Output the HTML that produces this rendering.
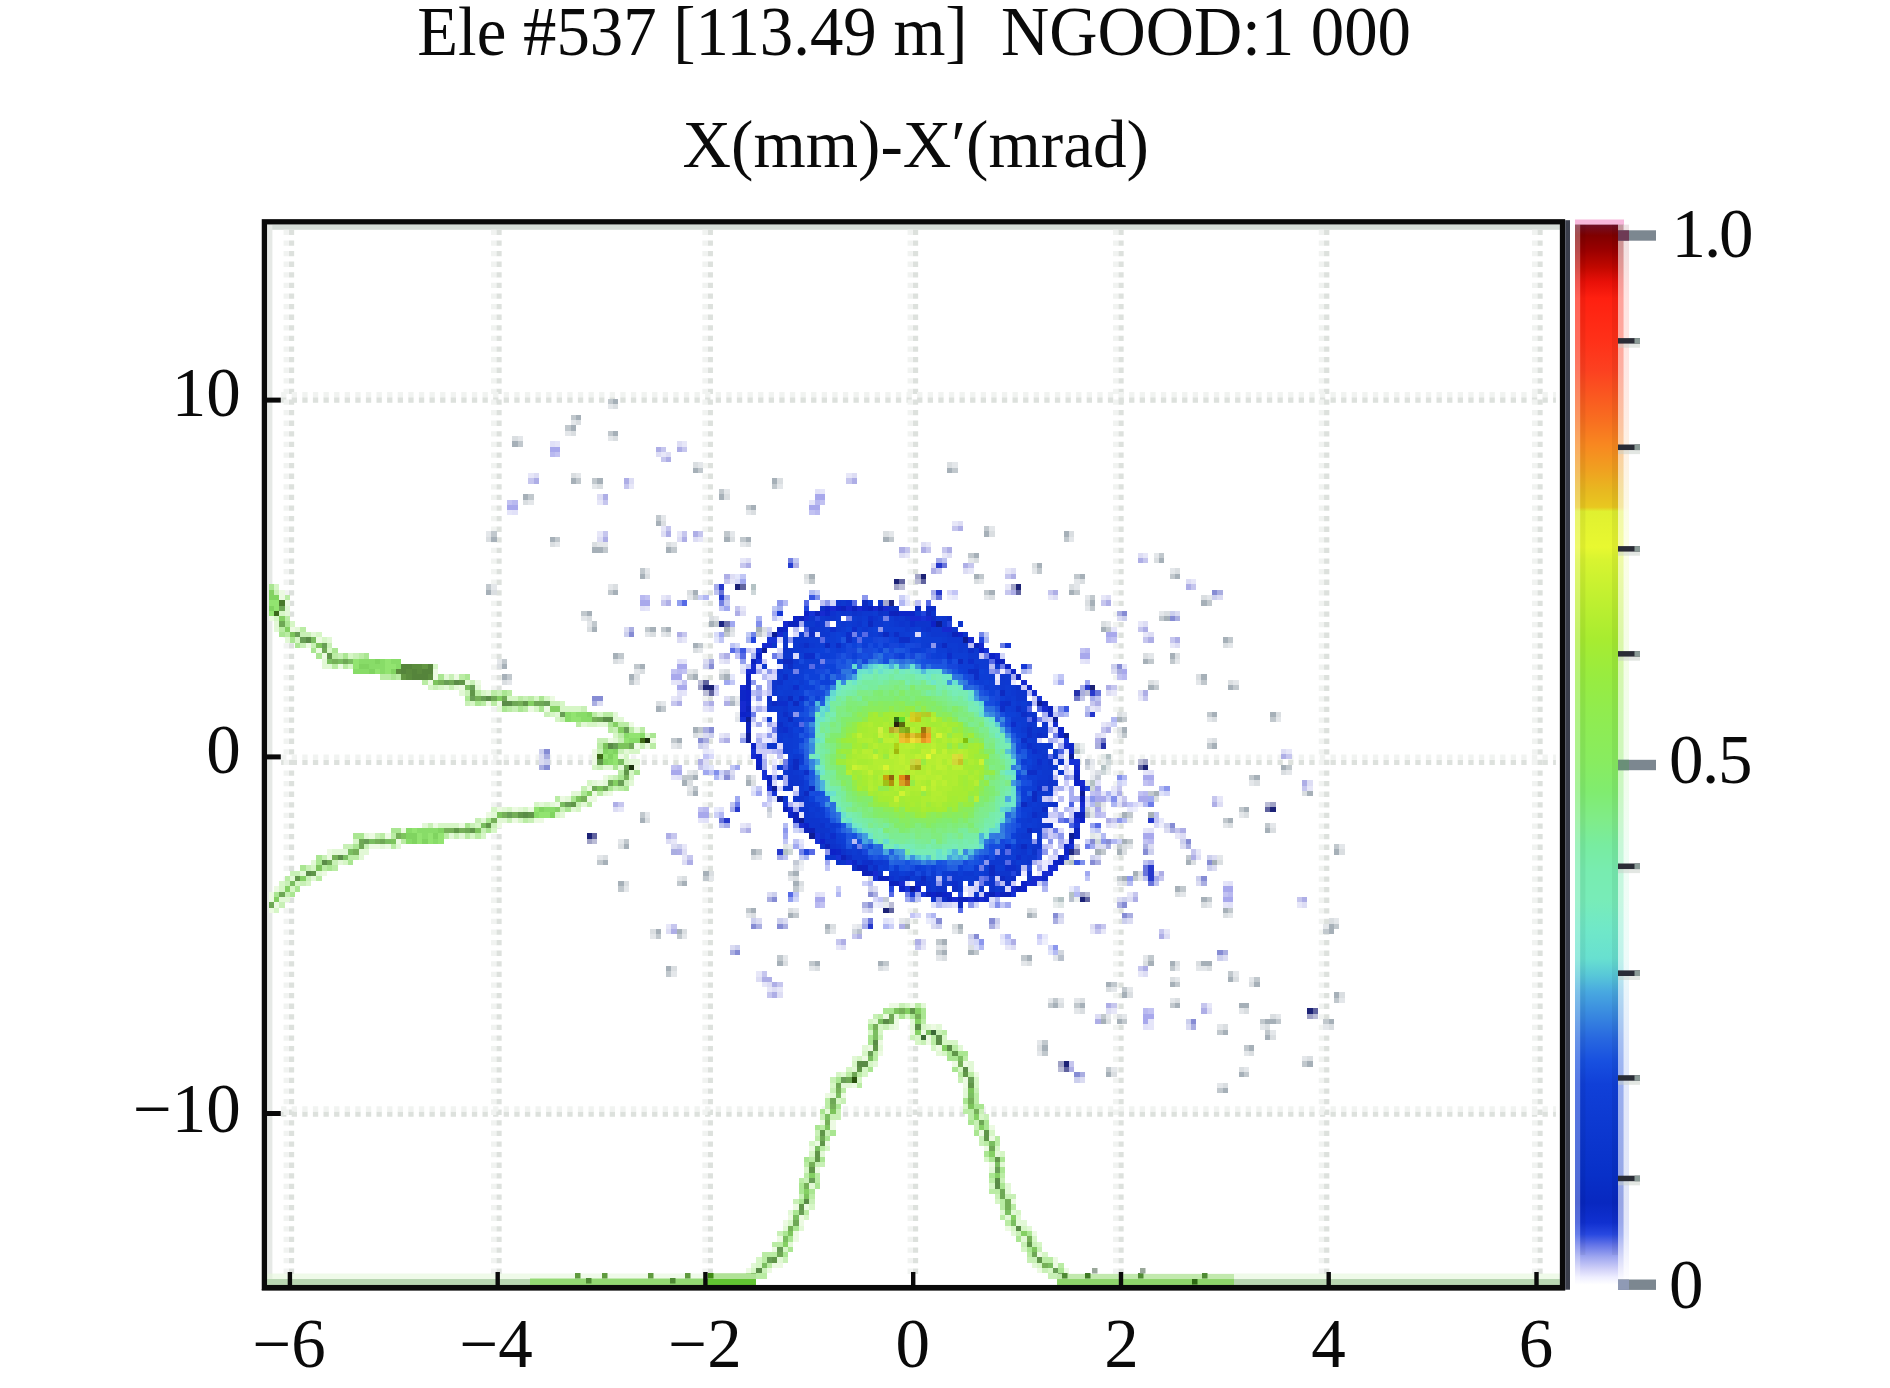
<!DOCTYPE html><html><head><meta charset="utf-8"><title>plot</title>
<style>html,body{margin:0;padding:0;background:#fff;overflow:hidden}svg{display:block}text{font-family:"Liberation Serif",serif;fill:#0a0a0a}</style></head><body>
<svg width="1890" height="1388" viewBox="0 0 1890 1388">
<rect width="1890" height="1388" fill="#fff"/>
<rect x="267.1" y="224.5" width="1292.8" height="5.3" fill="#d6ddd8"/>
<rect x="267.1" y="224.5" width="5.3" height="1060.5" fill="#e6e9e6"/>
<g stroke="#dde1dd" stroke-width="5.3" stroke-dasharray="5.3 5.3" fill="none"><line x1="291.5" y1="229.8" x2="291.5" y2="1279"/><line x1="499" y1="229.8" x2="499" y2="1279"/><line x1="710.3" y1="229.8" x2="710.3" y2="1279"/><line x1="915.5" y1="229.8" x2="915.5" y2="1279"/><line x1="1121" y1="229.8" x2="1121" y2="1279"/><line x1="1326.7" y1="229.8" x2="1326.7" y2="1279"/><line x1="1540" y1="229.8" x2="1540" y2="1279"/><line x1="281.1" y1="400" x2="1555.9" y2="400"/><line x1="281.1" y1="762.4" x2="1555.9" y2="762.4"/><line x1="281.1" y1="1114.2" x2="1555.9" y2="1114.2"/></g>
<g stroke="#f1f3f1" stroke-width="5.3" stroke-dasharray="5.3 5.3" fill="none"><line x1="286.2" y1="229.8" x2="286.2" y2="1279"/><line x1="493.7" y1="229.8" x2="493.7" y2="1279"/><line x1="705" y1="229.8" x2="705" y2="1279"/><line x1="910.2" y1="229.8" x2="910.2" y2="1279"/><line x1="1115.7" y1="229.8" x2="1115.7" y2="1279"/><line x1="1321.4" y1="229.8" x2="1321.4" y2="1279"/><line x1="1534.7" y1="229.8" x2="1534.7" y2="1279"/><line x1="281.1" y1="394.7" x2="1555.9" y2="394.7"/><line x1="281.1" y1="757.1" x2="1555.9" y2="757.1"/><line x1="281.1" y1="1108.9" x2="1555.9" y2="1108.9"/></g>
<defs><filter id="bl" x="-2%" y="-2%" width="104%" height="104%"><feGaussianBlur stdDeviation="0.6"/></filter></defs>
<g shape-rendering="crispEdges" filter="url(#bl)"><path fill="#283cd2" d="M788 563.1h5.3v5.3h-5.3zM719.1 594.9h5.3v5.3h-5.3z"/><path fill="#7380e2" d="M788 557.8h5.3v5.3h-5.3zM719.1 600.2h5.3v5.3h-5.3z"/><path fill="#aeaee6" d="M655.5 446.5h5.3v5.3h-5.3zM676.7 446.5h5.3v5.3h-5.3zM666.1 457.1h5.3v5.3h-5.3zM533.6 478.3h5.3v5.3h-5.3zM623.7 478.3h5.3v5.3h-5.3zM851.6 478.3h5.3v5.3h-5.3zM602.5 494.2h5.3v5.3h-5.3zM957.6 526h5.3v5.3h-5.3zM666.1 531.3h5.3v5.3h-5.3zM692.6 531.3h5.3v5.3h-5.3zM602.5 536.6h5.3v5.3h-5.3zM682 536.6h5.3v5.3h-5.3zM899.3 547.2h5.3v5.3h-5.3zM920.5 547.2h5.3v5.3h-5.3zM947 547.2h5.3v5.3h-5.3zM1137.8 557.8h5.3v5.3h-5.3zM745.6 563.1h5.3v5.3h-5.3zM793.3 563.1h5.3v5.3h-5.3zM962.9 563.1h5.3v5.3h-5.3zM931.1 568.4h5.3v5.3h-5.3zM724.4 573.7h5.3v5.3h-5.3zM1010.6 573.7h5.3v5.3h-5.3zM1185.5 584.3h5.3v5.3h-5.3zM1010.6 589.6h5.3v5.3h-5.3zM1053 589.6h5.3v5.3h-5.3zM666.1 600.2h5.3v5.3h-5.3zM1106 600.2h5.3v5.3h-5.3zM735 610.8h5.3v5.3h-5.3zM1143.1 626.7h5.3v5.3h-5.3zM676.7 632h5.3v5.3h-5.3zM1148.4 637.3h5.3v5.3h-5.3zM1174.9 637.3h5.3v5.3h-5.3zM724.4 653.2h5.3v5.3h-5.3zM1106 685h5.3v5.3h-5.3zM1143.1 690.3h5.3v5.3h-5.3zM676.7 700.9h5.3v5.3h-5.3zM708.5 700.9h5.3v5.3h-5.3zM724.4 700.9h5.3v5.3h-5.3zM1095.4 700.9h5.3v5.3h-5.3zM1106 727.4h5.3v5.3h-5.3zM724.4 738h5.3v5.3h-5.3zM1095.4 738h5.3v5.3h-5.3zM1280.9 753.9h5.3v5.3h-5.3zM697.9 759.2h5.3v5.3h-5.3zM1302.1 780.4h5.3v5.3h-5.3zM1116.6 791h5.3v5.3h-5.3zM613.1 801.6h5.3v5.3h-5.3zM1121.9 801.6h5.3v5.3h-5.3zM1212 801.6h5.3v5.3h-5.3zM1106 817.5h5.3v5.3h-5.3zM745.6 828.1h5.3v5.3h-5.3zM1180.2 828.1h5.3v5.3h-5.3zM666.1 833.4h5.3v5.3h-5.3zM676.7 849.3h5.3v5.3h-5.3zM1190.8 854.6h5.3v5.3h-5.3zM687.3 859.9h5.3v5.3h-5.3zM1159 870.5h5.3v5.3h-5.3zM1132.5 897h5.3v5.3h-5.3zM1302.1 897h5.3v5.3h-5.3zM899.3 923.5h5.3v5.3h-5.3zM1095.4 923.5h5.3v5.3h-5.3zM671.4 928.8h5.3v5.3h-5.3zM856.9 934.1h5.3v5.3h-5.3zM1159 934.1h5.3v5.3h-5.3zM841 939.4h5.3v5.3h-5.3zM915.2 939.4h5.3v5.3h-5.3zM1010.6 939.4h5.3v5.3h-5.3zM1143.1 965.9h5.3v5.3h-5.3zM761.5 976.5h10.6v5.3h-10.6zM772.1 981.8h5.3v5.3h-5.3zM772.1 992.4h5.3v5.3h-5.3zM1106 1003h5.3v5.3h-5.3zM1201.4 1008.3h5.3v5.3h-5.3zM1095.4 1018.9h5.3v5.3h-5.3zM1068.9 1066.6h5.3v5.3h-5.3z"/><path fill="#c3c8f2" d="M793.3 557.8h5.3v5.3h-5.3zM724.4 600.2h5.3v5.3h-5.3z"/><path fill="#a0a8f0" d="M740.3 579h5.3v5.3h-5.3zM724.4 605.5h5.3v5.3h-5.3zM772.1 610.8h5.3v5.3h-5.3zM729.7 621.4h5.3v5.3h-5.3zM719.1 632h5.3v5.3h-5.3zM724.4 679.7h5.3v5.3h-5.3zM1058.3 679.7h5.3v5.3h-5.3zM1084.8 679.7h5.3v5.3h-5.3zM1058.3 711.5h5.3v5.3h-5.3zM735 764.5h5.3v5.3h-5.3zM703.2 769.8h5.3v5.3h-5.3zM756.2 791h5.3v5.3h-5.3zM766.8 791h5.3v5.3h-5.3zM782.7 833.4h5.3v5.3h-5.3zM793.3 844h5.3v5.3h-5.3zM825.1 859.9h5.3v5.3h-5.3zM1084.8 870.5h5.3v5.3h-5.3zM1005.3 902.3h5.3v5.3h-5.3z"/><path fill="#c1c6f5" d="M740.3 573.7h5.3v5.3h-5.3zM719.1 605.5h5.3v5.3h-5.3zM772.1 616.1h5.3v5.3h-5.3zM719.1 637.3h5.3v5.3h-5.3zM745.6 663.8h5.3v5.3h-5.3zM1058.3 674.4h5.3v5.3h-5.3zM729.7 679.7h5.3v5.3h-5.3zM1053 711.5h5.3v5.3h-5.3zM729.7 764.5h5.3v5.3h-5.3zM708.5 769.8h5.3v5.3h-5.3zM756.2 785.7h5.3v5.3h-5.3zM766.8 796.3h5.3v5.3h-5.3zM782.7 838.7h5.3v5.3h-5.3zM793.3 838.7h5.3v5.3h-5.3zM825.1 865.2h5.3v5.3h-5.3zM1084.8 875.8h5.3v5.3h-5.3zM1000 902.3h5.3v5.3h-5.3z"/><path fill="#d9dcf9" d="M735 579h5.3v5.3h-5.3zM713.8 632h5.3v5.3h-5.3zM740.3 669.1h5.3v5.3h-5.3zM1053 679.7h5.3v5.3h-5.3zM703.2 764.5h5.3v5.3h-5.3zM750.9 791h5.3v5.3h-5.3zM798.6 844h5.3v5.3h-5.3z"/><path fill="#e4e7fb" d="M735 573.7h5.3v5.3h-5.3zM777.4 616.1h5.3v5.3h-5.3zM713.8 637.3h5.3v5.3h-5.3zM740.3 663.8h5.3v5.3h-5.3zM729.7 674.4h5.3v5.3h-5.3zM1053 674.4h5.3v5.3h-5.3zM1053 706.2h5.3v5.3h-5.3zM708.5 764.5h5.3v5.3h-5.3zM750.9 785.7h5.3v5.3h-5.3zM772.1 796.3h5.3v5.3h-5.3zM798.6 838.7h5.3v5.3h-5.3z"/><path fill="#b4c2c4" d="M750.9 584.3h5.3v5.3h-5.3zM1074.2 748.6h5.3v5.3h-5.3zM1106 753.9h5.3v5.3h-5.3zM1100.7 764.5h5.3v5.3h-5.3zM1090.1 780.4h5.3v5.3h-5.3zM782.7 849.3h5.3v5.3h-5.3zM1068.9 859.9h5.3v5.3h-5.3zM1068.9 891.7h5.3v5.3h-5.3zM1058.3 897h5.3v5.3h-5.3z"/><path fill="#ced7d9" d="M750.9 589.6h5.3v5.3h-5.3zM1074.2 743.3h5.3v5.3h-5.3zM1106 759.2h5.3v5.3h-5.3zM1100.7 769.8h5.3v5.3h-5.3zM1090.1 785.7h5.3v5.3h-5.3zM1095.4 838.7h5.3v5.3h-5.3zM788 849.3h5.3v5.3h-5.3zM1053 897h5.3v5.3h-5.3z"/><path fill="#c3c5f6" d="M952.3 589.6h5.3v5.3h-5.3zM745.6 647.9h5.3v5.3h-5.3zM735 653.2h5.3v5.3h-5.3zM713.8 685h5.3v5.3h-5.3zM703.2 753.9h5.3v5.3h-5.3zM761.5 801.6h5.3v5.3h-5.3zM1127.2 801.6h5.3v5.3h-5.3zM1153.7 817.5h5.3v5.3h-5.3zM878.1 897h5.3v5.3h-5.3zM909.9 912.9h5.3v5.3h-5.3zM1037.1 934.1h5.3v5.3h-5.3z"/><path fill="#d8d9f9" d="M947 589.6h5.3v5.3h-5.3zM750.9 647.9h5.3v5.3h-5.3zM713.8 690.3h5.3v5.3h-5.3zM708.5 753.9h5.3v5.3h-5.3zM766.8 801.6h5.3v5.3h-5.3zM1132.5 801.6h5.3v5.3h-5.3zM1153.7 822.8h5.3v5.3h-5.3zM872.8 897h5.3v5.3h-5.3zM915.2 912.9h5.3v5.3h-5.3zM1037.1 939.4h5.3v5.3h-5.3z"/><path fill="#e7e8fb" d="M952.3 594.9h5.3v5.3h-5.3zM703.2 748.6h5.3v5.3h-5.3zM1127.2 806.9h5.3v5.3h-5.3zM1159 817.5h5.3v5.3h-5.3zM878.1 902.3h5.3v5.3h-5.3zM1042.4 934.1h5.3v5.3h-5.3z"/><path fill="#eeeffc" d="M947 594.9h5.3v5.3h-5.3zM708.5 748.6h5.3v5.3h-5.3zM1132.5 806.9h5.3v5.3h-5.3zM1159 822.8h5.3v5.3h-5.3zM872.8 902.3h5.3v5.3h-5.3zM1042.4 939.4h5.3v5.3h-5.3z"/><path fill="#b1b7f3" d="M703.2 594.9h5.3v5.3h-5.3zM899.3 600.2h5.3v5.3h-5.3zM766.8 632h5.3v5.3h-5.3zM1111.3 716.8h5.3v5.3h-5.3zM1106 791h5.3v5.3h-5.3zM1143.1 801.6h5.3v5.3h-5.3zM719.1 812.2h5.3v5.3h-5.3zM1111.3 838.7h5.3v5.3h-5.3zM867.5 881.1h5.3v5.3h-5.3zM1042.4 886.4h5.3v5.3h-5.3zM835.7 891.7h5.3v5.3h-5.3zM1074.2 891.7h5.3v5.3h-5.3zM931.1 912.9h5.3v5.3h-5.3zM883.4 923.5h5.3v5.3h-5.3zM1005.3 934.1h5.3v5.3h-5.3z"/><path fill="#ccd0f7" d="M697.9 594.9h5.3v5.3h-5.3zM899.3 594.9h5.3v5.3h-5.3zM766.8 626.7h5.3v5.3h-5.3zM1111.3 722.1h5.3v5.3h-5.3zM1106 796.3h5.3v5.3h-5.3zM713.8 812.2h5.3v5.3h-5.3zM1116.6 838.7h5.3v5.3h-5.3zM862.2 881.1h5.3v5.3h-5.3zM835.7 886.4h5.3v5.3h-5.3zM1074.2 886.4h5.3v5.3h-5.3zM941.7 902.3h5.3v5.3h-5.3zM925.8 912.9h5.3v5.3h-5.3zM888.7 923.5h5.3v5.3h-5.3zM1005.3 939.4h5.3v5.3h-5.3z"/><path fill="#a9b1ed" d="M724.4 594.9h5.3v5.3h-5.3z"/><path fill="#3955e2" d="M809.2 594.9h5.3v5.3h-5.3zM740.3 647.9h5.3v5.3h-5.3zM1063.6 706.2h5.3v5.3h-5.3zM1074.2 859.9h5.3v5.3h-5.3z"/><path fill="#7e90ec" d="M814.5 594.9h5.3v5.3h-5.3zM1058.3 706.2h5.3v5.3h-5.3zM1079.5 859.9h5.3v5.3h-5.3z"/><path fill="#b0bbf3" d="M809.2 589.6h5.3v5.3h-5.3zM1063.6 711.5h5.3v5.3h-5.3z"/><path fill="#c8cff7" d="M814.5 589.6h5.3v5.3h-5.3z"/><path fill="#576be6" d="M682 600.2h5.3v5.3h-5.3zM803.9 600.2h5.3v5.3h-5.3zM851.6 600.2h5.3v5.3h-5.3zM925.8 600.2h5.3v5.3h-5.3zM862.2 632h5.3v5.3h-5.3zM819.8 637.3h5.3v5.3h-5.3zM856.9 637.3h5.3v5.3h-5.3zM729.7 647.9h5.3v5.3h-5.3zM740.3 653.2h5.3v5.3h-5.3zM989.4 658.5h5.3v5.3h-5.3zM809.2 663.8h5.3v5.3h-5.3zM1026.5 706.2h5.3v5.3h-5.3zM1026.5 716.8h5.3v5.3h-5.3zM798.6 722.1h5.3v5.3h-5.3zM1047.7 753.9h5.3v5.3h-5.3zM782.7 764.5h5.3v5.3h-5.3zM1095.4 822.8h5.3v5.3h-5.3zM809.2 849.3h5.3v5.3h-5.3zM1005.3 849.3h5.3v5.3h-5.3zM1005.3 859.9h5.3v5.3h-5.3zM984.1 875.8h5.3v5.3h-5.3zM788 891.7h5.3v5.3h-5.3zM888.7 891.7h5.3v5.3h-5.3zM957.6 907.6h5.3v5.3h-5.3z"/><path fill="#929fef" d="M676.7 600.2h5.3v5.3h-5.3zM735 647.9h5.3v5.3h-5.3zM740.3 658.5h5.3v5.3h-5.3zM740.3 738h5.3v5.3h-5.3zM793.3 822.8h5.3v5.3h-5.3zM1090.1 822.8h5.3v5.3h-5.3zM788 897h5.3v5.3h-5.3z"/><path fill="#8c97ed" d="M862.2 594.9h5.3v5.3h-5.3zM777.4 600.2h5.3v5.3h-5.3zM825.1 600.2h5.3v5.3h-5.3zM825.1 621.4h5.3v5.3h-5.3zM878.1 626.7h5.3v5.3h-5.3zM803.9 632h5.3v5.3h-5.3zM788 637.3h5.3v5.3h-5.3zM931.1 642.6h5.3v5.3h-5.3zM766.8 669.1h5.3v5.3h-5.3zM989.4 669.1h5.3v5.3h-5.3zM1005.3 669.1h5.3v5.3h-5.3zM750.9 679.7h5.3v5.3h-5.3zM756.2 685h5.3v5.3h-5.3zM756.2 695.6h5.3v5.3h-5.3zM793.3 711.5h5.3v5.3h-5.3zM766.8 732.7h5.3v5.3h-5.3zM1063.6 775.1h5.3v5.3h-5.3zM1164.3 785.7h5.3v5.3h-5.3zM1090.1 796.3h5.3v5.3h-5.3zM1116.6 817.5h5.3v5.3h-5.3zM782.7 828.1h5.3v5.3h-5.3zM1042.4 833.4h5.3v5.3h-5.3zM1058.3 833.4h5.3v5.3h-5.3zM1031.8 838.7h5.3v5.3h-5.3zM1047.7 838.7h5.3v5.3h-5.3zM1100.7 838.7h5.3v5.3h-5.3zM825.1 849.3h5.3v5.3h-5.3zM994.7 849.3h5.3v5.3h-5.3zM1042.4 849.3h5.3v5.3h-5.3zM984.1 859.9h5.3v5.3h-5.3zM1127.2 875.8h5.3v5.3h-5.3zM936.4 881.1h5.3v5.3h-5.3zM1042.4 881.1h5.3v5.3h-5.3zM936.4 897h5.3v5.3h-5.3zM968.2 902.3h5.3v5.3h-5.3zM978.8 939.4h5.3v5.3h-5.3zM1053 944.7h5.3v5.3h-5.3z"/><path fill="#b4bbf3" d="M782.7 600.2h5.3v5.3h-5.3zM1159 785.7h5.3v5.3h-5.3zM1090.1 801.6h5.3v5.3h-5.3zM1121.9 817.5h5.3v5.3h-5.3zM782.7 822.8h5.3v5.3h-5.3zM1100.7 833.4h5.3v5.3h-5.3zM1127.2 881.1h5.3v5.3h-5.3zM936.4 902.3h5.3v5.3h-5.3zM978.8 944.7h5.3v5.3h-5.3zM1053 950h5.3v5.3h-5.3z"/><path fill="#1024c8" d="M825.1 605.5h5.3v5.3h-5.3zM835.7 605.5h5.3v5.3h-5.3zM803.9 610.8h5.3v5.3h-5.3zM793.3 616.1h5.3v5.3h-5.3zM931.1 621.4h5.3v5.3h-5.3zM957.6 632h5.3v5.3h-5.3zM978.8 647.9h5.3v5.3h-5.3zM756.2 653.2h5.3v5.3h-5.3zM989.4 653.2h5.3v5.3h-5.3zM994.7 658.5h5.3v5.3h-5.3zM1005.3 663.8h5.3v5.3h-5.3zM745.6 674.4h5.3v5.3h-5.3zM1026.5 685h5.3v5.3h-5.3zM745.6 690.3h5.3v5.3h-5.3zM745.6 695.6h5.3v5.3h-5.3zM740.3 711.5h5.3v5.3h-5.3zM1058.3 727.4h5.3v5.3h-5.3zM1058.3 732.7h5.3v5.3h-5.3zM750.9 743.3h5.3v5.3h-5.3zM1068.9 748.6h5.3v5.3h-5.3zM756.2 753.9h5.3v5.3h-5.3zM756.2 759.2h5.3v5.3h-5.3zM1074.2 769.8h5.3v5.3h-5.3zM1074.2 780.4h5.3v5.3h-5.3zM1079.5 785.7h5.3v5.3h-5.3zM1079.5 817.5h5.3v5.3h-5.3zM803.9 822.8h5.3v5.3h-5.3zM819.8 838.7h5.3v5.3h-5.3zM830.4 849.3h5.3v5.3h-5.3zM1063.6 849.3h5.3v5.3h-5.3zM1053 859.9h5.3v5.3h-5.3zM1021.2 881.1h5.3v5.3h-5.3zM899.3 886.4h5.3v5.3h-5.3zM915.2 886.4h5.3v5.3h-5.3zM1021.2 886.4h5.3v5.3h-5.3zM931.1 891.7h5.3v5.3h-5.3zM941.7 891.7h5.3v5.3h-5.3z"/><path fill="#d1d5f8" d="M830.4 600.2h5.3v5.3h-5.3zM1000 653.2h5.3v5.3h-5.3zM1164.3 791h5.3v5.3h-5.3zM1084.8 796.3h5.3v5.3h-5.3zM1037.1 881.1h5.3v5.3h-5.3zM947 902.3h5.3v5.3h-5.3zM973.5 902.3h5.3v5.3h-5.3zM973.5 939.4h5.3v5.3h-5.3zM1047.7 944.7h5.3v5.3h-5.3z"/><path fill="#122ad0" d="M830.4 605.5h5.3v5.3h-5.3zM846.3 605.5h5.3v5.3h-5.3zM856.9 605.5h5.3v5.3h-5.3zM872.8 605.5h5.3v5.3h-5.3zM883.4 605.5h5.3v5.3h-5.3zM819.8 610.8h5.3v5.3h-5.3zM803.9 616.1h5.3v5.3h-5.3zM909.9 616.1h10.6v5.3h-10.6zM925.8 616.1h5.3v5.3h-5.3zM782.7 621.4h5.3v5.3h-5.3zM941.7 626.7h10.6v5.3h-10.6zM777.4 632h5.3v5.3h-5.3zM968.2 637.3h5.3v5.3h-5.3zM761.5 642.6h10.6v5.3h-10.6zM978.8 642.6h5.3v5.3h-5.3zM994.7 653.2h5.3v5.3h-5.3zM750.9 663.8h5.3v5.3h-5.3zM745.6 669.1h10.6v5.3h-10.6zM1021.2 679.7h5.3v5.3h-5.3zM740.3 685h5.3v5.3h-5.3zM1031.8 690.3h5.3v5.3h-5.3zM740.3 700.9h5.3v5.3h-5.3zM740.3 706.2h5.3v5.3h-5.3zM1042.4 706.2h5.3v5.3h-5.3zM1053 722.1h5.3v5.3h-5.3zM1063.6 743.3h5.3v5.3h-5.3zM750.9 753.9h5.3v5.3h-5.3zM1074.2 764.5h5.3v5.3h-5.3zM1079.5 780.4h5.3v5.3h-5.3zM766.8 785.7h5.3v5.3h-5.3zM1079.5 801.6h5.3v5.3h-5.3zM788 806.9h5.3v5.3h-5.3zM1074.2 817.5h5.3v5.3h-5.3zM798.6 822.8h5.3v5.3h-5.3zM1047.7 865.2h10.6v5.3h-10.6zM872.8 870.5h5.3v5.3h-5.3zM1042.4 870.5h10.6v5.3h-10.6zM1031.8 875.8h10.6v5.3h-10.6zM899.3 881.1h5.3v5.3h-5.3zM1026.5 881.1h10.6v5.3h-10.6zM1010.6 886.4h5.3v5.3h-5.3zM994.7 891.7h5.3v5.3h-5.3zM952.3 897h5.3v5.3h-5.3zM968.2 897h5.3v5.3h-5.3zM978.8 897h5.3v5.3h-5.3z"/><path fill="#0b36ce" d="M835.7 600.2h5.3v5.3h-5.3zM841 610.8h5.3v5.3h-5.3zM825.1 616.1h5.3v5.3h-5.3zM872.8 616.1h5.3v5.3h-5.3zM894 616.1h5.3v5.3h-5.3zM856.9 621.4h5.3v5.3h-5.3zM899.3 621.4h5.3v5.3h-5.3zM925.8 621.4h5.3v5.3h-5.3zM941.7 621.4h5.3v5.3h-5.3zM920.5 626.7h5.3v5.3h-5.3zM798.6 642.6h5.3v5.3h-5.3zM788 653.2h5.3v5.3h-5.3zM973.5 663.8h5.3v5.3h-5.3zM777.4 669.1h5.3v5.3h-5.3zM1000 674.4h5.3v5.3h-5.3zM1021.2 695.6h5.3v5.3h-5.3zM1026.5 700.9h5.3v5.3h-5.3zM766.8 706.2h5.3v5.3h-5.3zM782.7 706.2h5.3v5.3h-5.3zM1026.5 711.5h5.3v5.3h-5.3zM1042.4 722.1h5.3v5.3h-5.3zM1031.8 732.7h5.3v5.3h-5.3zM766.8 743.3h10.6v5.3h-10.6zM1031.8 743.3h5.3v5.3h-5.3zM1037.1 748.6h5.3v5.3h-5.3zM777.4 764.5h5.3v5.3h-5.3zM1037.1 764.5h5.3v5.3h-5.3zM1047.7 764.5h5.3v5.3h-5.3zM788 769.8h5.3v5.3h-5.3zM1058.3 769.8h5.3v5.3h-5.3zM788 775.1h5.3v5.3h-5.3zM798.6 780.4h5.3v5.3h-5.3zM1037.1 780.4h10.6v5.3h-10.6zM1053 780.4h5.3v5.3h-5.3zM1047.7 785.7h5.3v5.3h-5.3zM798.6 806.9h5.3v5.3h-5.3zM803.9 812.2h5.3v5.3h-5.3zM803.9 817.5h5.3v5.3h-5.3zM814.5 817.5h5.3v5.3h-5.3zM809.2 822.8h5.3v5.3h-5.3zM1031.8 828.1h5.3v5.3h-5.3zM835.7 844h5.3v5.3h-5.3zM1015.9 844h5.3v5.3h-5.3zM1021.2 849.3h5.3v5.3h-5.3zM830.4 854.6h5.3v5.3h-5.3zM1026.5 854.6h5.3v5.3h-5.3zM1010.6 859.9h5.3v5.3h-5.3zM1015.9 865.2h5.3v5.3h-5.3zM909.9 870.5h5.3v5.3h-5.3zM994.7 870.5h5.3v5.3h-5.3z"/><path fill="#0b37cf" d="M841 600.2h5.3v5.3h-5.3zM846.3 610.8h5.3v5.3h-5.3zM915.2 610.8h5.3v5.3h-5.3zM856.9 616.1h5.3v5.3h-5.3zM899.3 616.1h5.3v5.3h-5.3zM809.2 621.4h5.3v5.3h-5.3zM819.8 621.4h5.3v5.3h-5.3zM904.6 621.4h5.3v5.3h-5.3zM798.6 632h5.3v5.3h-5.3zM878.1 632h5.3v5.3h-5.3zM994.7 663.8h5.3v5.3h-5.3zM1005.3 674.4h5.3v5.3h-5.3zM1010.6 685h5.3v5.3h-5.3zM772.1 690.3h5.3v5.3h-5.3zM1031.8 727.4h5.3v5.3h-5.3zM1042.4 748.6h5.3v5.3h-5.3zM1037.1 791h5.3v5.3h-5.3zM803.9 801.6h5.3v5.3h-5.3zM1042.4 812.2h5.3v5.3h-5.3zM1037.1 822.8h5.3v5.3h-5.3zM1026.5 833.4h5.3v5.3h-5.3zM1037.1 833.4h5.3v5.3h-5.3zM846.3 849.3h5.3v5.3h-5.3zM1031.8 854.6h5.3v5.3h-5.3zM1021.2 859.9h5.3v5.3h-5.3zM867.5 865.2h5.3v5.3h-5.3zM931.1 875.8h5.3v5.3h-5.3z"/><path fill="#1030cf" d="M846.3 600.2h5.3v5.3h-5.3zM830.4 610.8h5.3v5.3h-5.3zM814.5 621.4h5.3v5.3h-5.3zM1037.1 844h5.3v5.3h-5.3zM888.7 875.8h5.3v5.3h-5.3zM925.8 886.4h5.3v5.3h-5.3z"/><path fill="#0c38d0" d="M867.5 600.2h5.3v5.3h-5.3zM835.7 610.8h5.3v5.3h-5.3zM862.2 610.8h10.6v5.3h-10.6zM936.4 616.1h5.3v5.3h-5.3zM841 621.4h5.3v5.3h-5.3zM872.8 621.4h5.3v5.3h-5.3zM894 621.4h5.3v5.3h-5.3zM819.8 626.7h5.3v5.3h-5.3zM835.7 626.7h5.3v5.3h-5.3zM904.6 626.7h5.3v5.3h-5.3zM936.4 626.7h5.3v5.3h-5.3zM936.4 632h5.3v5.3h-5.3zM947 637.3h5.3v5.3h-5.3zM957.6 637.3h5.3v5.3h-5.3zM793.3 642.6h5.3v5.3h-5.3zM962.9 642.6h5.3v5.3h-5.3zM793.3 647.9h5.3v5.3h-5.3zM947 647.9h5.3v5.3h-5.3zM973.5 647.9h5.3v5.3h-5.3zM761.5 663.8h5.3v5.3h-5.3zM782.7 663.8h5.3v5.3h-5.3zM1000 685h5.3v5.3h-5.3zM1021.2 706.2h5.3v5.3h-5.3zM777.4 711.5h5.3v5.3h-5.3zM766.8 716.8h5.3v5.3h-5.3zM777.4 716.8h5.3v5.3h-5.3zM782.7 722.1h5.3v5.3h-5.3zM1031.8 722.1h5.3v5.3h-5.3zM1021.2 727.4h5.3v5.3h-5.3zM777.4 732.7h5.3v5.3h-5.3zM777.4 738h5.3v5.3h-5.3zM1037.1 743.3h5.3v5.3h-5.3zM793.3 753.9h5.3v5.3h-5.3zM788 759.2h5.3v5.3h-5.3zM1053 764.5h5.3v5.3h-5.3zM782.7 769.8h5.3v5.3h-5.3zM793.3 769.8h5.3v5.3h-5.3zM1042.4 775.1h5.3v5.3h-5.3zM798.6 785.7h5.3v5.3h-5.3zM803.9 796.3h5.3v5.3h-5.3zM1026.5 801.6h5.3v5.3h-5.3zM1037.1 801.6h5.3v5.3h-5.3zM1031.8 806.9h10.6v5.3h-10.6zM1026.5 817.5h5.3v5.3h-5.3zM830.4 822.8h5.3v5.3h-5.3zM1021.2 833.4h5.3v5.3h-5.3zM1015.9 849.3h5.3v5.3h-5.3zM851.6 854.6h15.9v5.3h-15.9zM1021.2 854.6h5.3v5.3h-5.3zM878.1 859.9h5.3v5.3h-5.3zM888.7 870.5h10.6v5.3h-10.6zM968.2 870.5h5.3v5.3h-5.3zM984.1 870.5h5.3v5.3h-5.3zM915.2 875.8h5.3v5.3h-5.3z"/><path fill="#0a35cd" d="M878.1 600.2h5.3v5.3h-5.3zM931.1 610.8h5.3v5.3h-5.3zM809.2 616.1h5.3v5.3h-5.3zM814.5 626.7h5.3v5.3h-5.3zM947 632h5.3v5.3h-5.3zM782.7 637.3h5.3v5.3h-5.3zM1021.2 690.3h5.3v5.3h-5.3zM1026.5 722.1h5.3v5.3h-5.3zM1047.7 743.3h5.3v5.3h-5.3zM1053 753.9h5.3v5.3h-5.3zM793.3 775.1h5.3v5.3h-5.3zM809.2 817.5h5.3v5.3h-5.3zM1026.5 859.9h5.3v5.3h-5.3zM989.4 875.8h5.3v5.3h-5.3z"/><path fill="#1e2882" d="M888.7 600.2h5.3v5.3h-5.3zM719.1 621.4h5.3v5.3h-5.3zM1068.9 849.3h5.3v5.3h-5.3z"/><path fill="#0932ca" d="M888.7 605.5h5.3v5.3h-5.3zM777.4 679.7h5.3v5.3h-5.3zM1015.9 685h5.3v5.3h-5.3zM766.8 700.9h5.3v5.3h-5.3zM1042.4 732.7h5.3v5.3h-5.3zM1058.3 759.2h5.3v5.3h-5.3zM777.4 775.1h5.3v5.3h-5.3zM788 780.4h5.3v5.3h-5.3zM782.7 785.7h5.3v5.3h-5.3zM819.8 833.4h5.3v5.3h-5.3zM835.7 859.9h5.3v5.3h-5.3z"/><path fill="#a5a9cd" d="M883.4 600.2h5.3v5.3h-5.3z"/><path fill="#e0e2fa" d="M904.6 600.2h5.3v5.3h-5.3zM1111.3 791h5.3v5.3h-5.3zM719.1 806.9h5.3v5.3h-5.3zM883.4 918.2h5.3v5.3h-5.3zM931.1 918.2h5.3v5.3h-5.3zM1000 934.1h5.3v5.3h-5.3z"/><path fill="#e9ebfc" d="M904.6 594.9h5.3v5.3h-5.3zM713.8 806.9h5.3v5.3h-5.3zM1068.9 886.4h5.3v5.3h-5.3zM888.7 918.2h5.3v5.3h-5.3zM925.8 918.2h5.3v5.3h-5.3zM1000 939.4h5.3v5.3h-5.3z"/><path fill="#0e22be" d="M841 605.5h5.3v5.3h-5.3zM851.6 605.5h5.3v5.3h-5.3zM867.5 605.5h5.3v5.3h-5.3zM888.7 610.8h5.3v5.3h-5.3zM788 621.4h10.6v5.3h-10.6zM777.4 626.7h5.3v5.3h-5.3zM750.9 658.5h5.3v5.3h-5.3zM1000 658.5h5.3v5.3h-5.3zM745.6 685h5.3v5.3h-5.3zM1042.4 700.9h5.3v5.3h-5.3zM745.6 706.2h5.3v5.3h-5.3zM1047.7 706.2h5.3v5.3h-5.3zM1047.7 711.5h5.3v5.3h-5.3zM1079.5 796.3h5.3v5.3h-5.3zM1074.2 812.2h5.3v5.3h-5.3zM1074.2 828.1h5.3v5.3h-5.3zM1074.2 833.4h5.3v5.3h-5.3zM1068.9 838.7h5.3v5.3h-5.3zM1058.3 859.9h5.3v5.3h-5.3zM862.2 865.2h5.3v5.3h-5.3zM867.5 870.5h5.3v5.3h-5.3zM883.4 875.8h5.3v5.3h-5.3zM888.7 881.1h10.6v5.3h-10.6zM1000 891.7h5.3v5.3h-5.3zM947 897h5.3v5.3h-5.3zM957.6 897h10.6v5.3h-10.6zM973.5 897h5.3v5.3h-5.3z"/><path fill="#0831c9" d="M894 605.5h5.3v5.3h-5.3zM878.1 610.8h5.3v5.3h-5.3zM1047.7 759.2h5.3v5.3h-5.3zM1000 886.4h5.3v5.3h-5.3z"/><path fill="#082fc7" d="M819.8 605.5h5.3v5.3h-5.3zM925.8 605.5h10.6v5.3h-10.6zM931.1 616.1h5.3v5.3h-5.3zM947 616.1h5.3v5.3h-5.3zM809.2 632h5.3v5.3h-5.3zM894 632h5.3v5.3h-5.3zM846.3 637.3h5.3v5.3h-5.3zM899.3 637.3h10.6v5.3h-10.6zM803.9 642.6h5.3v5.3h-5.3zM835.7 642.6h5.3v5.3h-5.3zM968.2 647.9h5.3v5.3h-5.3zM788 663.8h5.3v5.3h-5.3zM968.2 669.1h10.6v5.3h-10.6zM782.7 674.4h5.3v5.3h-5.3zM973.5 674.4h5.3v5.3h-5.3zM766.8 695.6h5.3v5.3h-5.3zM1005.3 700.9h5.3v5.3h-5.3zM1000 706.2h5.3v5.3h-5.3zM1015.9 706.2h5.3v5.3h-5.3zM782.7 711.5h5.3v5.3h-5.3zM1021.2 711.5h5.3v5.3h-5.3zM777.4 722.1h5.3v5.3h-5.3zM1026.5 727.4h5.3v5.3h-5.3zM1026.5 732.7h5.3v5.3h-5.3zM1037.1 732.7h5.3v5.3h-5.3zM1021.2 738h5.3v5.3h-5.3zM803.9 769.8h5.3v5.3h-5.3zM1026.5 769.8h10.6v5.3h-10.6zM1031.8 812.2h5.3v5.3h-5.3zM846.3 854.6h5.3v5.3h-5.3zM867.5 859.9h5.3v5.3h-5.3zM851.6 865.2h5.3v5.3h-5.3zM872.8 865.2h5.3v5.3h-5.3zM904.6 875.8h5.3v5.3h-5.3zM1010.6 875.8h5.3v5.3h-5.3zM920.5 881.1h5.3v5.3h-5.3zM1005.3 881.1h5.3v5.3h-5.3zM952.3 886.4h5.3v5.3h-5.3zM941.7 897h5.3v5.3h-5.3z"/><path fill="#1939d6" d="M777.4 610.8h5.3v5.3h-5.3zM1005.3 642.6h5.3v5.3h-5.3zM1021.2 663.8h5.3v5.3h-5.3zM909.9 891.7h5.3v5.3h-5.3z"/><path fill="#a3b0ef" d="M777.4 605.5h5.3v5.3h-5.3zM750.9 653.2h5.3v5.3h-5.3zM1021.2 669.1h5.3v5.3h-5.3zM915.2 891.7h5.3v5.3h-5.3z"/><path fill="#bfc8f4" d="M772.1 605.5h5.3v5.3h-5.3zM1026.5 669.1h5.3v5.3h-5.3zM915.2 897h5.3v5.3h-5.3z"/><path fill="#0e20ba" d="M878.1 605.5h5.3v5.3h-5.3zM814.5 610.8h5.3v5.3h-5.3zM894 610.8h5.3v5.3h-5.3zM798.6 616.1h5.3v5.3h-5.3zM952.3 632h5.3v5.3h-5.3zM973.5 642.6h5.3v5.3h-5.3zM1015.9 674.4h5.3v5.3h-5.3zM745.6 679.7h5.3v5.3h-5.3zM745.6 722.1h5.3v5.3h-5.3zM745.6 727.4h5.3v5.3h-5.3zM756.2 764.5h5.3v5.3h-5.3zM1074.2 775.1h5.3v5.3h-5.3zM766.8 780.4h5.3v5.3h-5.3zM782.7 806.9h5.3v5.3h-5.3zM793.3 812.2h5.3v5.3h-5.3zM1079.5 812.2h5.3v5.3h-5.3zM793.3 817.5h5.3v5.3h-5.3zM803.9 828.1h10.6v5.3h-10.6zM825.1 844h5.3v5.3h-5.3zM841 854.6h5.3v5.3h-5.3zM1058.3 854.6h5.3v5.3h-5.3zM856.9 865.2h5.3v5.3h-5.3zM862.2 870.5h5.3v5.3h-5.3zM878.1 875.8h5.3v5.3h-5.3zM1015.9 886.4h5.3v5.3h-5.3zM925.8 891.7h5.3v5.3h-5.3zM936.4 891.7h5.3v5.3h-5.3zM989.4 891.7h5.3v5.3h-5.3zM1005.3 891.7h5.3v5.3h-5.3z"/><path fill="#0b35cd" d="M856.9 610.8h5.3v5.3h-5.3zM941.7 616.1h5.3v5.3h-5.3zM915.2 621.4h5.3v5.3h-5.3zM777.4 658.5h5.3v5.3h-5.3zM772.1 685h5.3v5.3h-5.3zM1015.9 690.3h5.3v5.3h-5.3zM1037.1 727.4h10.6v5.3h-10.6zM1047.7 775.1h5.3v5.3h-5.3zM803.9 806.9h5.3v5.3h-5.3zM1037.1 812.2h5.3v5.3h-5.3zM814.5 822.8h5.3v5.3h-5.3zM825.1 828.1h5.3v5.3h-5.3zM1037.1 828.1h5.3v5.3h-5.3zM830.4 838.7h5.3v5.3h-5.3zM1037.1 838.7h5.3v5.3h-5.3zM1000 870.5h5.3v5.3h-5.3zM925.8 881.1h5.3v5.3h-5.3zM947 881.1h5.3v5.3h-5.3zM973.5 891.7h5.3v5.3h-5.3z"/><path fill="#0d3ad2" d="M872.8 610.8h5.3v5.3h-5.3zM851.6 616.1h5.3v5.3h-5.3zM878.1 616.1h5.3v5.3h-5.3zM888.7 616.1h5.3v5.3h-5.3zM835.7 621.4h5.3v5.3h-5.3zM846.3 621.4h5.3v5.3h-5.3zM888.7 621.4h5.3v5.3h-5.3zM825.1 626.7h5.3v5.3h-5.3zM899.3 632h5.3v5.3h-5.3zM925.8 632h5.3v5.3h-5.3zM814.5 637.3h5.3v5.3h-5.3zM941.7 637.3h5.3v5.3h-5.3zM814.5 642.6h5.3v5.3h-5.3zM947 642.6h10.6v5.3h-10.6zM952.3 647.9h5.3v5.3h-5.3zM962.9 647.9h5.3v5.3h-5.3zM973.5 658.5h15.9v5.3h-15.9zM798.6 663.8h5.3v5.3h-5.3zM984.1 663.8h5.3v5.3h-5.3zM782.7 669.1h10.6v5.3h-10.6zM989.4 674.4h5.3v5.3h-5.3zM798.6 679.7h5.3v5.3h-5.3zM777.4 685h5.3v5.3h-5.3zM984.1 685h5.3v5.3h-5.3zM1005.3 685h5.3v5.3h-5.3zM782.7 690.3h10.6v5.3h-10.6zM1005.3 690.3h5.3v5.3h-5.3zM1010.6 695.6h5.3v5.3h-5.3zM1015.9 716.8h5.3v5.3h-5.3zM1021.2 722.1h5.3v5.3h-5.3zM782.7 732.7h5.3v5.3h-5.3zM782.7 743.3h5.3v5.3h-5.3zM798.6 753.9h5.3v5.3h-5.3zM1031.8 753.9h5.3v5.3h-5.3zM1031.8 759.2h5.3v5.3h-5.3zM1031.8 780.4h5.3v5.3h-5.3zM1047.7 791h5.3v5.3h-5.3zM814.5 812.2h10.6v5.3h-10.6zM1021.2 817.5h5.3v5.3h-5.3zM1031.8 822.8h5.3v5.3h-5.3zM1015.9 833.4h5.3v5.3h-5.3zM841 844h5.3v5.3h-5.3zM851.6 849.3h5.3v5.3h-5.3zM1000 849.3h5.3v5.3h-5.3zM1010.6 849.3h5.3v5.3h-5.3zM825.1 854.6h5.3v5.3h-5.3zM883.4 859.9h5.3v5.3h-5.3zM920.5 870.5h5.3v5.3h-5.3zM931.1 870.5h5.3v5.3h-5.3zM941.7 870.5h5.3v5.3h-5.3zM925.8 875.8h5.3v5.3h-5.3zM962.9 875.8h10.6v5.3h-10.6z"/><path fill="#0a34cc" d="M883.4 610.8h5.3v5.3h-5.3zM830.4 616.1h5.3v5.3h-5.3zM920.5 621.4h5.3v5.3h-5.3zM957.6 621.4h5.3v5.3h-5.3zM952.3 626.7h5.3v5.3h-5.3zM962.9 632h5.3v5.3h-5.3zM772.1 642.6h5.3v5.3h-5.3zM782.7 642.6h5.3v5.3h-5.3zM788 647.9h5.3v5.3h-5.3zM782.7 653.2h5.3v5.3h-5.3zM772.1 679.7h5.3v5.3h-5.3zM777.4 695.6h5.3v5.3h-5.3zM1015.9 695.6h5.3v5.3h-5.3zM1031.8 711.5h5.3v5.3h-5.3zM1042.4 753.9h5.3v5.3h-5.3zM788 764.5h5.3v5.3h-5.3zM793.3 780.4h5.3v5.3h-5.3zM782.7 796.3h5.3v5.3h-5.3zM1042.4 822.8h5.3v5.3h-5.3zM814.5 828.1h10.6v5.3h-10.6zM1031.8 844h5.3v5.3h-5.3zM841 859.9h5.3v5.3h-5.3zM878.1 870.5h5.3v5.3h-5.3zM1005.3 870.5h5.3v5.3h-5.3zM941.7 881.1h5.3v5.3h-5.3zM957.6 886.4h5.3v5.3h-5.3zM978.8 886.4h5.3v5.3h-5.3z"/><path fill="#1026c8" d="M862.2 605.5h5.3v5.3h-5.3zM825.1 610.8h5.3v5.3h-5.3zM899.3 610.8h15.9v5.3h-15.9zM782.7 626.7h5.3v5.3h-5.3zM1010.6 669.1h5.3v5.3h-5.3zM740.3 690.3h5.3v5.3h-5.3zM740.3 695.6h5.3v5.3h-5.3zM745.6 700.9h5.3v5.3h-5.3zM745.6 711.5h5.3v5.3h-5.3zM1068.9 743.3h5.3v5.3h-5.3zM766.8 775.1h5.3v5.3h-5.3zM788 812.2h5.3v5.3h-5.3zM1063.6 844h5.3v5.3h-5.3zM835.7 849.3h5.3v5.3h-5.3zM851.6 859.9h5.3v5.3h-5.3zM1042.4 875.8h5.3v5.3h-5.3zM947 891.7h5.3v5.3h-5.3zM984.1 891.7h5.3v5.3h-5.3zM984.1 897h5.3v5.3h-5.3z"/><path fill="#2444dd" d="M803.9 605.5h5.3v5.3h-5.3zM920.5 610.8h5.3v5.3h-5.3zM814.5 616.1h5.3v5.3h-5.3zM947 621.4h5.3v5.3h-5.3zM750.9 637.3h5.3v5.3h-5.3zM978.8 637.3h5.3v5.3h-5.3zM1084.8 785.7h5.3v5.3h-5.3zM803.9 849.3h5.3v5.3h-5.3zM1037.1 849.3h5.3v5.3h-5.3zM1037.1 854.6h5.3v5.3h-5.3zM1026.5 865.2h5.3v5.3h-5.3zM1010.6 870.5h5.3v5.3h-5.3zM888.7 886.4h5.3v5.3h-5.3zM957.6 891.7h5.3v5.3h-5.3z"/><path fill="#0c37cf" d="M819.8 616.1h5.3v5.3h-5.3zM878.1 621.4h5.3v5.3h-5.3zM782.7 632h5.3v5.3h-5.3zM819.8 632h5.3v5.3h-5.3zM931.1 632h5.3v5.3h-5.3zM957.6 647.9h5.3v5.3h-5.3zM968.2 653.2h10.6v5.3h-10.6zM777.4 674.4h5.3v5.3h-5.3zM1000 679.7h5.3v5.3h-5.3zM782.7 695.6h5.3v5.3h-5.3zM777.4 706.2h5.3v5.3h-5.3zM1042.4 743.3h5.3v5.3h-5.3zM1053 748.6h5.3v5.3h-5.3zM1042.4 764.5h5.3v5.3h-5.3zM1042.4 769.8h10.6v5.3h-10.6zM798.6 791h5.3v5.3h-5.3zM1042.4 791h5.3v5.3h-5.3zM814.5 806.9h5.3v5.3h-5.3zM809.2 812.2h5.3v5.3h-5.3zM856.9 849.3h5.3v5.3h-5.3zM1000 859.9h5.3v5.3h-5.3zM952.3 870.5h5.3v5.3h-5.3zM973.5 875.8h5.3v5.3h-5.3zM931.1 881.1h5.3v5.3h-5.3zM957.6 881.1h5.3v5.3h-5.3zM931.1 886.4h5.3v5.3h-5.3zM994.7 886.4h5.3v5.3h-5.3z"/><path fill="#0d39d1" d="M835.7 616.1h5.3v5.3h-5.3zM931.1 626.7h5.3v5.3h-5.3zM825.1 632h5.3v5.3h-5.3zM793.3 637.3h5.3v5.3h-5.3zM793.3 658.5h5.3v5.3h-5.3zM1005.3 679.7h5.3v5.3h-5.3zM1010.6 690.3h5.3v5.3h-5.3zM1005.3 695.6h5.3v5.3h-5.3zM793.3 722.1h5.3v5.3h-5.3zM788 732.7h5.3v5.3h-5.3zM1031.8 738h5.3v5.3h-5.3zM1037.1 753.9h5.3v5.3h-5.3zM1031.8 764.5h5.3v5.3h-5.3zM798.6 775.1h5.3v5.3h-5.3zM809.2 801.6h5.3v5.3h-5.3zM819.8 817.5h5.3v5.3h-5.3zM1037.1 817.5h5.3v5.3h-5.3zM825.1 833.4h5.3v5.3h-5.3zM994.7 854.6h5.3v5.3h-5.3zM856.9 859.9h5.3v5.3h-5.3zM872.8 859.9h5.3v5.3h-5.3zM894 875.8h5.3v5.3h-5.3zM957.6 875.8h5.3v5.3h-5.3zM968.2 881.1h5.3v5.3h-5.3z"/><path fill="#7281e9" d="M846.3 616.1h5.3v5.3h-5.3zM883.4 616.1h5.3v5.3h-5.3zM851.6 632h5.3v5.3h-5.3zM984.1 653.2h5.3v5.3h-5.3zM819.8 658.5h5.3v5.3h-5.3zM793.3 669.1h5.3v5.3h-5.3zM994.7 669.1h5.3v5.3h-5.3zM1042.4 785.7h5.3v5.3h-5.3zM856.9 844h5.3v5.3h-5.3zM978.8 865.2h5.3v5.3h-5.3zM947 875.8h5.3v5.3h-5.3z"/><path fill="#0d3bd3" d="M862.2 616.1h5.3v5.3h-5.3zM841 626.7h5.3v5.3h-5.3zM888.7 632h5.3v5.3h-5.3zM809.2 637.3h5.3v5.3h-5.3zM793.3 663.8h5.3v5.3h-5.3zM793.3 674.4h5.3v5.3h-5.3zM994.7 685h5.3v5.3h-5.3zM1010.6 706.2h5.3v5.3h-5.3zM788 738h5.3v5.3h-5.3zM1026.5 738h5.3v5.3h-5.3zM788 743.3h5.3v5.3h-5.3zM798.6 759.2h5.3v5.3h-5.3zM1037.1 769.8h5.3v5.3h-5.3zM1031.8 801.6h5.3v5.3h-5.3zM1021.2 822.8h5.3v5.3h-5.3zM830.4 828.1h5.3v5.3h-5.3zM1026.5 838.7h5.3v5.3h-5.3zM994.7 865.2h5.3v5.3h-5.3z"/><path fill="#0d2dcb" d="M867.5 616.1h5.3v5.3h-5.3zM909.9 621.4h5.3v5.3h-5.3zM830.4 626.7h5.3v5.3h-5.3zM851.6 626.7h5.3v5.3h-5.3zM846.3 632h5.3v5.3h-5.3zM803.9 653.2h10.6v5.3h-10.6zM947 653.2h5.3v5.3h-5.3zM968.2 658.5h5.3v5.3h-5.3zM793.3 685h5.3v5.3h-5.3zM798.6 695.6h5.3v5.3h-5.3zM777.4 700.9h10.6v5.3h-10.6zM1000 700.9h5.3v5.3h-5.3zM1031.8 716.8h5.3v5.3h-5.3zM1010.6 722.1h5.3v5.3h-5.3zM782.7 727.4h5.3v5.3h-5.3zM1026.5 743.3h5.3v5.3h-5.3zM1031.8 748.6h5.3v5.3h-5.3zM1037.1 759.2h5.3v5.3h-5.3zM1037.1 785.7h5.3v5.3h-5.3zM830.4 833.4h5.3v5.3h-5.3zM1005.3 844h5.3v5.3h-5.3zM1015.9 854.6h5.3v5.3h-5.3zM862.2 859.9h5.3v5.3h-5.3zM1005.3 865.2h10.6v5.3h-10.6zM915.2 881.1h5.3v5.3h-5.3zM952.3 881.1h5.3v5.3h-5.3z"/><path fill="#0a33cb" d="M904.6 616.1h5.3v5.3h-5.3zM809.2 626.7h5.3v5.3h-5.3zM925.8 626.7h5.3v5.3h-5.3zM777.4 727.4h5.3v5.3h-5.3zM1047.7 780.4h5.3v5.3h-5.3zM819.8 822.8h5.3v5.3h-5.3zM825.1 838.7h5.3v5.3h-5.3zM1005.3 875.8h5.3v5.3h-5.3z"/><path fill="#1632d6" d="M809.2 610.8h5.3v5.3h-5.3zM920.5 616.1h5.3v5.3h-5.3zM766.8 637.3h10.6v5.3h-10.6zM756.2 647.9h5.3v5.3h-5.3zM984.1 647.9h5.3v5.3h-5.3zM756.2 658.5h5.3v5.3h-5.3zM1037.1 695.6h5.3v5.3h-5.3zM740.3 716.8h5.3v5.3h-5.3zM1063.6 738h5.3v5.3h-5.3zM750.9 748.6h5.3v5.3h-5.3zM1068.9 759.2h10.6v5.3h-10.6zM761.5 769.8h5.3v5.3h-5.3zM761.5 775.1h5.3v5.3h-5.3zM772.1 791h5.3v5.3h-5.3zM782.7 801.6h5.3v5.3h-5.3zM1079.5 806.9h5.3v5.3h-5.3zM1074.2 822.8h5.3v5.3h-5.3zM814.5 833.4h5.3v5.3h-5.3zM814.5 838.7h5.3v5.3h-5.3zM1068.9 844h5.3v5.3h-5.3zM835.7 854.6h5.3v5.3h-5.3zM1063.6 854.6h5.3v5.3h-5.3zM846.3 859.9h5.3v5.3h-5.3zM872.8 875.8h5.3v5.3h-5.3zM904.6 886.4h5.3v5.3h-5.3zM920.5 891.7h5.3v5.3h-5.3zM1010.6 891.7h5.3v5.3h-5.3z"/><path fill="#6d73ae" d="M724.4 621.4h5.3v5.3h-5.3zM1074.2 849.3h5.3v5.3h-5.3z"/><path fill="#818eec" d="M756.2 621.4h5.3v5.3h-5.3zM713.8 769.8h5.3v5.3h-5.3zM1116.6 775.1h5.3v5.3h-5.3zM1111.3 796.3h5.3v5.3h-5.3zM994.7 902.3h5.3v5.3h-5.3z"/><path fill="#adb6f3" d="M756.2 616.1h5.3v5.3h-5.3zM713.8 775.1h5.3v5.3h-5.3zM1121.9 775.1h5.3v5.3h-5.3zM1111.3 801.6h5.3v5.3h-5.3zM994.7 897h5.3v5.3h-5.3z"/><path fill="#a9aff1" d="M798.6 621.4h5.3v5.3h-5.3zM777.4 653.2h5.3v5.3h-5.3zM756.2 669.1h5.3v5.3h-5.3zM1010.6 674.4h5.3v5.3h-5.3zM766.8 679.7h5.3v5.3h-5.3zM766.8 685h5.3v5.3h-5.3zM756.2 690.3h5.3v5.3h-5.3zM756.2 706.2h5.3v5.3h-5.3zM1042.4 711.5h5.3v5.3h-5.3zM756.2 722.1h5.3v5.3h-5.3zM766.8 722.1h5.3v5.3h-5.3zM1047.7 727.4h5.3v5.3h-5.3zM756.2 738h5.3v5.3h-5.3zM1047.7 738h5.3v5.3h-5.3zM761.5 743.3h5.3v5.3h-5.3zM1058.3 743.3h5.3v5.3h-5.3zM777.4 748.6h5.3v5.3h-5.3zM761.5 759.2h5.3v5.3h-5.3zM761.5 764.5h5.3v5.3h-5.3zM772.1 775.1h5.3v5.3h-5.3zM782.7 775.1h5.3v5.3h-5.3zM1068.9 775.1h5.3v5.3h-5.3zM782.7 780.4h5.3v5.3h-5.3zM1058.3 785.7h5.3v5.3h-5.3zM1068.9 785.7h5.3v5.3h-5.3zM1068.9 791h5.3v5.3h-5.3zM1068.9 796.3h10.6v5.3h-10.6zM788 801.6h5.3v5.3h-5.3zM793.3 806.9h5.3v5.3h-5.3zM1053 806.9h5.3v5.3h-5.3zM1058.3 812.2h5.3v5.3h-5.3zM1068.9 817.5h5.3v5.3h-5.3zM1042.4 828.1h5.3v5.3h-5.3zM1058.3 838.7h5.3v5.3h-5.3zM1031.8 859.9h5.3v5.3h-5.3zM1037.1 865.2h5.3v5.3h-5.3z"/><path fill="#0c39d1" d="M803.9 621.4h5.3v5.3h-5.3zM851.6 621.4h5.3v5.3h-5.3zM862.2 626.7h5.3v5.3h-5.3zM941.7 632h5.3v5.3h-5.3zM798.6 637.3h10.6v5.3h-10.6zM952.3 637.3h5.3v5.3h-5.3zM809.2 642.6h5.3v5.3h-5.3zM936.4 642.6h5.3v5.3h-5.3zM957.6 642.6h5.3v5.3h-5.3zM798.6 647.9h5.3v5.3h-5.3zM1015.9 700.9h5.3v5.3h-5.3zM772.1 706.2h5.3v5.3h-5.3zM788 711.5h5.3v5.3h-5.3zM782.7 716.8h5.3v5.3h-5.3zM788 727.4h5.3v5.3h-5.3zM782.7 748.6h5.3v5.3h-5.3zM1042.4 759.2h5.3v5.3h-5.3zM1037.1 775.1h5.3v5.3h-5.3zM1042.4 801.6h5.3v5.3h-5.3zM825.1 817.5h5.3v5.3h-5.3zM1026.5 844h5.3v5.3h-5.3zM989.4 859.9h10.6v5.3h-10.6zM962.9 870.5h5.3v5.3h-5.3zM952.3 875.8h5.3v5.3h-5.3zM984.1 881.1h5.3v5.3h-5.3z"/><path fill="#0e3cd4" d="M862.2 621.4h5.3v5.3h-5.3zM883.4 621.4h5.3v5.3h-5.3zM856.9 626.7h5.3v5.3h-5.3zM867.5 626.7h5.3v5.3h-5.3zM888.7 626.7h5.3v5.3h-5.3zM899.3 626.7h5.3v5.3h-5.3zM915.2 626.7h5.3v5.3h-5.3zM830.4 632h5.3v5.3h-5.3zM904.6 632h5.3v5.3h-5.3zM825.1 637.3h10.6v5.3h-10.6zM920.5 637.3h21.2v5.3h-21.2zM819.8 642.6h5.3v5.3h-5.3zM920.5 642.6h5.3v5.3h-5.3zM809.2 647.9h5.3v5.3h-5.3zM798.6 653.2h5.3v5.3h-5.3zM952.3 653.2h15.9v5.3h-15.9zM803.9 658.5h5.3v5.3h-5.3zM814.5 658.5h5.3v5.3h-5.3zM962.9 658.5h5.3v5.3h-5.3zM803.9 663.8h5.3v5.3h-5.3zM798.6 669.1h5.3v5.3h-5.3zM788 679.7h5.3v5.3h-5.3zM989.4 679.7h5.3v5.3h-5.3zM782.7 685h5.3v5.3h-5.3zM777.4 690.3h5.3v5.3h-5.3zM793.3 690.3h5.3v5.3h-5.3zM1000 695.6h5.3v5.3h-5.3zM1010.6 700.9h5.3v5.3h-5.3zM788 706.2h5.3v5.3h-5.3zM1015.9 711.5h5.3v5.3h-5.3zM793.3 732.7h5.3v5.3h-5.3zM782.7 738h5.3v5.3h-5.3zM793.3 738h5.3v5.3h-5.3zM793.3 743.3h5.3v5.3h-5.3zM1021.2 743.3h5.3v5.3h-5.3zM1026.5 748.6h5.3v5.3h-5.3zM788 753.9h5.3v5.3h-5.3zM1021.2 759.2h5.3v5.3h-5.3zM1026.5 775.1h10.6v5.3h-10.6zM803.9 785.7h5.3v5.3h-5.3zM1031.8 785.7h5.3v5.3h-5.3zM819.8 806.9h5.3v5.3h-5.3zM1021.2 828.1h5.3v5.3h-5.3zM835.7 833.4h5.3v5.3h-5.3zM1021.2 838.7h5.3v5.3h-5.3zM851.6 844h5.3v5.3h-5.3zM1026.5 849.3h5.3v5.3h-5.3zM894 865.2h5.3v5.3h-5.3zM984.1 865.2h5.3v5.3h-5.3zM957.6 870.5h5.3v5.3h-5.3zM973.5 870.5h5.3v5.3h-5.3z"/><path fill="#0829c1" d="M862.2 600.2h5.3v5.3h-5.3zM915.2 605.5h5.3v5.3h-5.3zM925.8 610.8h5.3v5.3h-5.3zM867.5 621.4h5.3v5.3h-5.3zM883.4 632h5.3v5.3h-5.3zM825.1 642.6h5.3v5.3h-5.3zM941.7 642.6h5.3v5.3h-5.3zM782.7 658.5h10.6v5.3h-10.6zM957.6 658.5h5.3v5.3h-5.3zM1000 690.3h5.3v5.3h-5.3zM788 695.6h5.3v5.3h-5.3zM772.1 700.9h5.3v5.3h-5.3zM793.3 700.9h5.3v5.3h-5.3zM788 716.8h5.3v5.3h-5.3zM793.3 759.2h5.3v5.3h-5.3zM793.3 764.5h5.3v5.3h-5.3zM809.2 785.7h5.3v5.3h-5.3zM803.9 791h5.3v5.3h-5.3zM1031.8 791h5.3v5.3h-5.3zM1031.8 796.3h5.3v5.3h-5.3zM1021.2 801.6h5.3v5.3h-5.3zM1042.4 806.9h5.3v5.3h-5.3zM1026.5 828.1h5.3v5.3h-5.3zM1021.2 844h5.3v5.3h-5.3zM989.4 865.2h5.3v5.3h-5.3zM989.4 870.5h5.3v5.3h-5.3zM920.5 875.8h5.3v5.3h-5.3zM1000 875.8h5.3v5.3h-5.3zM957.6 902.3h5.3v5.3h-5.3z"/><path fill="#babef4" d="M819.8 600.2h5.3v5.3h-5.3zM915.2 600.2h5.3v5.3h-5.3zM793.3 626.7h5.3v5.3h-5.3zM968.2 642.6h5.3v5.3h-5.3zM989.4 663.8h5.3v5.3h-5.3zM761.5 674.4h5.3v5.3h-5.3zM750.9 690.3h5.3v5.3h-5.3zM766.8 690.3h5.3v5.3h-5.3zM1026.5 690.3h5.3v5.3h-5.3zM1031.8 700.9h5.3v5.3h-5.3zM750.9 716.8h5.3v5.3h-5.3zM1042.4 716.8h5.3v5.3h-5.3zM1053 738h5.3v5.3h-5.3zM756.2 743.3h5.3v5.3h-5.3zM772.1 748.6h5.3v5.3h-5.3zM777.4 753.9h5.3v5.3h-5.3zM1058.3 753.9h5.3v5.3h-5.3zM1053 775.1h5.3v5.3h-5.3zM1053 785.7h5.3v5.3h-5.3zM793.3 791h5.3v5.3h-5.3zM1047.7 796.3h5.3v5.3h-5.3zM1058.3 796.3h5.3v5.3h-5.3zM798.6 801.6h5.3v5.3h-5.3zM1063.6 806.9h5.3v5.3h-5.3zM1053 833.4h5.3v5.3h-5.3zM851.6 838.7h5.3v5.3h-5.3zM1042.4 844h5.3v5.3h-5.3zM1058.3 844h5.3v5.3h-5.3zM1053 849.3h5.3v5.3h-5.3zM1021.2 865.2h5.3v5.3h-5.3zM936.4 875.8h5.3v5.3h-5.3zM1000 881.1h5.3v5.3h-5.3z"/><path fill="#4b62e4" d="M803.9 626.7h5.3v5.3h-5.3zM1037.1 706.2h5.3v5.3h-5.3zM1058.3 748.6h5.3v5.3h-5.3zM1068.9 801.6h5.3v5.3h-5.3zM1063.6 817.5h5.3v5.3h-5.3zM1068.9 822.8h5.3v5.3h-5.3z"/><path fill="#0f3fd7" d="M846.3 626.7h5.3v5.3h-5.3zM920.5 632h5.3v5.3h-5.3zM793.3 679.7h5.3v5.3h-5.3zM825.1 679.7h5.3v5.3h-5.3zM973.5 679.7h5.3v5.3h-5.3zM989.4 690.3h5.3v5.3h-5.3zM814.5 695.6h5.3v5.3h-5.3zM1010.6 711.5h5.3v5.3h-5.3zM1026.5 785.7h5.3v5.3h-5.3zM1021.2 812.2h5.3v5.3h-5.3z"/><path fill="#1040d8" d="M872.8 626.7h5.3v5.3h-5.3zM862.2 637.3h5.3v5.3h-5.3zM888.7 637.3h5.3v5.3h-5.3zM819.8 647.9h5.3v5.3h-5.3zM841 647.9h5.3v5.3h-5.3zM920.5 647.9h5.3v5.3h-5.3zM830.4 653.2h5.3v5.3h-5.3zM899.3 653.2h5.3v5.3h-5.3zM941.7 653.2h5.3v5.3h-5.3zM803.9 669.1h10.6v5.3h-10.6zM809.2 674.4h10.6v5.3h-10.6zM803.9 679.7h5.3v5.3h-5.3zM984.1 679.7h5.3v5.3h-5.3zM809.2 685h5.3v5.3h-5.3zM793.3 727.4h5.3v5.3h-5.3zM798.6 738h5.3v5.3h-5.3zM793.3 748.6h5.3v5.3h-5.3zM809.2 796.3h5.3v5.3h-5.3zM1021.2 796.3h5.3v5.3h-5.3zM1010.6 833.4h5.3v5.3h-5.3z"/><path fill="#0f3dd5" d="M883.4 626.7h5.3v5.3h-5.3zM894 626.7h5.3v5.3h-5.3zM856.9 632h5.3v5.3h-5.3zM872.8 632h5.3v5.3h-5.3zM841 642.6h5.3v5.3h-5.3zM936.4 647.9h10.6v5.3h-10.6zM809.2 658.5h5.3v5.3h-5.3zM962.9 663.8h5.3v5.3h-5.3zM978.8 679.7h5.3v5.3h-5.3zM793.3 716.8h5.3v5.3h-5.3zM798.6 727.4h5.3v5.3h-5.3zM803.9 780.4h5.3v5.3h-5.3zM814.5 801.6h5.3v5.3h-5.3zM841 838.7h5.3v5.3h-5.3zM984.1 854.6h5.3v5.3h-5.3z"/><path fill="#0e3bd3" d="M909.9 626.7h5.3v5.3h-5.3zM867.5 632h5.3v5.3h-5.3zM925.8 642.6h5.3v5.3h-5.3zM803.9 647.9h5.3v5.3h-5.3zM978.8 663.8h5.3v5.3h-5.3zM788 685h5.3v5.3h-5.3zM1021.2 700.9h5.3v5.3h-5.3zM1010.6 716.8h5.3v5.3h-5.3zM1021.2 716.8h5.3v5.3h-5.3zM788 748.6h5.3v5.3h-5.3zM798.6 769.8h5.3v5.3h-5.3zM1026.5 796.3h5.3v5.3h-5.3zM1037.1 796.3h5.3v5.3h-5.3zM809.2 806.9h5.3v5.3h-5.3zM1026.5 812.2h5.3v5.3h-5.3zM1031.8 817.5h5.3v5.3h-5.3zM825.1 822.8h5.3v5.3h-5.3zM835.7 838.7h5.3v5.3h-5.3zM1015.9 838.7h5.3v5.3h-5.3zM1000 854.6h10.6v5.3h-10.6zM1015.9 859.9h5.3v5.3h-5.3zM883.4 865.2h5.3v5.3h-5.3zM973.5 865.2h5.3v5.3h-5.3zM1000 865.2h5.3v5.3h-5.3zM904.6 870.5h5.3v5.3h-5.3zM947 870.5h5.3v5.3h-5.3zM909.9 875.8h5.3v5.3h-5.3z"/><path fill="#0c1a96" d="M936.4 621.4h5.3v5.3h-5.3zM772.1 632h5.3v5.3h-5.3zM962.9 637.3h5.3v5.3h-5.3zM761.5 647.9h5.3v5.3h-5.3zM1037.1 700.9h5.3v5.3h-5.3zM745.6 716.8h5.3v5.3h-5.3zM1053 716.8h5.3v5.3h-5.3zM745.6 732.7h5.3v5.3h-5.3zM1063.6 732.7h5.3v5.3h-5.3zM745.6 738h5.3v5.3h-5.3zM1068.9 753.9h5.3v5.3h-5.3zM772.1 785.7h5.3v5.3h-5.3zM1079.5 791h5.3v5.3h-5.3zM777.4 796.3h5.3v5.3h-5.3zM798.6 817.5h5.3v5.3h-5.3zM809.2 833.4h5.3v5.3h-5.3zM1068.9 833.4h5.3v5.3h-5.3zM909.9 886.4h5.3v5.3h-5.3z"/><path fill="#dbdbfb" d="M793.3 632h5.3v5.3h-5.3zM814.5 632h5.3v5.3h-5.3zM915.2 632h5.3v5.3h-5.3zM777.4 637.3h5.3v5.3h-5.3zM777.4 647.9h5.3v5.3h-5.3zM793.3 653.2h5.3v5.3h-5.3zM756.2 663.8h5.3v5.3h-5.3zM766.8 674.4h10.6v5.3h-10.6zM994.7 679.7h5.3v5.3h-5.3zM761.5 690.3h5.3v5.3h-5.3zM750.9 706.2h5.3v5.3h-5.3zM1053 727.4h5.3v5.3h-5.3zM761.5 732.7h5.3v5.3h-5.3zM772.1 732.7h5.3v5.3h-5.3zM1037.1 738h5.3v5.3h-5.3zM777.4 743.3h5.3v5.3h-5.3zM1053 759.2h5.3v5.3h-5.3zM772.1 769.8h5.3v5.3h-5.3zM1063.6 769.8h5.3v5.3h-5.3zM772.1 780.4h5.3v5.3h-5.3zM777.4 785.7h5.3v5.3h-5.3zM1053 791h5.3v5.3h-5.3zM793.3 801.6h5.3v5.3h-5.3zM1058.3 828.1h5.3v5.3h-5.3zM1063.6 838.7h5.3v5.3h-5.3zM1047.7 854.6h10.6v5.3h-10.6zM1047.7 859.9h5.3v5.3h-5.3zM904.6 881.1h5.3v5.3h-5.3zM973.5 881.1h5.3v5.3h-5.3zM968.2 886.4h5.3v5.3h-5.3zM1005.3 886.4h5.3v5.3h-5.3zM968.2 891.7h5.3v5.3h-5.3z"/><path fill="#103fd7" d="M835.7 632h5.3v5.3h-5.3zM915.2 637.3h5.3v5.3h-5.3zM830.4 647.9h5.3v5.3h-5.3zM851.6 653.2h5.3v5.3h-5.3zM931.1 653.2h5.3v5.3h-5.3zM814.5 663.8h5.3v5.3h-5.3zM978.8 669.1h5.3v5.3h-5.3zM798.6 685h5.3v5.3h-5.3zM798.6 690.3h5.3v5.3h-5.3zM793.3 695.6h5.3v5.3h-5.3zM1010.6 727.4h5.3v5.3h-5.3zM1015.9 732.7h5.3v5.3h-5.3zM1021.2 785.7h5.3v5.3h-5.3zM841 833.4h5.3v5.3h-5.3zM1010.6 844h5.3v5.3h-5.3z"/><path fill="#0f3ed6" d="M841 632h5.3v5.3h-5.3zM909.9 632h5.3v5.3h-5.3zM851.6 637.3h5.3v5.3h-5.3zM909.9 637.3h5.3v5.3h-5.3zM830.4 642.6h5.3v5.3h-5.3zM862.2 642.6h5.3v5.3h-5.3zM883.4 642.6h5.3v5.3h-5.3zM814.5 647.9h5.3v5.3h-5.3zM909.9 647.9h5.3v5.3h-5.3zM819.8 653.2h10.6v5.3h-10.6zM936.4 653.2h5.3v5.3h-5.3zM957.6 663.8h5.3v5.3h-5.3zM968.2 663.8h5.3v5.3h-5.3zM962.9 669.1h5.3v5.3h-5.3zM984.1 669.1h5.3v5.3h-5.3zM798.6 674.4h5.3v5.3h-5.3zM978.8 674.4h5.3v5.3h-5.3zM803.9 685h5.3v5.3h-5.3zM803.9 695.6h5.3v5.3h-5.3zM788 700.9h5.3v5.3h-5.3zM798.6 706.2h5.3v5.3h-5.3zM1015.9 722.1h5.3v5.3h-5.3zM1026.5 753.9h5.3v5.3h-5.3zM1021.2 791h5.3v5.3h-5.3zM1021.2 806.9h5.3v5.3h-5.3zM1015.9 817.5h5.3v5.3h-5.3zM1015.9 828.1h5.3v5.3h-5.3zM878.1 865.2h5.3v5.3h-5.3zM915.2 865.2h5.3v5.3h-5.3zM899.3 870.5h5.3v5.3h-5.3zM978.8 870.5h5.3v5.3h-5.3z"/><path fill="#7185e9" d="M750.9 632h5.3v5.3h-5.3zM978.8 632h5.3v5.3h-5.3zM798.6 849.3h5.3v5.3h-5.3z"/><path fill="#a7b4f1" d="M745.6 637.3h5.3v5.3h-5.3zM984.1 637.3h5.3v5.3h-5.3zM803.9 854.6h5.3v5.3h-5.3z"/><path fill="#c2cbf5" d="M745.6 632h5.3v5.3h-5.3zM984.1 632h5.3v5.3h-5.3zM798.6 854.6h5.3v5.3h-5.3z"/><path fill="#1041d8" d="M835.7 637.3h5.3v5.3h-5.3zM867.5 637.3h5.3v5.3h-5.3zM957.6 669.1h5.3v5.3h-5.3zM798.6 700.9h5.3v5.3h-5.3zM1005.3 711.5h5.3v5.3h-5.3zM957.6 865.2h5.3v5.3h-5.3z"/><path fill="#1a54e0" d="M841 637.3h5.3v5.3h-5.3zM835.7 658.5h5.3v5.3h-5.3zM920.5 663.8h5.3v5.3h-5.3zM994.7 706.2h5.3v5.3h-5.3z"/><path fill="#1244da" d="M872.8 637.3h5.3v5.3h-5.3zM883.4 637.3h5.3v5.3h-5.3zM888.7 642.6h10.6v5.3h-10.6zM851.6 647.9h5.3v5.3h-5.3zM894 653.2h5.3v5.3h-5.3zM909.9 653.2h5.3v5.3h-5.3zM862.2 658.5h5.3v5.3h-5.3zM862.2 849.3h5.3v5.3h-5.3z"/><path fill="#1448dc" d="M878.1 637.3h5.3v5.3h-5.3zM904.6 642.6h5.3v5.3h-5.3zM867.5 647.9h5.3v5.3h-5.3zM856.9 653.2h5.3v5.3h-5.3zM867.5 653.2h5.3v5.3h-5.3zM798.6 658.5h5.3v5.3h-5.3zM803.9 716.8h5.3v5.3h-5.3zM925.8 865.2h5.3v5.3h-5.3zM915.2 870.5h5.3v5.3h-5.3z"/><path fill="#0e3dd5" d="M894 637.3h5.3v5.3h-5.3zM835.7 647.9h5.3v5.3h-5.3zM915.2 647.9h5.3v5.3h-5.3zM947 658.5h5.3v5.3h-5.3zM788 674.4h5.3v5.3h-5.3zM984.1 674.4h5.3v5.3h-5.3zM782.7 679.7h5.3v5.3h-5.3zM989.4 685h5.3v5.3h-5.3zM793.3 706.2h5.3v5.3h-5.3zM1005.3 706.2h5.3v5.3h-5.3zM788 722.1h5.3v5.3h-5.3zM1015.9 727.4h5.3v5.3h-5.3zM1021.2 732.7h5.3v5.3h-5.3zM1026.5 764.5h5.3v5.3h-5.3zM1026.5 806.9h5.3v5.3h-5.3zM835.7 822.8h5.3v5.3h-5.3zM1026.5 822.8h5.3v5.3h-5.3zM1010.6 854.6h5.3v5.3h-5.3zM941.7 875.8h5.3v5.3h-5.3z"/><path fill="#154add" d="M846.3 642.6h5.3v5.3h-5.3zM888.7 647.9h5.3v5.3h-5.3zM825.1 658.5h5.3v5.3h-5.3zM819.8 669.1h5.3v5.3h-5.3zM978.8 685h5.3v5.3h-5.3zM1015.9 806.9h5.3v5.3h-5.3zM962.9 859.9h5.3v5.3h-5.3zM936.4 865.2h5.3v5.3h-5.3z"/><path fill="#1143d9" d="M851.6 642.6h5.3v5.3h-5.3zM825.1 663.8h5.3v5.3h-5.3zM1015.9 775.1h5.3v5.3h-5.3zM920.5 865.2h5.3v5.3h-5.3z"/><path fill="#154bdd" d="M856.9 642.6h5.3v5.3h-5.3zM814.5 653.2h5.3v5.3h-5.3zM984.1 690.3h5.3v5.3h-5.3zM867.5 844h5.3v5.3h-5.3zM978.8 859.9h5.3v5.3h-5.3z"/><path fill="#164cde" d="M867.5 642.6h5.3v5.3h-5.3zM878.1 642.6h5.3v5.3h-5.3zM952.3 658.5h5.3v5.3h-5.3zM803.9 674.4h5.3v5.3h-5.3zM814.5 679.7h5.3v5.3h-5.3zM809.2 690.3h5.3v5.3h-5.3zM989.4 695.6h5.3v5.3h-5.3zM1005.3 716.8h5.3v5.3h-5.3zM803.9 732.7h5.3v5.3h-5.3zM1015.9 812.2h5.3v5.3h-5.3zM1015.9 822.8h5.3v5.3h-5.3zM989.4 844h5.3v5.3h-5.3zM989.4 854.6h5.3v5.3h-5.3zM909.9 865.2h5.3v5.3h-5.3zM925.8 870.5h5.3v5.3h-5.3zM936.4 870.5h5.3v5.3h-5.3z"/><path fill="#1141d9" d="M872.8 642.6h5.3v5.3h-5.3zM899.3 642.6h5.3v5.3h-5.3zM819.8 679.7h5.3v5.3h-5.3zM931.1 865.2h5.3v5.3h-5.3z"/><path fill="#1449dc" d="M909.9 642.6h5.3v5.3h-5.3zM931.1 658.5h5.3v5.3h-5.3zM968.2 679.7h5.3v5.3h-5.3zM809.2 700.9h5.3v5.3h-5.3zM1005.3 722.1h5.3v5.3h-5.3zM798.6 748.6h5.3v5.3h-5.3z"/><path fill="#1245da" d="M915.2 642.6h5.3v5.3h-5.3zM994.7 695.6h5.3v5.3h-5.3zM809.2 716.8h5.3v5.3h-5.3z"/><path fill="#6a7ee4" d="M1000 642.6h5.3v5.3h-5.3zM1026.5 663.8h5.3v5.3h-5.3zM909.9 897h5.3v5.3h-5.3z"/><path fill="#bcc4f5" d="M729.7 642.6h5.3v5.3h-5.3zM798.6 828.1h5.3v5.3h-5.3zM1095.4 828.1h5.3v5.3h-5.3zM793.3 891.7h5.3v5.3h-5.3z"/><path fill="#d0d6f8" d="M735 642.6h5.3v5.3h-5.3zM740.3 732.7h5.3v5.3h-5.3zM793.3 828.1h5.3v5.3h-5.3zM1090.1 828.1h5.3v5.3h-5.3zM793.3 897h5.3v5.3h-5.3z"/><path fill="#0933cb" d="M851.6 610.8h5.3v5.3h-5.3zM782.7 647.9h5.3v5.3h-5.3zM793.3 796.3h5.3v5.3h-5.3zM1047.7 801.6h10.6v5.3h-10.6zM830.4 844h5.3v5.3h-5.3zM841 849.3h5.3v5.3h-5.3zM1026.5 870.5h5.3v5.3h-5.3zM899.3 875.8h5.3v5.3h-5.3zM1026.5 875.8h5.3v5.3h-5.3zM989.4 881.1h5.3v5.3h-5.3zM936.4 886.4h10.6v5.3h-10.6zM989.4 886.4h5.3v5.3h-5.3zM931.1 897h5.3v5.3h-5.3z"/><path fill="#1346db" d="M825.1 647.9h5.3v5.3h-5.3zM862.2 647.9h5.3v5.3h-5.3zM925.8 647.9h5.3v5.3h-5.3zM835.7 653.2h5.3v5.3h-5.3zM846.3 653.2h5.3v5.3h-5.3zM936.4 658.5h5.3v5.3h-5.3zM814.5 669.1h5.3v5.3h-5.3zM968.2 674.4h5.3v5.3h-5.3zM830.4 679.7h5.3v5.3h-5.3zM994.7 690.3h5.3v5.3h-5.3zM1015.9 748.6h5.3v5.3h-5.3zM803.9 775.1h5.3v5.3h-5.3zM1000 844h5.3v5.3h-5.3z"/><path fill="#1347db" d="M846.3 647.9h5.3v5.3h-5.3zM947 663.8h5.3v5.3h-5.3zM835.7 669.1h5.3v5.3h-5.3zM1021.2 775.1h5.3v5.3h-5.3z"/><path fill="#2563e0" d="M856.9 647.9h5.3v5.3h-5.3zM1010.6 738h5.3v5.3h-5.3zM803.9 748.6h5.3v5.3h-5.3z"/><path fill="#174fdf" d="M872.8 647.9h5.3v5.3h-5.3zM952.3 669.1h5.3v5.3h-5.3zM825.1 685h5.3v5.3h-5.3zM1015.9 738h5.3v5.3h-5.3zM1021.2 780.4h5.3v5.3h-5.3zM851.6 833.4h5.3v5.3h-5.3z"/><path fill="#1142d9" d="M878.1 647.9h5.3v5.3h-5.3zM830.4 663.8h5.3v5.3h-5.3zM830.4 669.1h5.3v5.3h-5.3zM825.1 674.4h5.3v5.3h-5.3zM994.7 700.9h5.3v5.3h-5.3zM798.6 716.8h5.3v5.3h-5.3zM1026.5 759.2h5.3v5.3h-5.3z"/><path fill="#2260e0" d="M883.4 647.9h5.3v5.3h-5.3zM984.1 844h5.3v5.3h-5.3z"/><path fill="#1e5ae0" d="M894 647.9h5.3v5.3h-5.3z"/><path fill="#1b54e0" d="M899.3 647.9h5.3v5.3h-5.3zM904.6 653.2h5.3v5.3h-5.3zM835.7 663.8h5.3v5.3h-5.3zM978.8 690.3h5.3v5.3h-5.3zM798.6 732.7h5.3v5.3h-5.3zM1010.6 828.1h5.3v5.3h-5.3z"/><path fill="#164bde" d="M904.6 647.9h5.3v5.3h-5.3zM931.1 647.9h5.3v5.3h-5.3zM925.8 658.5h5.3v5.3h-5.3zM989.4 700.9h5.3v5.3h-5.3zM1021.2 764.5h5.3v5.3h-5.3zM1026.5 780.4h5.3v5.3h-5.3zM867.5 854.6h5.3v5.3h-5.3z"/><path fill="#6d7ce9" d="M772.1 653.2h5.3v5.3h-5.3zM1000 663.8h5.3v5.3h-5.3zM750.9 711.5h5.3v5.3h-5.3zM1037.1 716.8h5.3v5.3h-5.3zM772.1 727.4h5.3v5.3h-5.3zM1053 732.7h5.3v5.3h-5.3zM782.7 759.2h5.3v5.3h-5.3zM735 801.6h5.3v5.3h-5.3zM1148.4 801.6h5.3v5.3h-5.3zM1058.3 817.5h5.3v5.3h-5.3zM1053 828.1h5.3v5.3h-5.3zM1084.8 844h5.3v5.3h-5.3zM978.8 875.8h5.3v5.3h-5.3zM978.8 881.1h5.3v5.3h-5.3zM994.7 881.1h5.3v5.3h-5.3zM904.6 891.7h5.3v5.3h-5.3z"/><path fill="#1a53e0" d="M841 653.2h5.3v5.3h-5.3zM888.7 653.2h5.3v5.3h-5.3zM920.5 653.2h5.3v5.3h-5.3zM825.1 669.1h5.3v5.3h-5.3zM803.9 690.3h5.3v5.3h-5.3zM819.8 695.6h5.3v5.3h-5.3zM825.1 806.9h5.3v5.3h-5.3zM904.6 865.2h5.3v5.3h-5.3z"/><path fill="#184fe0" d="M862.2 653.2h5.3v5.3h-5.3zM920.5 658.5h5.3v5.3h-5.3zM989.4 849.3h5.3v5.3h-5.3z"/><path fill="#2564e0" d="M872.8 653.2h5.3v5.3h-5.3zM803.9 700.9h5.3v5.3h-5.3zM994.7 716.8h5.3v5.3h-5.3zM841 828.1h5.3v5.3h-5.3z"/><path fill="#2c71e0" d="M878.1 653.2h5.3v5.3h-5.3zM872.8 844h5.3v5.3h-5.3z"/><path fill="#1850e0" d="M883.4 653.2h5.3v5.3h-5.3zM851.6 658.5h5.3v5.3h-5.3zM984.1 700.9h5.3v5.3h-5.3zM798.6 764.5h10.6v5.3h-10.6zM856.9 838.7h5.3v5.3h-5.3zM1005.3 838.7h5.3v5.3h-5.3zM888.7 865.2h5.3v5.3h-5.3zM968.2 865.2h5.3v5.3h-5.3z"/><path fill="#215de0" d="M915.2 653.2h5.3v5.3h-5.3zM973.5 685h5.3v5.3h-5.3zM803.9 738h5.3v5.3h-5.3zM846.3 838.7h5.3v5.3h-5.3zM947 865.2h5.3v5.3h-5.3z"/><path fill="#1243da" d="M925.8 653.2h5.3v5.3h-5.3zM819.8 663.8h5.3v5.3h-5.3z"/><path fill="#ccccf7" d="M978.8 653.2h5.3v5.3h-5.3zM761.5 658.5h5.3v5.3h-5.3zM772.1 669.1h5.3v5.3h-5.3zM1021.2 685h5.3v5.3h-5.3zM1031.8 695.6h5.3v5.3h-5.3zM761.5 706.2h5.3v5.3h-5.3zM761.5 716.8h5.3v5.3h-5.3zM1047.7 716.8h5.3v5.3h-5.3zM772.1 722.1h5.3v5.3h-5.3zM756.2 732.7h5.3v5.3h-5.3zM772.1 738h5.3v5.3h-5.3zM756.2 748.6h15.9v5.3h-15.9zM761.5 753.9h5.3v5.3h-5.3zM772.1 764.5h5.3v5.3h-5.3zM1063.6 764.5h5.3v5.3h-5.3zM1063.6 780.4h5.3v5.3h-5.3zM1042.4 796.3h5.3v5.3h-5.3zM1068.9 806.9h5.3v5.3h-5.3zM1047.7 812.2h10.6v5.3h-10.6zM1068.9 812.2h5.3v5.3h-5.3zM1047.7 828.1h5.3v5.3h-5.3zM1047.7 833.4h5.3v5.3h-5.3zM1047.7 844h5.3v5.3h-5.3zM1037.1 859.9h5.3v5.3h-5.3zM994.7 875.8h5.3v5.3h-5.3zM1010.6 881.1h5.3v5.3h-5.3zM973.5 886.4h5.3v5.3h-5.3zM978.8 891.7h5.3v5.3h-5.3z"/><path fill="#1549dd" d="M830.4 658.5h5.3v5.3h-5.3zM819.8 690.3h5.3v5.3h-5.3zM814.5 791h5.3v5.3h-5.3zM835.7 828.1h5.3v5.3h-5.3zM978.8 854.6h5.3v5.3h-5.3z"/><path fill="#174edf" d="M841 658.5h5.3v5.3h-5.3zM962.9 674.4h5.3v5.3h-5.3zM803.9 706.2h5.3v5.3h-5.3zM1000 711.5h5.3v5.3h-5.3zM809.2 791h5.3v5.3h-5.3zM878.1 854.6h5.3v5.3h-5.3z"/><path fill="#2462e0" d="M846.3 658.5h5.3v5.3h-5.3zM841 674.4h5.3v5.3h-5.3zM1015.9 801.6h5.3v5.3h-5.3zM989.4 838.7h5.3v5.3h-5.3zM909.9 859.9h5.3v5.3h-5.3z"/><path fill="#296ae0" d="M856.9 658.5h5.3v5.3h-5.3zM909.9 658.5h5.3v5.3h-5.3zM978.8 695.6h5.3v5.3h-5.3z"/><path fill="#2f76e0" d="M867.5 658.5h5.3v5.3h-5.3zM984.1 838.7h5.3v5.3h-5.3z"/><path fill="#3480e0" d="M872.8 658.5h5.3v5.3h-5.3zM1000 833.4h5.3v5.3h-5.3zM968.2 854.6h5.3v5.3h-5.3z"/><path fill="#2868e0" d="M878.1 658.5h5.3v5.3h-5.3zM978.8 849.3h5.3v5.3h-5.3z"/><path fill="#164dde" d="M883.4 658.5h5.3v5.3h-5.3zM798.6 711.5h5.3v5.3h-5.3zM994.7 844h5.3v5.3h-5.3zM941.7 865.2h5.3v5.3h-5.3z"/><path fill="#3b8fe0" d="M888.7 658.5h5.3v5.3h-5.3zM1010.6 748.6h5.3v5.3h-5.3z"/><path fill="#317ae0" d="M894 658.5h5.3v5.3h-5.3zM1010.6 764.5h5.3v5.3h-5.3zM1000 828.1h5.3v5.3h-5.3z"/><path fill="#296be0" d="M899.3 658.5h5.3v5.3h-5.3zM830.4 674.4h5.3v5.3h-5.3zM994.7 711.5h5.3v5.3h-5.3zM878.1 844h5.3v5.3h-5.3z"/><path fill="#3077e0" d="M904.6 658.5h5.3v5.3h-5.3zM962.9 679.7h5.3v5.3h-5.3zM994.7 833.4h5.3v5.3h-5.3z"/><path fill="#1e59e0" d="M915.2 658.5h5.3v5.3h-5.3zM809.2 679.7h5.3v5.3h-5.3zM809.2 775.1h5.3v5.3h-5.3zM973.5 854.6h5.3v5.3h-5.3z"/><path fill="#1b55e0" d="M941.7 658.5h5.3v5.3h-5.3zM851.6 669.1h5.3v5.3h-5.3zM803.9 727.4h5.3v5.3h-5.3zM809.2 769.8h5.3v5.3h-5.3zM1015.9 785.7h5.3v5.3h-5.3zM814.5 796.3h5.3v5.3h-5.3zM846.3 844h5.3v5.3h-5.3zM872.8 854.6h5.3v5.3h-5.3zM968.2 859.9h5.3v5.3h-5.3z"/><path fill="#eaeafe" d="M777.4 663.8h5.3v5.3h-5.3zM761.5 669.1h5.3v5.3h-5.3zM1000 669.1h5.3v5.3h-5.3zM994.7 674.4h5.3v5.3h-5.3zM1010.6 679.7h5.3v5.3h-5.3zM750.9 695.6h5.3v5.3h-5.3zM756.2 700.9h5.3v5.3h-5.3zM750.9 722.1h5.3v5.3h-5.3zM1047.7 722.1h5.3v5.3h-5.3zM766.8 727.4h5.3v5.3h-5.3zM761.5 738h10.6v5.3h-10.6zM1058.3 738h5.3v5.3h-5.3zM1063.6 748.6h5.3v5.3h-5.3zM772.1 759.2h5.3v5.3h-5.3zM1063.6 759.2h5.3v5.3h-5.3zM1053 769.8h5.3v5.3h-5.3zM1068.9 769.8h5.3v5.3h-5.3zM793.3 785.7h5.3v5.3h-5.3zM1063.6 785.7h5.3v5.3h-5.3zM1074.2 806.9h5.3v5.3h-5.3zM798.6 812.2h5.3v5.3h-5.3zM1042.4 817.5h15.9v5.3h-15.9zM1068.9 828.1h5.3v5.3h-5.3zM1042.4 859.9h5.3v5.3h-5.3zM1042.4 865.2h5.3v5.3h-5.3zM1021.2 870.5h5.3v5.3h-5.3zM1037.1 870.5h5.3v5.3h-5.3zM962.9 886.4h5.3v5.3h-5.3z"/><path fill="#1c56e0" d="M841 663.8h5.3v5.3h-5.3zM1010.6 732.7h5.3v5.3h-5.3zM798.6 743.3h5.3v5.3h-5.3zM819.8 801.6h5.3v5.3h-5.3zM846.3 833.4h5.3v5.3h-5.3zM941.7 859.9h5.3v5.3h-5.3z"/><path fill="#2361e0" d="M846.3 663.8h5.3v5.3h-5.3zM1010.6 817.5h5.3v5.3h-5.3zM984.1 849.3h5.3v5.3h-5.3z"/><path fill="#66dcd1" d="M851.6 663.8h5.3v5.3h-5.3z"/><path fill="#2666e0" d="M856.9 663.8h5.3v5.3h-5.3zM888.7 859.9h5.3v5.3h-5.3z"/><path fill="#48a9e0" d="M862.2 663.8h5.3v5.3h-5.3z"/><path fill="#5ccdd6" d="M867.5 663.8h5.3v5.3h-5.3zM1005.3 738h5.3v5.3h-5.3z"/><path fill="#67ded1" d="M872.8 663.8h5.3v5.3h-5.3zM883.4 838.7h5.3v5.3h-5.3z"/><path fill="#71e9c5" d="M878.1 663.8h5.3v5.3h-5.3zM856.9 674.4h5.3v5.3h-5.3z"/><path fill="#65dcd1" d="M883.4 663.8h5.3v5.3h-5.3z"/><path fill="#4eb4dd" d="M888.7 663.8h5.3v5.3h-5.3z"/><path fill="#6ce4cc" d="M894 663.8h5.3v5.3h-5.3zM915.2 669.1h5.3v5.3h-5.3zM931.1 669.1h5.3v5.3h-5.3zM830.4 695.6h5.3v5.3h-5.3zM968.2 695.6h5.3v5.3h-5.3zM1010.6 759.2h5.3v5.3h-5.3zM894 844h5.3v5.3h-5.3z"/><path fill="#3a8ce0" d="M899.3 663.8h5.3v5.3h-5.3zM1000 716.8h5.3v5.3h-5.3z"/><path fill="#45a2e0" d="M904.6 663.8h5.3v5.3h-5.3z"/><path fill="#69e1cf" d="M909.9 663.8h5.3v5.3h-5.3zM878.1 669.1h5.3v5.3h-5.3zM952.3 679.7h5.3v5.3h-5.3zM978.8 711.5h5.3v5.3h-5.3zM841 812.2h5.3v5.3h-5.3zM978.8 844h5.3v5.3h-5.3z"/><path fill="#3d91e0" d="M915.2 663.8h5.3v5.3h-5.3zM947 679.7h5.3v5.3h-5.3zM825.1 801.6h5.3v5.3h-5.3z"/><path fill="#2b6fe0" d="M925.8 663.8h5.3v5.3h-5.3zM867.5 849.3h5.3v5.3h-5.3zM925.8 859.9h5.3v5.3h-5.3z"/><path fill="#1e58e0" d="M931.1 663.8h5.3v5.3h-5.3zM830.4 817.5h5.3v5.3h-5.3zM883.4 854.6h5.3v5.3h-5.3z"/><path fill="#1d57e0" d="M936.4 663.8h10.6v5.3h-10.6zM1021.2 748.6h5.3v5.3h-5.3zM819.8 796.3h5.3v5.3h-5.3zM841 822.8h5.3v5.3h-5.3z"/><path fill="#1345db" d="M952.3 663.8h5.3v5.3h-5.3zM1000 838.7h5.3v5.3h-5.3z"/><path fill="#2e74e0" d="M841 669.1h10.6v5.3h-10.6zM952.3 674.4h5.3v5.3h-5.3zM1015.9 796.3h5.3v5.3h-5.3z"/><path fill="#6ae2ce" d="M856.9 669.1h5.3v5.3h-5.3zM925.8 669.1h5.3v5.3h-5.3zM830.4 791h5.3v5.3h-5.3zM936.4 854.6h5.3v5.3h-5.3z"/><path fill="#6de5cb" d="M862.2 669.1h5.3v5.3h-5.3zM936.4 669.1h5.3v5.3h-5.3zM835.7 679.7h5.3v5.3h-5.3zM835.7 685h5.3v5.3h-5.3zM989.4 716.8h5.3v5.3h-5.3zM1010.6 791h5.3v5.3h-5.3zM1010.6 796.3h5.3v5.3h-5.3zM867.5 833.4h5.3v5.3h-5.3z"/><path fill="#66ddd1" d="M867.5 669.1h5.3v5.3h-5.3z"/><path fill="#78ecb4" d="M872.8 669.1h5.3v5.3h-5.3zM915.2 674.4h5.3v5.3h-5.3zM973.5 706.2h5.3v5.3h-5.3zM830.4 711.5h5.3v5.3h-5.3zM825.1 716.8h5.3v5.3h-5.3zM819.8 732.7h5.3v5.3h-5.3zM846.3 812.2h5.3v5.3h-5.3zM883.4 844h5.3v5.3h-5.3zM925.8 849.3h5.3v5.3h-5.3zM931.1 854.6h5.3v5.3h-5.3z"/><path fill="#75eabf" d="M883.4 669.1h5.3v5.3h-5.3zM819.8 764.5h5.3v5.3h-5.3z"/><path fill="#77ecb9" d="M888.7 669.1h5.3v5.3h-5.3z"/><path fill="#78eca0" d="M894 669.1h5.3v5.3h-5.3zM867.5 679.7h5.3v5.3h-5.3zM1000 753.9h5.3v5.3h-5.3zM856.9 812.2h5.3v5.3h-5.3zM920.5 844h5.3v5.3h-5.3z"/><path fill="#73eac1" d="M899.3 669.1h5.3v5.3h-5.3zM947 674.4h5.3v5.3h-5.3z"/><path fill="#78ecb6" d="M904.6 669.1h5.3v5.3h-5.3zM968.2 706.2h5.3v5.3h-5.3zM994.7 727.4h5.3v5.3h-5.3zM1005.3 753.9h5.3v5.3h-5.3zM888.7 844h5.3v5.3h-5.3zM899.3 844h5.3v5.3h-5.3zM952.3 844h5.3v5.3h-5.3zM920.5 849.3h5.3v5.3h-5.3z"/><path fill="#72e9c4" d="M909.9 669.1h5.3v5.3h-5.3zM814.5 727.4h5.3v5.3h-5.3zM814.5 753.9h5.3v5.3h-5.3zM909.9 849.3h5.3v5.3h-5.3z"/><path fill="#51b9dc" d="M920.5 669.1h5.3v5.3h-5.3zM814.5 700.9h5.3v5.3h-5.3z"/><path fill="#3683e0" d="M941.7 669.1h5.3v5.3h-5.3zM830.4 685h5.3v5.3h-5.3zM809.2 759.2h5.3v5.3h-5.3z"/><path fill="#2767e0" d="M947 669.1h5.3v5.3h-5.3zM825.1 690.3h5.3v5.3h-5.3zM984.1 695.6h5.3v5.3h-5.3zM1005.3 812.2h5.3v5.3h-5.3zM872.8 849.3h10.6v5.3h-10.6z"/><path fill="#1d58e0" d="M819.8 674.4h5.3v5.3h-5.3z"/><path fill="#1a52e0" d="M835.7 674.4h5.3v5.3h-5.3z"/><path fill="#337ee0" d="M846.3 674.4h5.3v5.3h-5.3z"/><path fill="#47a5e0" d="M851.6 674.4h5.3v5.3h-5.3z"/><path fill="#78ecb5" d="M862.2 674.4h10.6v5.3h-10.6zM835.7 801.6h5.3v5.3h-5.3zM878.1 828.1h5.3v5.3h-5.3z"/><path fill="#78eca5" d="M872.8 674.4h5.3v5.3h-5.3zM819.8 775.1h5.3v5.3h-5.3zM973.5 833.4h5.3v5.3h-5.3zM909.9 838.7h5.3v5.3h-5.3zM915.2 844h5.3v5.3h-5.3z"/><path fill="#78ecb2" d="M878.1 674.4h5.3v5.3h-5.3zM925.8 679.7h5.3v5.3h-5.3zM957.6 690.3h5.3v5.3h-5.3zM1000 732.7h5.3v5.3h-5.3zM1000 738h5.3v5.3h-5.3zM851.6 817.5h5.3v5.3h-5.3zM867.5 828.1h5.3v5.3h-5.3zM962.9 838.7h5.3v5.3h-5.3z"/><path fill="#78ecb0" d="M883.4 674.4h5.3v5.3h-5.3zM904.6 679.7h5.3v5.3h-5.3zM851.6 685h5.3v5.3h-5.3zM962.9 695.6h5.3v5.3h-5.3zM1000 743.3h5.3v5.3h-5.3zM1000 769.8h5.3v5.3h-5.3zM878.1 833.4h5.3v5.3h-5.3zM925.8 844h5.3v5.3h-5.3zM962.9 844h5.3v5.3h-5.3z"/><path fill="#78ec9f" d="M888.7 674.4h5.3v5.3h-5.3zM862.2 679.7h5.3v5.3h-5.3zM872.8 685h5.3v5.3h-5.3zM825.1 727.4h5.3v5.3h-5.3zM819.8 743.3h5.3v5.3h-5.3zM994.7 748.6h5.3v5.3h-5.3zM962.9 828.1h5.3v5.3h-5.3z"/><path fill="#78ecaf" d="M894 674.4h5.3v5.3h-5.3zM856.9 679.7h5.3v5.3h-5.3zM814.5 732.7h5.3v5.3h-5.3zM984.1 822.8h5.3v5.3h-5.3z"/><path fill="#78ecae" d="M899.3 674.4h5.3v5.3h-5.3zM835.7 796.3h5.3v5.3h-5.3zM941.7 844h10.6v5.3h-10.6z"/><path fill="#78eca8" d="M904.6 674.4h5.3v5.3h-5.3zM936.4 690.3h5.3v5.3h-5.3zM994.7 743.3h5.3v5.3h-5.3zM819.8 748.6h5.3v5.3h-5.3zM835.7 785.7h5.3v5.3h-5.3zM872.8 828.1h5.3v5.3h-5.3z"/><path fill="#78eca1" d="M909.9 674.4h5.3v5.3h-5.3zM856.9 685h5.3v5.3h-5.3zM830.4 706.2h5.3v5.3h-5.3z"/><path fill="#76ebbc" d="M920.5 674.4h5.3v5.3h-5.3zM819.8 738h5.3v5.3h-5.3zM957.6 849.3h5.3v5.3h-5.3z"/><path fill="#6fe7c9" d="M925.8 674.4h5.3v5.3h-5.3zM931.1 679.7h5.3v5.3h-5.3zM968.2 690.3h5.3v5.3h-5.3zM819.8 716.8h5.3v5.3h-5.3zM819.8 769.8h5.3v5.3h-5.3zM1005.3 801.6h5.3v5.3h-5.3zM851.6 822.8h5.3v5.3h-5.3zM984.1 833.4h5.3v5.3h-5.3zM941.7 854.6h5.3v5.3h-5.3z"/><path fill="#78ecad" d="M931.1 674.4h5.3v5.3h-5.3zM814.5 748.6h5.3v5.3h-5.3zM830.4 785.7h5.3v5.3h-5.3z"/><path fill="#78ecb7" d="M936.4 674.4h5.3v5.3h-5.3zM846.3 685h5.3v5.3h-5.3zM814.5 711.5h5.3v5.3h-5.3zM1005.3 743.3h5.3v5.3h-5.3zM809.2 753.9h5.3v5.3h-5.3zM984.1 828.1h5.3v5.3h-5.3zM968.2 844h5.3v5.3h-5.3z"/><path fill="#71e9c6" d="M941.7 674.4h5.3v5.3h-5.3z"/><path fill="#2c6fe0" d="M957.6 674.4h5.3v5.3h-5.3zM947 859.9h5.3v5.3h-5.3z"/><path fill="#a6b0b8" d="M613.1 398.8h5.3v5.3h-5.3zM576 414.7h5.3v5.3h-5.3zM570.7 425.3h5.3v5.3h-5.3zM613.1 430.6h5.3v5.3h-5.3zM512.4 441.2h5.3v5.3h-5.3zM692.6 467.7h5.3v5.3h-5.3zM947 467.7h5.3v5.3h-5.3zM570.7 478.3h5.3v5.3h-5.3zM597.2 478.3h5.3v5.3h-5.3zM772.1 478.3h5.3v5.3h-5.3zM523 494.2h5.3v5.3h-5.3zM719.1 494.2h5.3v5.3h-5.3zM750.9 504.8h5.3v5.3h-5.3zM655.5 520.7h5.3v5.3h-5.3zM984.1 531.3h5.3v5.3h-5.3zM1063.6 531.3h5.3v5.3h-5.3zM491.2 536.6h5.3v5.3h-5.3zM549.5 536.6h5.3v5.3h-5.3zM724.4 536.6h5.3v5.3h-5.3zM745.6 536.6h5.3v5.3h-5.3zM883.4 536.6h5.3v5.3h-5.3zM591.9 547.2h10.6v5.3h-10.6zM666.1 547.2h5.3v5.3h-5.3zM973.5 552.5h5.3v5.3h-5.3zM1159 557.8h5.3v5.3h-5.3zM1037.1 563.1h5.3v5.3h-5.3zM639.6 573.7h5.3v5.3h-5.3zM809.2 573.7h5.3v5.3h-5.3zM973.5 573.7h5.3v5.3h-5.3zM1079.5 573.7h5.3v5.3h-5.3zM1174.9 573.7h5.3v5.3h-5.3zM485.9 589.6h5.3v5.3h-5.3zM613.1 589.6h5.3v5.3h-5.3zM692.6 589.6h5.3v5.3h-5.3zM989.4 589.6h5.3v5.3h-5.3zM1068.9 589.6h5.3v5.3h-5.3zM1090.1 600.2h5.3v5.3h-5.3zM1201.4 600.2h5.3v5.3h-5.3zM586.6 610.8h5.3v5.3h-5.3zM1164.3 616.1h5.3v5.3h-5.3zM708.5 621.4h5.3v5.3h-5.3zM591.9 626.7h5.3v5.3h-5.3zM650.2 626.7h5.3v5.3h-5.3zM666.1 626.7h5.3v5.3h-5.3zM724.4 626.7h5.3v5.3h-5.3zM756.2 626.7h5.3v5.3h-5.3zM1100.7 626.7h5.3v5.3h-5.3zM1222.6 637.3h5.3v5.3h-5.3zM692.6 642.6h5.3v5.3h-5.3zM613.1 653.2h5.3v5.3h-5.3zM1169.6 653.2h5.3v5.3h-5.3zM1143.1 658.5h5.3v5.3h-5.3zM501.8 663.8h5.3v5.3h-5.3zM639.6 663.8h5.3v5.3h-5.3zM501.8 674.4h5.3v5.3h-5.3zM629 674.4h5.3v5.3h-5.3zM692.6 674.4h5.3v5.3h-5.3zM724.4 674.4h5.3v5.3h-5.3zM1201.4 674.4h5.3v5.3h-5.3zM1148.4 685h5.3v5.3h-5.3zM1227.9 685h5.3v5.3h-5.3zM655.5 706.2h5.3v5.3h-5.3zM1212 711.5h5.3v5.3h-5.3zM1270.3 711.5h5.3v5.3h-5.3zM1116.6 716.8h5.3v5.3h-5.3zM692.6 727.4h5.3v5.3h-5.3zM1121.9 727.4h5.3v5.3h-5.3zM676.7 738h5.3v5.3h-5.3zM1212 743.3h5.3v5.3h-5.3zM1280.9 764.5h5.3v5.3h-5.3zM692.6 775.1h5.3v5.3h-5.3zM1254.4 775.1h5.3v5.3h-5.3zM682 780.4h5.3v5.3h-5.3zM745.6 780.4h5.3v5.3h-5.3zM692.6 791h5.3v5.3h-5.3zM1153.7 791h5.3v5.3h-5.3zM1307.4 791h5.3v5.3h-5.3zM1243.8 806.9h5.3v5.3h-5.3zM1121.9 812.2h5.3v5.3h-5.3zM1148.4 812.2h5.3v5.3h-5.3zM639.6 817.5h5.3v5.3h-5.3zM1227.9 817.5h5.3v5.3h-5.3zM1265 828.1h5.3v5.3h-5.3zM1121.9 838.7h5.3v5.3h-5.3zM623.7 844h5.3v5.3h-5.3zM750.9 849.3h5.3v5.3h-5.3zM1095.4 849.3h5.3v5.3h-5.3zM1116.6 849.3h5.3v5.3h-5.3zM1333.9 849.3h5.3v5.3h-5.3zM602.5 859.9h5.3v5.3h-5.3zM1185.5 859.9h5.3v5.3h-5.3zM1212 859.9h5.3v5.3h-5.3zM703.2 870.5h5.3v5.3h-5.3zM793.3 870.5h5.3v5.3h-5.3zM1132.5 870.5h5.3v5.3h-5.3zM1121.9 875.8h5.3v5.3h-5.3zM618.4 881.1h5.3v5.3h-5.3zM682 881.1h5.3v5.3h-5.3zM793.3 881.1h5.3v5.3h-5.3zM1174.9 886.4h5.3v5.3h-5.3zM1201.4 897h5.3v5.3h-5.3zM750.9 907.6h5.3v5.3h-5.3zM1222.6 907.6h5.3v5.3h-5.3zM788 912.9h5.3v5.3h-5.3zM1026.5 912.9h5.3v5.3h-5.3zM825.1 923.5h5.3v5.3h-5.3zM904.6 923.5h5.3v5.3h-5.3zM957.6 923.5h5.3v5.3h-5.3zM1328.6 923.5h5.3v5.3h-5.3zM655.5 928.8h5.3v5.3h-5.3zM676.7 928.8h5.3v5.3h-5.3zM1328.6 928.8h5.3v5.3h-5.3zM941.7 939.4h5.3v5.3h-5.3zM941.7 950h5.3v5.3h-5.3zM968.2 950h5.3v5.3h-5.3zM1026.5 955.3h5.3v5.3h-5.3zM777.4 960.6h5.3v5.3h-5.3zM814.5 960.6h5.3v5.3h-5.3zM878.1 960.6h5.3v5.3h-5.3zM1148.4 960.6h5.3v5.3h-5.3zM1169.6 960.6h5.3v5.3h-5.3zM1201.4 960.6h10.6v5.3h-10.6zM666.1 965.9h5.3v5.3h-5.3zM1227.9 976.5h5.3v5.3h-5.3zM1106 981.8h5.3v5.3h-5.3zM1169.6 981.8h5.3v5.3h-5.3zM1254.4 981.8h5.3v5.3h-5.3zM1121.9 992.4h5.3v5.3h-5.3zM1333.9 992.4h5.3v5.3h-5.3zM1053 1003h5.3v5.3h-5.3zM1079.5 1003h5.3v5.3h-5.3zM1174.9 1003h5.3v5.3h-5.3zM1238.5 1003h10.6v5.3h-10.6zM1100.7 1018.9h5.3v5.3h-5.3zM1116.6 1018.9h5.3v5.3h-5.3zM1265 1018.9h10.6v5.3h-10.6zM1328.6 1018.9h5.3v5.3h-5.3zM1222.6 1029.5h5.3v5.3h-5.3zM1265 1034.8h5.3v5.3h-5.3zM1042.4 1045.4h5.3v5.3h-5.3zM1249.1 1045.4h5.3v5.3h-5.3zM1307.4 1061.3h5.3v5.3h-5.3zM1106 1071.9h5.3v5.3h-5.3zM1238.5 1071.9h5.3v5.3h-5.3zM1222.6 1087.8h5.3v5.3h-5.3z"/><path fill="#3989e0" d="M841 679.7h5.3v5.3h-5.3zM814.5 780.4h5.3v5.3h-5.3z"/><path fill="#77ecba" d="M846.3 679.7h5.3v5.3h-5.3zM947 685h5.3v5.3h-5.3zM830.4 796.3h5.3v5.3h-5.3z"/><path fill="#6ee6ca" d="M851.6 679.7h5.3v5.3h-5.3zM978.8 706.2h5.3v5.3h-5.3zM814.5 722.1h5.3v5.3h-5.3zM1005.3 769.8h5.3v5.3h-5.3z"/><path fill="#78eca2" d="M872.8 679.7h5.3v5.3h-5.3zM915.2 679.7h5.3v5.3h-5.3zM835.7 700.9h5.3v5.3h-5.3zM973.5 711.5h5.3v5.3h-5.3zM989.4 732.7h5.3v5.3h-5.3zM835.7 791h5.3v5.3h-5.3zM1000 791h5.3v5.3h-5.3zM846.3 801.6h5.3v5.3h-5.3z"/><path fill="#78eca9" d="M878.1 679.7h5.3v5.3h-5.3zM947 690.3h5.3v5.3h-5.3zM1005.3 759.2h5.3v5.3h-5.3zM1005.3 785.7h5.3v5.3h-5.3zM851.6 812.2h5.3v5.3h-5.3zM989.4 812.2h5.3v5.3h-5.3zM989.4 817.5h5.3v5.3h-5.3zM872.8 833.4h5.3v5.3h-5.3zM952.3 838.7h5.3v5.3h-5.3zM968.2 838.7h5.3v5.3h-5.3z"/><path fill="#79ec9c" d="M883.4 679.7h5.3v5.3h-5.3zM867.5 685h5.3v5.3h-5.3zM825.1 748.6h5.3v5.3h-5.3zM825.1 769.8h5.3v5.3h-5.3zM1000 785.7h5.3v5.3h-5.3zM841 791h5.3v5.3h-5.3zM867.5 817.5h5.3v5.3h-5.3zM872.8 822.8h5.3v5.3h-5.3z"/><path fill="#7eec8e" d="M888.7 679.7h10.6v5.3h-10.6zM883.4 685h5.3v5.3h-5.3zM920.5 690.3h5.3v5.3h-5.3zM851.6 695.6h5.3v5.3h-5.3zM978.8 716.8h5.3v5.3h-5.3zM1000 759.2h5.3v5.3h-5.3zM978.8 806.9h5.3v5.3h-5.3z"/><path fill="#80ec84" d="M899.3 679.7h5.3v5.3h-5.3zM920.5 685h5.3v5.3h-5.3zM862.2 700.9h5.3v5.3h-5.3zM841 706.2h5.3v5.3h-5.3zM825.1 764.5h5.3v5.3h-5.3zM984.1 775.1h5.3v5.3h-5.3zM841 785.7h5.3v5.3h-5.3z"/><path fill="#7aec9b" d="M909.9 679.7h5.3v5.3h-5.3zM957.6 695.6h5.3v5.3h-5.3zM957.6 700.9h5.3v5.3h-5.3zM894 838.7h5.3v5.3h-5.3z"/><path fill="#7eec8d" d="M920.5 679.7h5.3v5.3h-5.3zM835.7 722.1h5.3v5.3h-5.3zM994.7 780.4h5.3v5.3h-5.3zM978.8 812.2h5.3v5.3h-5.3zM894 828.1h5.3v5.3h-5.3zM925.8 833.4h5.3v5.3h-5.3zM925.8 838.7h5.3v5.3h-5.3z"/><path fill="#78ecb3" d="M936.4 679.7h5.3v5.3h-5.3zM841 690.3h5.3v5.3h-5.3zM962.9 690.3h5.3v5.3h-5.3zM984.1 716.8h5.3v5.3h-5.3zM825.1 780.4h5.3v5.3h-5.3zM1005.3 791h5.3v5.3h-5.3zM973.5 838.7h5.3v5.3h-5.3zM909.9 844h5.3v5.3h-5.3zM915.2 849.3h5.3v5.3h-5.3z"/><path fill="#75ebbd" d="M941.7 679.7h5.3v5.3h-5.3zM835.7 690.3h5.3v5.3h-5.3zM904.6 844h5.3v5.3h-5.3z"/><path fill="#398ae0" d="M957.6 679.7h5.3v5.3h-5.3zM809.2 743.3h5.3v5.3h-5.3z"/><path fill="#2838cc" d="M936.4 563.1h5.3v5.3h-5.3zM719.1 584.3h5.3v5.3h-5.3zM936.4 589.6h5.3v5.3h-5.3zM1084.8 685h5.3v5.3h-5.3zM1090.1 690.3h5.3v5.3h-5.3zM1090.1 711.5h5.3v5.3h-5.3zM735 806.9h5.3v5.3h-5.3zM724.4 817.5h5.3v5.3h-5.3zM1148.4 817.5h5.3v5.3h-5.3zM777.4 849.3h5.3v5.3h-5.3zM1148.4 865.2h5.3v5.3h-5.3zM1148.4 870.5h5.3v5.3h-5.3zM1148.4 875.8h5.3v5.3h-5.3zM867.5 923.5h5.3v5.3h-5.3z"/><path fill="#174ddf" d="M814.5 685h5.3v5.3h-5.3zM825.1 812.2h5.3v5.3h-5.3zM962.9 865.2h5.3v5.3h-5.3z"/><path fill="#2360e0" d="M819.8 685h5.3v5.3h-5.3zM888.7 849.3h5.3v5.3h-5.3z"/><path fill="#76ebbd" d="M841 685h5.3v5.3h-5.3z"/><path fill="#78eca7" d="M862.2 685h5.3v5.3h-5.3zM841 695.6h5.3v5.3h-5.3zM952.3 695.6h5.3v5.3h-5.3zM825.1 711.5h5.3v5.3h-5.3zM984.1 817.5h5.3v5.3h-5.3zM883.4 833.4h5.3v5.3h-5.3zM888.7 838.7h5.3v5.3h-5.3z"/><path fill="#7fec8b" d="M878.1 685h5.3v5.3h-5.3zM867.5 690.3h5.3v5.3h-5.3zM973.5 716.8h5.3v5.3h-5.3zM973.5 722.1h5.3v5.3h-5.3zM835.7 727.4h5.3v5.3h-5.3zM856.9 806.9h5.3v5.3h-5.3zM984.1 806.9h5.3v5.3h-5.3zM867.5 822.8h5.3v5.3h-5.3zM920.5 833.4h5.3v5.3h-5.3z"/><path fill="#80ec87" d="M888.7 685h5.3v5.3h-5.3zM936.4 695.6h5.3v5.3h-5.3zM968.2 711.5h5.3v5.3h-5.3zM984.1 732.7h5.3v5.3h-5.3zM989.4 764.5h5.3v5.3h-5.3zM973.5 812.2h5.3v5.3h-5.3z"/><path fill="#80ec79" d="M894 685h5.3v5.3h-5.3zM846.3 700.9h10.6v5.3h-10.6zM957.6 706.2h5.3v5.3h-5.3zM978.8 732.7h5.3v5.3h-5.3zM856.9 801.6h5.3v5.3h-5.3zM862.2 806.9h5.3v5.3h-5.3zM867.5 812.2h5.3v5.3h-5.3z"/><path fill="#80ec89" d="M899.3 685h5.3v5.3h-5.3zM989.4 738h5.3v5.3h-5.3zM994.7 753.9h5.3v5.3h-5.3zM878.1 817.5h5.3v5.3h-5.3zM973.5 817.5h5.3v5.3h-5.3zM888.7 828.1h5.3v5.3h-5.3z"/><path fill="#7cec93" d="M904.6 685h5.3v5.3h-5.3zM952.3 700.9h5.3v5.3h-5.3zM830.4 775.1h5.3v5.3h-5.3zM1000 775.1h5.3v5.3h-5.3zM973.5 822.8h5.3v5.3h-5.3zM894 833.4h5.3v5.3h-5.3z"/><path fill="#82ec6c" d="M909.9 685h5.3v5.3h-5.3zM989.4 775.1h5.3v5.3h-5.3zM867.5 796.3h5.3v5.3h-5.3zM872.8 812.2h5.3v5.3h-5.3z"/><path fill="#7fec8a" d="M915.2 685h5.3v5.3h-5.3zM841 711.5h5.3v5.3h-5.3z"/><path fill="#80ec82" d="M925.8 685h5.3v5.3h-5.3zM883.4 690.3h5.3v5.3h-5.3zM835.7 706.2h5.3v5.3h-5.3zM835.7 711.5h5.3v5.3h-5.3zM846.3 711.5h5.3v5.3h-5.3zM830.4 748.6h5.3v5.3h-5.3zM994.7 791h5.3v5.3h-5.3zM973.5 828.1h5.3v5.3h-5.3z"/><path fill="#80ec85" d="M931.1 685h5.3v5.3h-5.3zM989.4 780.4h5.3v5.3h-5.3zM851.6 801.6h5.3v5.3h-5.3zM962.9 822.8h5.3v5.3h-5.3zM920.5 828.1h10.6v5.3h-10.6zM936.4 828.1h5.3v5.3h-5.3zM957.6 833.4h5.3v5.3h-5.3z"/><path fill="#78ecb1" d="M936.4 685h5.3v5.3h-5.3zM968.2 700.9h5.3v5.3h-5.3zM989.4 727.4h5.3v5.3h-5.3zM1000 801.6h5.3v5.3h-5.3zM994.7 812.2h5.3v5.3h-5.3z"/><path fill="#78eca6" d="M941.7 685h5.3v5.3h-5.3zM819.8 759.2h5.3v5.3h-5.3zM994.7 801.6h5.3v5.3h-5.3zM994.7 806.9h5.3v5.3h-5.3zM978.8 828.1h5.3v5.3h-5.3zM968.2 833.4h5.3v5.3h-5.3zM947 838.7h5.3v5.3h-5.3z"/><path fill="#78ecb9" d="M952.3 685h5.3v5.3h-5.3z"/><path fill="#70e8c8" d="M957.6 685h5.3v5.3h-5.3zM1010.6 801.6h5.3v5.3h-5.3z"/><path fill="#2766e0" d="M962.9 685h5.3v5.3h-5.3zM1015.9 791h5.3v5.3h-5.3zM830.4 812.2h5.3v5.3h-5.3z"/><path fill="#2a6ce0" d="M968.2 685h5.3v5.3h-5.3zM809.2 727.4h5.3v5.3h-5.3zM830.4 801.6h5.3v5.3h-5.3zM957.6 859.9h5.3v5.3h-5.3z"/><path fill="#1447dc" d="M814.5 690.3h5.3v5.3h-5.3zM1015.9 743.3h5.3v5.3h-5.3z"/><path fill="#63d9d2" d="M830.4 690.3h5.3v5.3h-5.3z"/><path fill="#78ecaa" d="M846.3 690.3h5.3v5.3h-5.3zM1000 796.3h5.3v5.3h-5.3zM931.1 838.7h5.3v5.3h-5.3z"/><path fill="#78eca3" d="M851.6 690.3h5.3v5.3h-5.3zM925.8 690.3h5.3v5.3h-5.3zM1005.3 764.5h5.3v5.3h-5.3zM994.7 796.3h5.3v5.3h-5.3zM862.2 817.5h5.3v5.3h-5.3zM931.1 844h5.3v5.3h-5.3z"/><path fill="#80ec86" d="M856.9 690.3h10.6v5.3h-10.6zM957.6 716.8h5.3v5.3h-5.3zM984.1 743.3h5.3v5.3h-5.3zM825.1 759.2h5.3v5.3h-5.3zM1005.3 780.4h5.3v5.3h-5.3zM984.1 801.6h5.3v5.3h-5.3zM867.5 806.9h5.3v5.3h-5.3zM888.7 822.8h5.3v5.3h-5.3zM947 828.1h5.3v5.3h-5.3z"/><path fill="#80ec75" d="M872.8 690.3h5.3v5.3h-5.3zM888.7 695.6h5.3v5.3h-5.3zM941.7 822.8h5.3v5.3h-5.3z"/><path fill="#80ec70" d="M878.1 690.3h5.3v5.3h-5.3zM904.6 695.6h5.3v5.3h-5.3zM915.2 695.6h5.3v5.3h-5.3zM925.8 695.6h5.3v5.3h-5.3zM846.3 706.2h5.3v5.3h-5.3zM941.7 706.2h5.3v5.3h-5.3zM962.9 722.1h5.3v5.3h-5.3zM947 817.5h5.3v5.3h-5.3zM968.2 822.8h5.3v5.3h-5.3z"/><path fill="#81ec6f" d="M888.7 690.3h5.3v5.3h-5.3zM841 722.1h5.3v5.3h-5.3zM830.4 753.9h5.3v5.3h-5.3zM941.7 817.5h5.3v5.3h-5.3z"/><path fill="#80ec83" d="M894 690.3h5.3v5.3h-5.3zM835.7 716.8h5.3v5.3h-5.3zM825.1 753.9h5.3v5.3h-5.3zM994.7 775.1h5.3v5.3h-5.3zM915.2 833.4h5.3v5.3h-5.3z"/><path fill="#84ec68" d="M899.3 690.3h5.3v5.3h-5.3zM872.8 700.9h5.3v5.3h-5.3zM851.6 711.5h5.3v5.3h-5.3zM835.7 769.8h5.3v5.3h-5.3zM851.6 791h5.3v5.3h-5.3zM984.1 791h5.3v5.3h-5.3zM878.1 806.9h5.3v5.3h-5.3zM909.9 817.5h5.3v5.3h-5.3z"/><path fill="#80ec81" d="M904.6 690.3h5.3v5.3h-5.3zM830.4 743.3h5.3v5.3h-5.3zM994.7 759.2h5.3v5.3h-5.3zM994.7 764.5h5.3v5.3h-5.3zM968.2 817.5h5.3v5.3h-5.3zM915.2 822.8h5.3v5.3h-5.3zM947 822.8h5.3v5.3h-5.3z"/><path fill="#80ec76" d="M909.9 690.3h5.3v5.3h-5.3zM883.4 695.6h5.3v5.3h-5.3zM899.3 695.6h5.3v5.3h-5.3zM957.6 817.5h5.3v5.3h-5.3zM952.3 822.8h5.3v5.3h-5.3zM931.1 828.1h5.3v5.3h-5.3z"/><path fill="#80ec7a" d="M915.2 690.3h5.3v5.3h-5.3zM872.8 695.6h5.3v5.3h-5.3zM1000 764.5h5.3v5.3h-5.3z"/><path fill="#7cec95" d="M931.1 690.3h5.3v5.3h-5.3zM978.8 817.5h5.3v5.3h-5.3zM899.3 833.4h5.3v5.3h-5.3zM941.7 838.7h5.3v5.3h-5.3z"/><path fill="#7dec91" d="M941.7 690.3h5.3v5.3h-5.3zM968.2 722.1h5.3v5.3h-5.3zM819.8 727.4h5.3v5.3h-5.3zM978.8 727.4h5.3v5.3h-5.3zM1000 748.6h5.3v5.3h-5.3zM989.4 801.6h5.3v5.3h-5.3z"/><path fill="#78ecb8" d="M952.3 690.3h5.3v5.3h-5.3zM825.1 785.7h5.3v5.3h-5.3zM994.7 817.5h5.3v5.3h-5.3zM931.1 849.3h5.3v5.3h-5.3zM941.7 849.3h5.3v5.3h-5.3z"/><path fill="#398be0" d="M973.5 690.3h5.3v5.3h-5.3z"/><path fill="#2832aa" d="M1074.2 690.3h5.3v5.3h-5.3zM1100.7 743.3h5.3v5.3h-5.3z"/><path fill="#737ac8" d="M1074.2 695.6h5.3v5.3h-5.3zM1100.7 738h5.3v5.3h-5.3z"/><path fill="#a9addd" d="M1079.5 690.3h5.3v5.3h-5.3zM1095.4 743.3h5.3v5.3h-5.3z"/><path fill="#c3c6e7" d="M1079.5 695.6h5.3v5.3h-5.3z"/><path fill="#1c57e0" d="M809.2 695.6h5.3v5.3h-5.3z"/><path fill="#5acad7" d="M825.1 695.6h5.3v5.3h-5.3z"/><path fill="#7aec9a" d="M835.7 695.6h5.3v5.3h-5.3zM825.1 722.1h5.3v5.3h-5.3zM830.4 769.8h5.3v5.3h-5.3zM978.8 822.8h5.3v5.3h-5.3zM957.6 828.1h5.3v5.3h-5.3z"/><path fill="#80ec80" d="M846.3 695.6h5.3v5.3h-5.3zM957.6 711.5h5.3v5.3h-5.3zM989.4 753.9h5.3v5.3h-5.3zM989.4 796.3h5.3v5.3h-5.3zM862.2 812.2h5.3v5.3h-5.3zM952.3 828.1h5.3v5.3h-5.3z"/><path fill="#79ec9d" d="M856.9 695.6h5.3v5.3h-5.3zM830.4 700.9h5.3v5.3h-5.3zM962.9 700.9h5.3v5.3h-5.3zM936.4 844h5.3v5.3h-5.3z"/><path fill="#80ec74" d="M862.2 695.6h5.3v5.3h-5.3zM878.1 695.6h5.3v5.3h-5.3zM936.4 700.9h5.3v5.3h-5.3zM952.3 711.5h5.3v5.3h-5.3zM978.8 722.1h5.3v5.3h-5.3zM978.8 801.6h5.3v5.3h-5.3z"/><path fill="#80ec7d" d="M867.5 695.6h5.3v5.3h-5.3zM830.4 722.1h5.3v5.3h-5.3zM846.3 796.3h5.3v5.3h-5.3zM851.6 806.9h5.3v5.3h-5.3z"/><path fill="#83ec6b" d="M894 695.6h5.3v5.3h-5.3zM835.7 764.5h5.3v5.3h-5.3zM883.4 812.2h5.3v5.3h-5.3zM936.4 817.5h5.3v5.3h-5.3z"/><path fill="#80ec7e" d="M909.9 695.6h5.3v5.3h-5.3zM931.1 695.6h5.3v5.3h-5.3zM856.9 700.9h5.3v5.3h-5.3zM830.4 764.5h5.3v5.3h-5.3zM957.6 822.8h5.3v5.3h-5.3zM941.7 828.1h5.3v5.3h-5.3z"/><path fill="#83ec6a" d="M920.5 695.6h5.3v5.3h-5.3zM909.9 700.9h5.3v5.3h-5.3zM925.8 700.9h5.3v5.3h-5.3zM862.2 796.3h5.3v5.3h-5.3zM888.7 817.5h5.3v5.3h-5.3zM909.9 822.8h5.3v5.3h-5.3z"/><path fill="#7fec8c" d="M941.7 695.6h5.3v5.3h-5.3zM947 700.9h5.3v5.3h-5.3zM962.9 706.2h5.3v5.3h-5.3zM984.1 727.4h5.3v5.3h-5.3zM825.1 743.3h5.3v5.3h-5.3zM846.3 806.9h5.3v5.3h-5.3z"/><path fill="#7bec98" d="M947 695.6h5.3v5.3h-5.3zM1000 780.4h5.3v5.3h-5.3zM915.2 838.7h5.3v5.3h-5.3zM904.6 849.3h5.3v5.3h-5.3z"/><path fill="#439fe0" d="M973.5 695.6h5.3v5.3h-5.3z"/><path fill="#acb6c2" d="M729.7 700.9h5.3v5.3h-5.3zM1084.8 812.2h5.3v5.3h-5.3z"/><path fill="#c9d0d7" d="M729.7 695.6h5.3v5.3h-5.3zM1084.8 806.9h5.3v5.3h-5.3zM1063.6 859.9h5.3v5.3h-5.3z"/><path fill="#dee2e7" d="M735 700.9h5.3v5.3h-5.3zM1090.1 812.2h5.3v5.3h-5.3zM1068.9 854.6h5.3v5.3h-5.3z"/><path fill="#e8ebee" d="M735 695.6h5.3v5.3h-5.3zM1090.1 806.9h5.3v5.3h-5.3z"/><path fill="#205ce0" d="M819.8 700.9h5.3v5.3h-5.3zM803.9 759.2h5.3v5.3h-5.3zM1005.3 828.1h5.3v5.3h-5.3z"/><path fill="#65dbd2" d="M825.1 700.9h5.3v5.3h-5.3zM819.8 711.5h5.3v5.3h-5.3zM994.7 828.1h5.3v5.3h-5.3z"/><path fill="#7dec90" d="M841 700.9h5.3v5.3h-5.3zM994.7 785.7h5.3v5.3h-5.3zM989.4 806.9h5.3v5.3h-5.3zM872.8 817.5h5.3v5.3h-5.3zM888.7 833.4h5.3v5.3h-5.3zM941.7 833.4h5.3v5.3h-5.3z"/><path fill="#88ec60" d="M867.5 700.9h5.3v5.3h-5.3zM947 711.5h5.3v5.3h-5.3zM978.8 738h5.3v5.3h-5.3zM957.6 812.2h5.3v5.3h-5.3zM904.6 817.5h5.3v5.3h-5.3z"/><path fill="#89ec5f" d="M878.1 700.9h5.3v5.3h-5.3zM841 753.9h5.3v5.3h-5.3zM931.1 817.5h5.3v5.3h-5.3z"/><path fill="#86ec64" d="M883.4 700.9h5.3v5.3h-5.3zM920.5 700.9h5.3v5.3h-5.3zM936.4 706.2h5.3v5.3h-5.3zM952.3 817.5h5.3v5.3h-5.3z"/><path fill="#86ec65" d="M888.7 700.9h5.3v5.3h-5.3zM968.2 727.4h5.3v5.3h-5.3zM915.2 817.5h5.3v5.3h-5.3z"/><path fill="#8aec5c" d="M894 700.9h5.3v5.3h-5.3zM872.8 706.2h5.3v5.3h-5.3z"/><path fill="#8eec55" d="M899.3 700.9h5.3v5.3h-5.3zM856.9 711.5h5.3v5.3h-5.3z"/><path fill="#82ec6d" d="M904.6 700.9h5.3v5.3h-5.3zM931.1 706.2h5.3v5.3h-5.3zM825.1 738h5.3v5.3h-5.3zM830.4 759.2h5.3v5.3h-5.3zM846.3 780.4h5.3v5.3h-5.3z"/><path fill="#8cec57" d="M915.2 700.9h5.3v5.3h-5.3zM962.9 727.4h5.3v5.3h-5.3zM888.7 806.9h5.3v5.3h-5.3z"/><path fill="#85ec65" d="M931.1 700.9h5.3v5.3h-5.3zM973.5 732.7h5.3v5.3h-5.3z"/><path fill="#80ec7f" d="M941.7 700.9h5.3v5.3h-5.3zM947 706.2h5.3v5.3h-5.3zM915.2 828.1h5.3v5.3h-5.3zM931.1 833.4h10.6v5.3h-10.6z"/><path fill="#74eac1" d="M973.5 700.9h5.3v5.3h-5.3zM862.2 828.1h5.3v5.3h-5.3z"/><path fill="#64dad2" d="M978.8 700.9h5.3v5.3h-5.3zM989.4 828.1h5.3v5.3h-5.3z"/><path fill="#225fe0" d="M809.2 706.2h5.3v5.3h-5.3zM803.9 722.1h5.3v5.3h-5.3zM809.2 780.4h5.3v5.3h-5.3zM825.1 796.3h5.3v5.3h-5.3zM1005.3 833.4h5.3v5.3h-5.3zM894 859.9h10.6v5.3h-10.6z"/><path fill="#3b8ee0" d="M814.5 706.2h5.3v5.3h-5.3zM1010.6 743.3h5.3v5.3h-5.3z"/><path fill="#68e0d0" d="M819.8 706.2h5.3v5.3h-5.3zM1000 817.5h5.3v5.3h-5.3zM920.5 854.6h5.3v5.3h-5.3z"/><path fill="#5dd0d5" d="M825.1 706.2h5.3v5.3h-5.3z"/><path fill="#80ec77" d="M851.6 706.2h5.3v5.3h-5.3zM973.5 727.4h5.3v5.3h-5.3zM936.4 822.8h5.3v5.3h-5.3zM904.6 828.1h5.3v5.3h-5.3z"/><path fill="#81ec6d" d="M856.9 706.2h5.3v5.3h-5.3zM830.4 738h5.3v5.3h-5.3zM984.1 785.7h5.3v5.3h-5.3z"/><path fill="#87ec62" d="M862.2 706.2h5.3v5.3h-5.3zM936.4 711.5h5.3v5.3h-5.3zM856.9 716.8h5.3v5.3h-5.3zM888.7 812.2h5.3v5.3h-5.3z"/><path fill="#8aec5d" d="M867.5 706.2h5.3v5.3h-5.3z"/><path fill="#8bec5a" d="M878.1 706.2h5.3v5.3h-5.3zM968.2 738h5.3v5.3h-5.3zM867.5 801.6h5.3v5.3h-5.3z"/><path fill="#88ec5f" d="M883.4 706.2h5.3v5.3h-5.3zM841 780.4h5.3v5.3h-5.3zM968.2 806.9h5.3v5.3h-5.3zM941.7 812.2h5.3v5.3h-5.3z"/><path fill="#93ec4b" d="M888.7 706.2h5.3v5.3h-5.3zM947 743.3h5.3v5.3h-5.3zM883.4 785.7h5.3v5.3h-5.3z"/><path fill="#89ec5e" d="M894 706.2h5.3v5.3h-5.3zM841 732.7h5.3v5.3h-5.3zM925.8 817.5h5.3v5.3h-5.3z"/><path fill="#8bec59" d="M899.3 706.2h5.3v5.3h-5.3zM978.8 780.4h5.3v5.3h-5.3z"/><path fill="#95ec45" d="M904.6 706.2h5.3v5.3h-5.3zM835.7 748.6h5.3v5.3h-5.3z"/><path fill="#96ec43" d="M909.9 706.2h5.3v5.3h-5.3z"/><path fill="#84ec69" d="M915.2 706.2h5.3v5.3h-5.3zM846.3 716.8h5.3v5.3h-5.3z"/><path fill="#94ec48" d="M920.5 706.2h5.3v5.3h-5.3zM851.6 780.4h5.3v5.3h-5.3z"/><path fill="#87ec63" d="M925.8 706.2h5.3v5.3h-5.3zM920.5 817.5h5.3v5.3h-5.3z"/><path fill="#84ec67" d="M952.3 706.2h5.3v5.3h-5.3zM872.8 806.9h5.3v5.3h-5.3zM962.9 817.5h5.3v5.3h-5.3z"/><path fill="#2d72e0" d="M984.1 706.2h5.3v5.3h-5.3zM1021.2 769.8h5.3v5.3h-5.3zM846.3 828.1h5.3v5.3h-5.3z"/><path fill="#2c70e0" d="M989.4 706.2h5.3v5.3h-5.3zM830.4 806.9h5.3v5.3h-5.3zM894 854.6h5.3v5.3h-5.3z"/><path fill="#1851e0" d="M803.9 711.5h5.3v5.3h-5.3zM1015.9 769.8h5.3v5.3h-5.3z"/><path fill="#2a6de0" d="M809.2 711.5h5.3v5.3h-5.3z"/><path fill="#88ec61" d="M862.2 711.5h5.3v5.3h-5.3zM899.3 817.5h5.3v5.3h-5.3z"/><path fill="#9dec3b" d="M867.5 711.5h5.3v5.3h-5.3zM973.5 753.9h5.3v5.3h-5.3zM856.9 775.1h5.3v5.3h-5.3zM894 806.9h5.3v5.3h-5.3zM909.9 806.9h5.3v5.3h-5.3z"/><path fill="#a7ec31" d="M872.8 711.5h5.3v5.3h-5.3zM888.7 716.8h5.3v5.3h-5.3zM872.8 738h5.3v5.3h-5.3zM973.5 743.3h5.3v5.3h-5.3zM883.4 748.6h5.3v5.3h-5.3zM968.2 748.6h5.3v5.3h-5.3zM846.3 764.5h5.3v5.3h-5.3zM925.8 780.4h5.3v5.3h-5.3zM968.2 780.4h5.3v5.3h-5.3zM856.9 785.7h5.3v5.3h-5.3zM899.3 785.7h5.3v5.3h-5.3zM957.6 785.7h5.3v5.3h-5.3zM968.2 785.7h5.3v5.3h-5.3zM894 791h5.3v5.3h-5.3zM947 791h10.6v5.3h-10.6zM962.9 791h5.3v5.3h-5.3zM888.7 796.3h5.3v5.3h-5.3zM957.6 796.3h5.3v5.3h-5.3zM936.4 806.9h5.3v5.3h-5.3z"/><path fill="#93ec49" d="M878.1 711.5h5.3v5.3h-5.3z"/><path fill="#a3ec35" d="M883.4 711.5h15.9v5.3h-15.9zM888.7 722.1h5.3v5.3h-5.3zM968.2 743.3h5.3v5.3h-5.3zM968.2 769.8h5.3v5.3h-5.3zM899.3 796.3h5.3v5.3h-5.3zM952.3 796.3h5.3v5.3h-5.3zM915.2 801.6h5.3v5.3h-5.3zM941.7 801.6h5.3v5.3h-5.3z"/><path fill="#a2ec36" d="M899.3 711.5h5.3v5.3h-5.3zM925.8 716.8h5.3v5.3h-5.3zM856.9 722.1h5.3v5.3h-5.3zM931.1 722.1h5.3v5.3h-5.3zM947 722.1h5.3v5.3h-5.3zM851.6 743.3h5.3v5.3h-5.3zM962.9 785.7h5.3v5.3h-5.3zM952.3 801.6h5.3v5.3h-5.3zM931.1 806.9h5.3v5.3h-5.3z"/><path fill="#98ec40" d="M904.6 711.5h5.3v5.3h-5.3zM957.6 722.1h5.3v5.3h-5.3zM878.1 738h5.3v5.3h-5.3zM962.9 743.3h5.3v5.3h-5.3zM872.8 796.3h5.3v5.3h-5.3zM883.4 801.6h5.3v5.3h-5.3zM915.2 812.2h5.3v5.3h-5.3z"/><path fill="#d0d020" d="M909.9 711.5h5.3v5.3h-5.3z"/><path fill="#c8c820" d="M915.2 711.5h5.3v5.3h-5.3z"/><path fill="#b0d028" d="M920.5 711.5h5.3v5.3h-5.3z"/><path fill="#b8c828" d="M925.8 711.5h5.3v5.3h-5.3z"/><path fill="#aced30" d="M931.1 711.5h5.3v5.3h-5.3zM915.2 727.4h5.3v5.3h-5.3zM947 727.4h5.3v5.3h-5.3zM947 748.6h5.3v5.3h-5.3zM947 764.5h5.3v5.3h-5.3zM872.8 785.7h5.3v5.3h-5.3z"/><path fill="#8cec58" d="M941.7 711.5h5.3v5.3h-5.3zM984.1 764.5h5.3v5.3h-5.3zM947 812.2h5.3v5.3h-5.3z"/><path fill="#80ec7c" d="M962.9 711.5h5.3v5.3h-5.3zM989.4 743.3h5.3v5.3h-5.3z"/><path fill="#419ae0" d="M984.1 711.5h5.3v5.3h-5.3z"/><path fill="#3888e0" d="M989.4 711.5h5.3v5.3h-5.3zM809.2 764.5h5.3v5.3h-5.3z"/><path fill="#e3e6eb" d="M735 716.8h5.3v5.3h-5.3zM1090.1 759.2h5.3v5.3h-5.3zM1100.7 801.6h5.3v5.3h-5.3zM856.9 923.5h5.3v5.3h-5.3zM1053 955.3h5.3v5.3h-5.3z"/><path fill="#ebedf1" d="M735 711.5h5.3v5.3h-5.3zM1090.1 764.5h5.3v5.3h-5.3zM1100.7 806.9h5.3v5.3h-5.3zM851.6 923.5h5.3v5.3h-5.3z"/><path fill="#6be3cd" d="M814.5 716.8h5.3v5.3h-5.3zM814.5 738h5.3v5.3h-5.3zM1010.6 769.8h5.3v5.3h-5.3zM1010.6 785.7h5.3v5.3h-5.3zM835.7 806.9h5.3v5.3h-5.3zM846.3 817.5h5.3v5.3h-5.3zM994.7 822.8h5.3v5.3h-5.3zM872.8 838.7h5.3v5.3h-5.3zM936.4 849.3h5.3v5.3h-5.3z"/><path fill="#79ec9e" d="M830.4 716.8h5.3v5.3h-5.3zM819.8 753.9h5.3v5.3h-5.3zM825.1 775.1h5.3v5.3h-5.3zM883.4 822.8h5.3v5.3h-5.3zM947 833.4h5.3v5.3h-5.3zM904.6 838.7h5.3v5.3h-5.3z"/><path fill="#81ec6e" d="M841 716.8h5.3v5.3h-5.3zM835.7 732.7h5.3v5.3h-5.3zM841 775.1h5.3v5.3h-5.3zM899.3 822.8h5.3v5.3h-5.3zM931.1 822.8h5.3v5.3h-5.3zM899.3 828.1h5.3v5.3h-5.3z"/><path fill="#85ec66" d="M851.6 716.8h5.3v5.3h-5.3zM835.7 743.3h5.3v5.3h-5.3zM856.9 796.3h5.3v5.3h-5.3zM878.1 812.2h5.3v5.3h-5.3zM968.2 812.2h5.3v5.3h-5.3z"/><path fill="#91ec4e" d="M862.2 716.8h5.3v5.3h-5.3zM962.9 732.7h5.3v5.3h-5.3z"/><path fill="#a4ec34" d="M867.5 716.8h10.6v5.3h-10.6zM936.4 722.1h5.3v5.3h-5.3zM952.3 722.1h5.3v5.3h-5.3zM856.9 727.4h5.3v5.3h-5.3zM856.9 769.8h5.3v5.3h-5.3zM872.8 775.1h5.3v5.3h-5.3zM878.1 796.3h5.3v5.3h-5.3zM962.9 796.3h5.3v5.3h-5.3z"/><path fill="#a6ec32" d="M878.1 716.8h5.3v5.3h-5.3zM936.4 716.8h5.3v5.3h-5.3zM872.8 722.1h5.3v5.3h-5.3zM862.2 727.4h5.3v5.3h-5.3zM856.9 743.3h5.3v5.3h-5.3zM968.2 753.9h5.3v5.3h-5.3zM973.5 759.2h5.3v5.3h-5.3zM962.9 764.5h5.3v5.3h-5.3zM851.6 775.1h5.3v5.3h-5.3zM862.2 775.1h5.3v5.3h-5.3zM862.2 780.4h5.3v5.3h-5.3zM888.7 785.7h5.3v5.3h-5.3zM957.6 791h5.3v5.3h-5.3zM909.9 796.3h10.6v5.3h-10.6zM941.7 806.9h5.3v5.3h-5.3z"/><path fill="#a0ec38" d="M883.4 716.8h5.3v5.3h-5.3zM962.9 759.2h5.3v5.3h-5.3zM851.6 769.8h5.3v5.3h-5.3zM962.9 775.1h5.3v5.3h-5.3zM962.9 780.4h5.3v5.3h-5.3z"/><path fill="#2f6a14" d="M894 716.8h5.3v5.3h-5.3z"/><path fill="#62e030" d="M899.3 716.8h5.3v5.3h-5.3z"/><path fill="#b4ee30" d="M904.6 716.8h5.3v5.3h-5.3zM894 738h5.3v5.3h-5.3zM899.3 748.6h5.3v5.3h-5.3zM894 753.9h5.3v5.3h-5.3zM931.1 753.9h5.3v5.3h-5.3zM872.8 759.2h5.3v5.3h-5.3zM888.7 764.5h5.3v5.3h-5.3zM894 769.8h5.3v5.3h-5.3zM915.2 780.4h5.3v5.3h-5.3zM867.5 785.7h5.3v5.3h-5.3zM936.4 791h5.3v5.3h-5.3z"/><path fill="#d8d020" d="M909.9 716.8h5.3v5.3h-5.3z"/><path fill="#c8c018" d="M915.2 716.8h5.3v5.3h-5.3z"/><path fill="#a8ec30" d="M920.5 716.8h5.3v5.3h-5.3zM888.7 732.7h5.3v5.3h-5.3zM957.6 732.7h5.3v5.3h-5.3zM952.3 743.3h5.3v5.3h-5.3zM856.9 748.6h5.3v5.3h-5.3zM915.2 748.6h5.3v5.3h-5.3zM856.9 759.2h10.6v5.3h-10.6zM973.5 775.1h5.3v5.3h-5.3zM952.3 785.7h5.3v5.3h-5.3zM867.5 791h5.3v5.3h-5.3zM878.1 791h5.3v5.3h-5.3zM925.8 791h5.3v5.3h-5.3z"/><path fill="#bbef30" d="M931.1 716.8h5.3v5.3h-5.3zM931.1 743.3h5.3v5.3h-5.3zM947 759.2h5.3v5.3h-5.3zM952.3 764.5h10.6v5.3h-10.6zM941.7 780.4h5.3v5.3h-5.3zM931.1 785.7h5.3v5.3h-5.3z"/><path fill="#91ec4f" d="M941.7 716.8h5.3v5.3h-5.3z"/><path fill="#99ec3f" d="M947 716.8h5.3v5.3h-5.3zM883.4 753.9h5.3v5.3h-5.3zM920.5 759.2h5.3v5.3h-5.3zM962.9 801.6h5.3v5.3h-5.3z"/><path fill="#8aec5b" d="M952.3 716.8h5.3v5.3h-5.3zM846.3 722.1h5.3v5.3h-5.3zM978.8 791h5.3v5.3h-5.3z"/><path fill="#80ec88" d="M962.9 716.8h5.3v5.3h-5.3zM830.4 727.4h5.3v5.3h-5.3zM825.1 732.7h5.3v5.3h-5.3zM835.7 780.4h5.3v5.3h-5.3zM909.9 828.1h5.3v5.3h-5.3zM968.2 828.1h5.3v5.3h-5.3z"/><path fill="#80ec78" d="M968.2 716.8h5.3v5.3h-5.3zM989.4 759.2h5.3v5.3h-5.3zM994.7 769.8h5.3v5.3h-5.3zM846.3 791h5.3v5.3h-5.3zM883.4 828.1h5.3v5.3h-5.3z"/><path fill="#3a8be0" d="M809.2 722.1h5.3v5.3h-5.3zM809.2 748.6h5.3v5.3h-5.3zM867.5 838.7h5.3v5.3h-5.3z"/><path fill="#7aec99" d="M819.8 722.1h5.3v5.3h-5.3zM841 796.3h5.3v5.3h-5.3z"/><path fill="#92ec4c" d="M851.6 722.1h5.3v5.3h-5.3zM978.8 748.6h5.3v5.3h-5.3zM984.1 769.8h5.3v5.3h-5.3z"/><path fill="#aaec30" d="M862.2 722.1h5.3v5.3h-5.3zM920.5 722.1h5.3v5.3h-5.3zM872.8 727.4h5.3v5.3h-5.3zM883.4 727.4h5.3v5.3h-5.3zM952.3 732.7h5.3v5.3h-5.3zM867.5 743.3h5.3v5.3h-5.3zM851.6 753.9h5.3v5.3h-5.3zM872.8 769.8h10.6v5.3h-10.6zM920.5 806.9h5.3v5.3h-5.3z"/><path fill="#b0ed30" d="M867.5 722.1h5.3v5.3h-5.3zM862.2 738h5.3v5.3h-5.3zM920.5 743.3h5.3v5.3h-5.3zM920.5 764.5h5.3v5.3h-5.3zM904.6 769.8h5.3v5.3h-5.3zM952.3 775.1h5.3v5.3h-5.3zM952.3 780.4h5.3v5.3h-5.3zM909.9 785.7h5.3v5.3h-5.3z"/><path fill="#a5ec33" d="M878.1 722.1h5.3v5.3h-5.3zM925.8 722.1h5.3v5.3h-5.3zM941.7 727.4h5.3v5.3h-5.3zM872.8 732.7h5.3v5.3h-5.3zM973.5 748.6h5.3v5.3h-5.3zM968.2 764.5h5.3v5.3h-5.3zM978.8 764.5h5.3v5.3h-5.3zM957.6 775.1h5.3v5.3h-5.3zM957.6 780.4h5.3v5.3h-5.3zM883.4 796.3h5.3v5.3h-5.3zM947 796.3h5.3v5.3h-5.3zM904.6 801.6h5.3v5.3h-5.3zM904.6 806.9h5.3v5.3h-5.3zM925.8 806.9h5.3v5.3h-5.3z"/><path fill="#aeed30" d="M883.4 722.1h5.3v5.3h-5.3zM915.2 722.1h5.3v5.3h-5.3zM888.7 743.3h5.3v5.3h-5.3zM936.4 743.3h5.3v5.3h-5.3zM856.9 753.9h5.3v5.3h-5.3zM968.2 759.2h5.3v5.3h-5.3zM862.2 769.8h5.3v5.3h-5.3zM947 769.8h5.3v5.3h-5.3zM962.9 769.8h5.3v5.3h-5.3zM947 775.1h5.3v5.3h-5.3zM920.5 780.4h5.3v5.3h-5.3zM941.7 791h5.3v5.3h-5.3zM920.5 796.3h5.3v5.3h-5.3zM920.5 801.6h5.3v5.3h-5.3z"/><path fill="#2a2410" d="M894 722.1h5.3v5.3h-5.3z"/><path fill="#5a6a10" d="M899.3 722.1h5.3v5.3h-5.3z"/><path fill="#aded30" d="M904.6 722.1h5.3v5.3h-5.3zM941.7 722.1h5.3v5.3h-5.3zM856.9 738h5.3v5.3h-5.3zM957.6 738h5.3v5.3h-5.3zM941.7 743.3h5.3v5.3h-5.3zM878.1 748.6h5.3v5.3h-5.3zM941.7 759.2h5.3v5.3h-5.3zM957.6 769.8h5.3v5.3h-5.3zM973.5 769.8h5.3v5.3h-5.3zM941.7 775.1h5.3v5.3h-5.3zM968.2 775.1h5.3v5.3h-5.3zM947 780.4h5.3v5.3h-5.3zM925.8 785.7h5.3v5.3h-5.3zM925.8 796.3h5.3v5.3h-5.3zM894 801.6h5.3v5.3h-5.3zM936.4 801.6h5.3v5.3h-5.3z"/><path fill="#a9ec30" d="M909.9 722.1h5.3v5.3h-5.3zM936.4 727.4h5.3v5.3h-5.3zM851.6 732.7h5.3v5.3h-5.3zM862.2 732.7h5.3v5.3h-5.3zM936.4 738h5.3v5.3h-5.3zM872.8 780.4h5.3v5.3h-5.3zM909.9 791h5.3v5.3h-5.3zM904.6 796.3h5.3v5.3h-5.3zM909.9 801.6h5.3v5.3h-5.3zM931.1 801.6h5.3v5.3h-5.3z"/><path fill="#78ecab" d="M984.1 722.1h5.3v5.3h-5.3zM1005.3 775.1h5.3v5.3h-5.3zM841 806.9h5.3v5.3h-5.3zM856.9 817.5h5.3v5.3h-5.3zM862.2 822.8h5.3v5.3h-5.3zM989.4 822.8h5.3v5.3h-5.3zM878.1 838.7h5.3v5.3h-5.3zM957.6 844h5.3v5.3h-5.3z"/><path fill="#77ebbb" d="M989.4 722.1h5.3v5.3h-5.3zM973.5 844h5.3v5.3h-5.3z"/><path fill="#5bcdd6" d="M994.7 722.1h5.3v5.3h-5.3zM1005.3 806.9h5.3v5.3h-5.3z"/><path fill="#2969e0" d="M1000 722.1h5.3v5.3h-5.3z"/><path fill="#87ec61" d="M841 727.4h5.3v5.3h-5.3zM952.3 812.2h5.3v5.3h-5.3zM904.6 822.8h5.3v5.3h-5.3zM925.8 822.8h5.3v5.3h-5.3z"/><path fill="#90ec50" d="M846.3 727.4h5.3v5.3h-5.3zM957.6 743.3h5.3v5.3h-5.3zM899.3 812.2h5.3v5.3h-5.3zM936.4 812.2h5.3v5.3h-5.3z"/><path fill="#93ec4a" d="M851.6 727.4h5.3v5.3h-5.3z"/><path fill="#abec30" d="M867.5 727.4h5.3v5.3h-5.3zM867.5 732.7h5.3v5.3h-5.3zM931.1 732.7h5.3v5.3h-5.3zM909.9 748.6h5.3v5.3h-5.3zM846.3 759.2h5.3v5.3h-5.3zM888.7 769.8h5.3v5.3h-5.3zM888.7 791h5.3v5.3h-5.3zM915.2 791h5.3v5.3h-5.3zM888.7 801.6h5.3v5.3h-5.3z"/><path fill="#d0f040" d="M878.1 727.4h5.3v5.3h-5.3z"/><path fill="#b8a828" d="M888.7 727.4h5.3v5.3h-5.3z"/><path fill="#c8c038" d="M894 727.4h5.3v5.3h-5.3z"/><path fill="#8cb820" d="M899.3 727.4h5.3v5.3h-5.3z"/><path fill="#80a814" d="M904.6 727.4h5.3v5.3h-5.3z"/><path fill="#b9ef30" d="M909.9 727.4h5.3v5.3h-5.3zM941.7 753.9h5.3v5.3h-5.3zM862.2 764.5h5.3v5.3h-5.3zM920.5 775.1h5.3v5.3h-5.3zM894 780.4h5.3v5.3h-5.3z"/><path fill="#9a7808" d="M920.5 727.4h5.3v5.3h-5.3z"/><path fill="#d0b828" d="M925.8 727.4h5.3v5.3h-5.3z"/><path fill="#b2ee30" d="M931.1 727.4h5.3v5.3h-5.3zM941.7 732.7h5.3v5.3h-5.3zM867.5 738h5.3v5.3h-5.3zM904.6 748.6h5.3v5.3h-5.3zM962.9 748.6h5.3v5.3h-5.3zM909.9 753.9h5.3v5.3h-5.3zM883.4 759.2h10.6v5.3h-10.6zM872.8 764.5h5.3v5.3h-5.3zM915.2 769.8h5.3v5.3h-5.3zM878.1 775.1h5.3v5.3h-5.3zM867.5 780.4h5.3v5.3h-5.3zM936.4 780.4h5.3v5.3h-5.3zM894 785.7h5.3v5.3h-5.3zM931.1 796.3h5.3v5.3h-5.3z"/><path fill="#94ec49" d="M952.3 727.4h5.3v5.3h-5.3zM872.8 801.6h5.3v5.3h-5.3z"/><path fill="#9aec3e" d="M957.6 727.4h5.3v5.3h-5.3zM841 738h5.3v5.3h-5.3zM846.3 748.6h5.3v5.3h-5.3zM973.5 785.7h5.3v5.3h-5.3zM968.2 791h5.3v5.3h-5.3z"/><path fill="#4fb5dd" d="M1000 727.4h5.3v5.3h-5.3z"/><path fill="#2665e0" d="M1005.3 727.4h5.3v5.3h-5.3zM1015.9 753.9h5.3v5.3h-5.3zM862.2 844h5.3v5.3h-5.3z"/><path fill="#215ee0" d="M809.2 732.7h5.3v5.3h-5.3zM1005.3 822.8h5.3v5.3h-5.3zM1010.6 838.7h5.3v5.3h-5.3zM952.3 865.2h5.3v5.3h-5.3z"/><path fill="#80ec6f" d="M830.4 732.7h5.3v5.3h-5.3z"/><path fill="#97ec43" d="M846.3 732.7h5.3v5.3h-5.3z"/><path fill="#bdf030" d="M856.9 732.7h5.3v5.3h-5.3z"/><path fill="#c8f038" d="M878.1 732.7h5.3v5.3h-5.3z"/><path fill="#b6ee30" d="M883.4 732.7h5.3v5.3h-5.3zM952.3 738h5.3v5.3h-5.3zM899.3 743.3h5.3v5.3h-5.3zM867.5 753.9h5.3v5.3h-5.3zM947 753.9h5.3v5.3h-5.3zM925.8 759.2h5.3v5.3h-5.3zM894 775.1h5.3v5.3h-5.3zM973.5 780.4h5.3v5.3h-5.3z"/><path fill="#b8ef30" d="M894 732.7h5.3v5.3h-5.3zM909.9 743.3h5.3v5.3h-5.3zM862.2 748.6h5.3v5.3h-5.3zM925.8 748.6h5.3v5.3h-5.3zM957.6 748.6h5.3v5.3h-5.3zM920.5 753.9h5.3v5.3h-5.3zM894 764.5h5.3v5.3h-5.3zM925.8 764.5h5.3v5.3h-5.3z"/><path fill="#e0b828" d="M899.3 732.7h5.3v5.3h-5.3z"/><path fill="#c8a010" d="M904.6 732.7h5.3v5.3h-5.3zM883.4 775.1h5.3v5.3h-5.3z"/><path fill="#e0c030" d="M909.9 732.7h5.3v5.3h-5.3z"/><path fill="#c8b018" d="M915.2 732.7h5.3v5.3h-5.3z"/><path fill="#c87808" d="M920.5 732.7h5.3v5.3h-5.3z"/><path fill="#f0a028" d="M925.8 732.7h5.3v5.3h-5.3z"/><path fill="#d4f330" d="M936.4 732.7h5.3v5.3h-5.3z"/><path fill="#95ec47" d="M947 732.7h5.3v5.3h-5.3zM909.9 780.4h5.3v5.3h-5.3z"/><path fill="#9fec39" d="M968.2 732.7h5.3v5.3h-5.3zM846.3 738h10.6v5.3h-10.6zM978.8 743.3h5.3v5.3h-5.3zM862.2 785.7h5.3v5.3h-5.3zM947 801.6h5.3v5.3h-5.3zM915.2 806.9h5.3v5.3h-5.3z"/><path fill="#72e9c3" d="M994.7 732.7h5.3v5.3h-5.3z"/><path fill="#3f96e0" d="M1005.3 732.7h5.3v5.3h-5.3z"/><path fill="#44a0e0" d="M809.2 738h5.3v5.3h-5.3zM899.3 849.3h5.3v5.3h-5.3z"/><path fill="#8dec56" d="M835.7 738h5.3v5.3h-5.3zM883.4 806.9h5.3v5.3h-5.3z"/><path fill="#bdef30" d="M883.4 738h5.3v5.3h-5.3zM920.5 748.6h5.3v5.3h-5.3z"/><path fill="#bff030" d="M888.7 738h5.3v5.3h-5.3zM941.7 748.6h5.3v5.3h-5.3zM915.2 753.9h5.3v5.3h-5.3zM904.6 764.5h5.3v5.3h-5.3zM931.1 780.4h5.3v5.3h-5.3z"/><path fill="#f0c030" d="M899.3 738h5.3v5.3h-5.3z"/><path fill="#e8b820" d="M904.6 738h5.3v5.3h-5.3z"/><path fill="#f0e038" d="M909.9 738h5.3v5.3h-5.3z"/><path fill="#e8d030" d="M915.2 738h5.3v5.3h-5.3z"/><path fill="#e89820" d="M920.5 738h5.3v5.3h-5.3z"/><path fill="#f8a830" d="M925.8 738h5.3v5.3h-5.3z"/><path fill="#b3ee30" d="M931.1 738h5.3v5.3h-5.3zM941.7 738h5.3v5.3h-5.3zM925.8 743.3h5.3v5.3h-5.3zM851.6 748.6h5.3v5.3h-5.3zM904.6 753.9h5.3v5.3h-5.3zM878.1 759.2h5.3v5.3h-5.3zM846.3 769.8h5.3v5.3h-5.3zM941.7 769.8h5.3v5.3h-5.3zM925.8 775.1h5.3v5.3h-5.3zM904.6 785.7h5.3v5.3h-5.3zM931.1 791h5.3v5.3h-5.3z"/><path fill="#abed30" d="M947 738h5.3v5.3h-5.3zM878.1 743.3h10.6v5.3h-10.6zM915.2 743.3h5.3v5.3h-5.3zM936.4 748.6h5.3v5.3h-5.3zM867.5 759.2h5.3v5.3h-5.3zM883.4 791h5.3v5.3h-5.3z"/><path fill="#80c010" d="M962.9 738h5.3v5.3h-5.3z"/><path fill="#92ec4d" d="M973.5 738h5.3v5.3h-5.3z"/><path fill="#7eec8f" d="M984.1 738h5.3v5.3h-5.3zM830.4 780.4h5.3v5.3h-5.3zM878.1 822.8h5.3v5.3h-5.3zM904.6 833.4h5.3v5.3h-5.3z"/><path fill="#78eca4" d="M994.7 738h5.3v5.3h-5.3zM841 801.6h5.3v5.3h-5.3zM962.9 833.4h5.3v5.3h-5.3zM957.6 838.7h5.3v5.3h-5.3z"/><path fill="#2869e0" d="M803.9 743.3h5.3v5.3h-5.3zM915.2 859.9h5.3v5.3h-5.3z"/><path fill="#78ecac" d="M814.5 743.3h5.3v5.3h-5.3z"/><path fill="#8fec52" d="M841 743.3h10.6v5.3h-10.6zM968.2 796.3h5.3v5.3h-5.3zM925.8 812.2h5.3v5.3h-5.3z"/><path fill="#9bec3d" d="M862.2 743.3h5.3v5.3h-5.3zM872.8 748.6h5.3v5.3h-5.3zM978.8 775.1h5.3v5.3h-5.3z"/><path fill="#b5ee30" d="M872.8 743.3h5.3v5.3h-5.3zM888.7 748.6h5.3v5.3h-5.3zM962.9 753.9h5.3v5.3h-5.3zM904.6 759.2h5.3v5.3h-5.3zM931.1 759.2h5.3v5.3h-5.3zM883.4 769.8h5.3v5.3h-5.3zM931.1 775.1h5.3v5.3h-5.3z"/><path fill="#b0d018" d="M894 743.3h5.3v5.3h-5.3z"/><path fill="#baef30" d="M904.6 743.3h5.3v5.3h-5.3zM936.4 753.9h5.3v5.3h-5.3zM941.7 764.5h5.3v5.3h-5.3zM909.9 769.8h5.3v5.3h-5.3zM915.2 775.1h5.3v5.3h-5.3zM936.4 775.1h5.3v5.3h-5.3zM973.5 796.3h5.3v5.3h-5.3z"/><path fill="#9eec3a" d="M841 748.6h5.3v5.3h-5.3zM835.7 759.2h10.6v5.3h-10.6zM973.5 791h5.3v5.3h-5.3zM925.8 801.6h5.3v5.3h-5.3zM952.3 806.9h5.3v5.3h-5.3zM920.5 812.2h5.3v5.3h-5.3z"/><path fill="#b7ee30" d="M867.5 748.6h5.3v5.3h-5.3zM894 759.2h5.3v5.3h-5.3zM899.3 764.5h5.3v5.3h-5.3z"/><path fill="#a0b810" d="M894 748.6h5.3v5.3h-5.3z"/><path fill="#d5f330" d="M931.1 748.6h5.3v5.3h-5.3z"/><path fill="#b1ed30" d="M952.3 748.6h5.3v5.3h-5.3zM862.2 753.9h5.3v5.3h-5.3zM878.1 753.9h5.3v5.3h-5.3zM867.5 764.5h5.3v5.3h-5.3zM931.1 769.8h5.3v5.3h-5.3zM941.7 785.7h5.3v5.3h-5.3zM941.7 796.3h5.3v5.3h-5.3z"/><path fill="#85ec67" d="M984.1 748.6h10.6v5.3h-10.6z"/><path fill="#54c1da" d="M1005.3 748.6h5.3v5.3h-5.3z"/><path fill="#e1e7e7" d="M1079.5 748.6h5.3v5.3h-5.3zM1100.7 753.9h5.3v5.3h-5.3zM1106 764.5h5.3v5.3h-5.3zM1084.8 780.4h5.3v5.3h-5.3zM1090.1 833.4h5.3v5.3h-5.3zM782.7 844h5.3v5.3h-5.3zM1058.3 902.3h5.3v5.3h-5.3z"/><path fill="#eaeeee" d="M1079.5 743.3h5.3v5.3h-5.3zM1100.7 759.2h5.3v5.3h-5.3zM1106 769.8h5.3v5.3h-5.3zM1095.4 833.4h5.3v5.3h-5.3zM788 844h5.3v5.3h-5.3zM1074.2 897h5.3v5.3h-5.3zM1053 902.3h5.3v5.3h-5.3z"/><path fill="#2664e0" d="M803.9 753.9h5.3v5.3h-5.3z"/><path fill="#8eec54" d="M835.7 753.9h5.3v5.3h-5.3zM862.2 791h5.3v5.3h-5.3zM899.3 806.9h5.3v5.3h-5.3zM909.9 812.2h5.3v5.3h-5.3zM962.9 812.2h5.3v5.3h-5.3z"/><path fill="#a1ec37" d="M846.3 753.9h5.3v5.3h-5.3zM973.5 764.5h5.3v5.3h-5.3zM978.8 769.8h5.3v5.3h-5.3zM856.9 780.4h5.3v5.3h-5.3zM872.8 791h5.3v5.3h-5.3zM899.3 801.6h5.3v5.3h-5.3z"/><path fill="#cbf230" d="M872.8 753.9h5.3v5.3h-5.3z"/><path fill="#bcef30" d="M888.7 753.9h5.3v5.3h-5.3zM936.4 759.2h5.3v5.3h-5.3zM899.3 769.8h5.3v5.3h-5.3zM925.8 769.8h5.3v5.3h-5.3z"/><path fill="#c0f030" d="M899.3 753.9h5.3v5.3h-5.3zM856.9 764.5h5.3v5.3h-5.3zM867.5 769.8h5.3v5.3h-5.3z"/><path fill="#e7f830" d="M925.8 753.9h5.3v5.3h-5.3z"/><path fill="#d8e038" d="M952.3 753.9h5.3v5.3h-5.3z"/><path fill="#d8d838" d="M957.6 753.9h5.3v5.3h-5.3z"/><path fill="#9cec3c" d="M978.8 753.9h5.3v5.3h-5.3z"/><path fill="#98ec41" d="M984.1 753.9h5.3v5.3h-5.3z"/><path fill="#49aae0" d="M1010.6 753.9h5.3v5.3h-5.3z"/><path fill="#1f5be0" d="M1021.2 753.9h5.3v5.3h-5.3z"/><path fill="#4db3dd" d="M814.5 759.2h5.3v5.3h-5.3zM978.8 833.4h5.3v5.3h-5.3z"/><path fill="#afed30" d="M851.6 759.2h5.3v5.3h-5.3zM931.1 764.5h5.3v5.3h-5.3zM936.4 769.8h5.3v5.3h-5.3zM952.3 769.8h5.3v5.3h-5.3zM867.5 775.1h5.3v5.3h-5.3zM909.9 775.1h5.3v5.3h-5.3zM878.1 780.4h5.3v5.3h-5.3zM936.4 785.7h5.3v5.3h-5.3zM947 785.7h5.3v5.3h-5.3zM936.4 796.3h5.3v5.3h-5.3z"/><path fill="#bef030" d="M899.3 759.2h5.3v5.3h-5.3zM936.4 764.5h5.3v5.3h-5.3z"/><path fill="#c8d840" d="M909.9 759.2h5.3v5.3h-5.3z"/><path fill="#d0d038" d="M915.2 759.2h5.3v5.3h-5.3z"/><path fill="#d0d838" d="M952.3 759.2h5.3v5.3h-5.3z"/><path fill="#c8c028" d="M957.6 759.2h5.3v5.3h-5.3z"/><path fill="#caf230" d="M978.8 759.2h5.3v5.3h-5.3zM851.6 764.5h5.3v5.3h-5.3z"/><path fill="#82ec6b" d="M984.1 759.2h5.3v5.3h-5.3zM846.3 785.7h5.3v5.3h-5.3z"/><path fill="#2463e0" d="M1015.9 759.2h5.3v5.3h-5.3z"/><path fill="#b8c0cc" d="M1084.8 759.2h5.3v5.3h-5.3zM1095.4 801.6h5.3v5.3h-5.3zM1068.9 897h5.3v5.3h-5.3zM856.9 928.8h5.3v5.3h-5.3zM1058.3 955.3h5.3v5.3h-5.3z"/><path fill="#d1d6de" d="M1084.8 764.5h5.3v5.3h-5.3zM851.6 928.8h5.3v5.3h-5.3zM1058.3 950h5.3v5.3h-5.3z"/><path fill="#72e9c5" d="M814.5 764.5h5.3v5.3h-5.3z"/><path fill="#83ec69" d="M841 764.5h5.3v5.3h-5.3zM846.3 775.1h5.3v5.3h-5.3zM984.1 796.3h5.3v5.3h-5.3zM894 822.8h5.3v5.3h-5.3z"/><path fill="#b7ef30" d="M878.1 764.5h5.3v5.3h-5.3z"/><path fill="#d8f430" d="M883.4 764.5h5.3v5.3h-5.3z"/><path fill="#b8c028" d="M909.9 764.5h5.3v5.3h-5.3z"/><path fill="#a8a818" d="M915.2 764.5h5.3v5.3h-5.3z"/><path fill="#3c8fe0" d="M1015.9 764.5h5.3v5.3h-5.3z"/><path fill="#cdd2f7" d="M719.1 769.8h5.3v5.3h-5.3zM1116.6 780.4h5.3v5.3h-5.3zM989.4 902.3h5.3v5.3h-5.3z"/><path fill="#dcdffa" d="M719.1 775.1h5.3v5.3h-5.3zM1121.9 780.4h5.3v5.3h-5.3zM989.4 897h5.3v5.3h-5.3z"/><path fill="#54c0da" d="M814.5 769.8h5.3v5.3h-5.3zM952.3 854.6h5.3v5.3h-5.3z"/><path fill="#86ec63" d="M841 769.8h5.3v5.3h-5.3z"/><path fill="#b1ee30" d="M920.5 769.8h5.3v5.3h-5.3zM915.2 785.7h5.3v5.3h-5.3zM904.6 791h5.3v5.3h-5.3z"/><path fill="#95ec46" d="M989.4 769.8h5.3v5.3h-5.3z"/><path fill="#3785e0" d="M814.5 775.1h5.3v5.3h-5.3z"/><path fill="#80ec72" d="M835.7 775.1h5.3v5.3h-5.3zM989.4 791h5.3v5.3h-5.3zM862.2 801.6h5.3v5.3h-5.3zM973.5 801.6h5.3v5.3h-5.3zM920.5 822.8h5.3v5.3h-5.3z"/><path fill="#906010" d="M888.7 775.1h5.3v5.3h-5.3z"/><path fill="#e08818" d="M899.3 775.1h5.3v5.3h-5.3z"/><path fill="#a85010" d="M904.6 775.1h5.3v5.3h-5.3z"/><path fill="#73eac2" d="M1010.6 775.1h5.3v5.3h-5.3z"/><path fill="#c4cad6" d="M1095.4 775.1h5.3v5.3h-5.3zM766.8 806.9h5.3v5.3h-5.3zM793.3 859.9h5.3v5.3h-5.3zM883.4 897h5.3v5.3h-5.3z"/><path fill="#d9dde4" d="M1095.4 769.8h5.3v5.3h-5.3zM766.8 812.2h5.3v5.3h-5.3zM793.3 865.2h5.3v5.3h-5.3zM867.5 875.8h5.3v5.3h-5.3z"/><path fill="#e7eaef" d="M1090.1 775.1h5.3v5.3h-5.3zM798.6 859.9h5.3v5.3h-5.3zM883.4 902.3h5.3v5.3h-5.3z"/><path fill="#eef0f4" d="M1090.1 769.8h5.3v5.3h-5.3zM798.6 865.2h5.3v5.3h-5.3z"/><path fill="#4db2de" d="M819.8 780.4h5.3v5.3h-5.3z"/><path fill="#a0c018" d="M883.4 780.4h5.3v5.3h-5.3z"/><path fill="#b09010" d="M888.7 780.4h5.3v5.3h-5.3z"/><path fill="#d8a020" d="M899.3 780.4h5.3v5.3h-5.3z"/><path fill="#c07818" d="M904.6 780.4h5.3v5.3h-5.3z"/><path fill="#94ec47" d="M984.1 780.4h5.3v5.3h-5.3z"/><path fill="#4199e0" d="M1010.6 780.4h5.3v5.3h-5.3z"/><path fill="#2e73e0" d="M1015.9 780.4h5.3v5.3h-5.3z"/><path fill="#082dc5" d="M788 785.7h5.3v5.3h-5.3z"/><path fill="#3684e0" d="M814.5 785.7h5.3v5.3h-5.3zM888.7 854.6h5.3v5.3h-5.3z"/><path fill="#4eb5dd" d="M819.8 785.7h5.3v5.3h-5.3z"/><path fill="#8fec51" d="M851.6 785.7h5.3v5.3h-5.3zM978.8 785.7h5.3v5.3h-5.3z"/><path fill="#90ec51" d="M878.1 785.7h5.3v5.3h-5.3z"/><path fill="#d0f330" d="M920.5 785.7h5.3v5.3h-5.3zM899.3 791h5.3v5.3h-5.3z"/><path fill="#80ec73" d="M989.4 785.7h5.3v5.3h-5.3zM851.6 796.3h5.3v5.3h-5.3zM978.8 796.3h5.3v5.3h-5.3z"/><path fill="#dfe2fa" d="M1159 791h5.3v5.3h-5.3zM1084.8 801.6h5.3v5.3h-5.3zM931.1 902.3h5.3v5.3h-5.3zM952.3 902.3h5.3v5.3h-5.3zM973.5 944.7h5.3v5.3h-5.3zM1047.7 950h5.3v5.3h-5.3z"/><path fill="#1952e0" d="M819.8 791h5.3v5.3h-5.3zM904.6 859.9h5.3v5.3h-5.3zM936.4 859.9h5.3v5.3h-5.3zM899.3 865.2h5.3v5.3h-5.3z"/><path fill="#63d8d3" d="M825.1 791h5.3v5.3h-5.3zM1000 806.9h5.3v5.3h-5.3z"/><path fill="#8dec57" d="M856.9 791h5.3v5.3h-5.3z"/><path fill="#96ec45" d="M920.5 791h5.3v5.3h-5.3z"/><path fill="#1f5ae0" d="M1026.5 791h5.3v5.3h-5.3z"/><path fill="#0931c9" d="M798.6 796.3h5.3v5.3h-5.3zM1031.8 849.3h5.3v5.3h-5.3zM1015.9 870.5h5.3v5.3h-5.3z"/><path fill="#c9f130" d="M894 796.3h5.3v5.3h-5.3z"/><path fill="#49a9e0" d="M1005.3 796.3h5.3v5.3h-5.3z"/><path fill="#a0aaf1" d="M735 796.3h5.3v5.3h-5.3zM1148.4 796.3h5.3v5.3h-5.3zM1090.1 844h5.3v5.3h-5.3zM904.6 897h5.3v5.3h-5.3z"/><path fill="#97ec41" d="M878.1 801.6h5.3v5.3h-5.3zM968.2 801.6h5.3v5.3h-5.3z"/><path fill="#8fec53" d="M957.6 801.6h5.3v5.3h-5.3z"/><path fill="#a8a8ec" d="M549.5 446.5h10.6v5.3h-10.6zM814.5 494.2h10.6v5.3h-10.6zM507.1 504.8h10.6v5.3h-10.6zM809.2 504.8h10.6v5.3h-10.6zM639.6 600.2h10.6v5.3h-10.6zM1106 632h10.6v5.3h-10.6zM1079.5 653.2h10.6v5.3h-10.6zM676.7 663.8h10.6v5.3h-10.6zM1121.9 669.1h5.3v5.3h-5.3zM671.4 674.4h10.6v5.3h-10.6zM676.7 685h10.6v5.3h-10.6zM671.4 769.8h10.6v5.3h-10.6zM1143.1 775.1h10.6v5.3h-10.6zM1095.4 785.7h5.3v5.3h-5.3zM1095.4 796.3h10.6v5.3h-10.6zM1137.8 796.3h10.6v5.3h-10.6zM1095.4 806.9h5.3v5.3h-5.3zM697.9 812.2h10.6v5.3h-10.6zM1143.1 833.4h10.6v5.3h-10.6zM1222.6 886.4h10.6v5.3h-10.6zM814.5 897h10.6v5.3h-10.6zM1222.6 897h10.6v5.3h-10.6zM1143.1 1013.6h10.6v5.3h-10.6zM1143.1 1018.9h5.3v5.3h-5.3z"/><path fill="#90ec4f" d="M947 806.9h5.3v5.3h-5.3z"/><path fill="#8dec55" d="M957.6 806.9h5.3v5.3h-5.3z"/><path fill="#89ec5d" d="M962.9 806.9h5.3v5.3h-5.3zM904.6 812.2h5.3v5.3h-5.3z"/><path fill="#80ec7b" d="M973.5 806.9h5.3v5.3h-5.3zM883.4 817.5h5.3v5.3h-5.3zM936.4 838.7h5.3v5.3h-5.3z"/><path fill="#4098e0" d="M1010.6 806.9h5.3v5.3h-5.3zM894 849.3h5.3v5.3h-5.3z"/><path fill="#3179e0" d="M835.7 812.2h5.3v5.3h-5.3z"/><path fill="#8bec5b" d="M894 812.2h5.3v5.3h-5.3zM931.1 812.2h5.3v5.3h-5.3z"/><path fill="#7dec92" d="M984.1 812.2h5.3v5.3h-5.3z"/><path fill="#76ebbb" d="M1000 812.2h5.3v5.3h-5.3z"/><path fill="#3582e0" d="M1010.6 812.2h5.3v5.3h-5.3zM1005.3 817.5h5.3v5.3h-5.3z"/><path fill="#2b6ee0" d="M835.7 817.5h5.3v5.3h-5.3z"/><path fill="#73e9c2" d="M841 817.5h5.3v5.3h-5.3z"/><path fill="#80ec71" d="M894 817.5h5.3v5.3h-5.3z"/><path fill="#46a3e0" d="M846.3 822.8h5.3v5.3h-5.3z"/><path fill="#75ebbe" d="M856.9 822.8h5.3v5.3h-5.3z"/><path fill="#317be0" d="M1000 822.8h5.3v5.3h-5.3z"/><path fill="#1c55e0" d="M1010.6 822.8h5.3v5.3h-5.3z"/><path fill="#0830c8" d="M1047.7 822.8h5.3v5.3h-5.3zM819.8 844h5.3v5.3h-5.3z"/><path fill="#4cb0de" d="M851.6 828.1h5.3v5.3h-5.3z"/><path fill="#62d7d3" d="M856.9 828.1h5.3v5.3h-5.3z"/><path fill="#327ce0" d="M856.9 833.4h5.3v5.3h-5.3zM931.1 859.9h5.3v5.3h-5.3z"/><path fill="#439ee0" d="M862.2 833.4h5.3v5.3h-5.3z"/><path fill="#7bec97" d="M909.9 833.4h5.3v5.3h-5.3zM899.3 838.7h5.3v5.3h-5.3z"/><path fill="#7bec96" d="M952.3 833.4h5.3v5.3h-5.3z"/><path fill="#327be0" d="M989.4 833.4h5.3v5.3h-5.3z"/><path fill="#46a5e0" d="M862.2 838.7h5.3v5.3h-5.3z"/><path fill="#7cec94" d="M920.5 838.7h5.3v5.3h-5.3z"/><path fill="#55c2d9" d="M978.8 838.7h5.3v5.3h-5.3zM968.2 849.3h5.3v5.3h-5.3z"/><path fill="#3581e0" d="M994.7 838.7h5.3v5.3h-5.3z"/><path fill="#868cd4" d="M1212 589.6h5.3v5.3h-5.3zM1121.9 610.8h5.3v5.3h-5.3zM1169.6 616.1h5.3v5.3h-5.3zM629 632h5.3v5.3h-5.3zM708.5 663.8h5.3v5.3h-5.3zM1116.6 663.8h5.3v5.3h-5.3zM591.9 695.6h10.6v5.3h-10.6zM708.5 727.4h5.3v5.3h-5.3zM697.9 738h5.3v5.3h-5.3zM544.2 748.6h5.3v5.3h-5.3zM544.2 764.5h5.3v5.3h-5.3zM724.4 775.1h5.3v5.3h-5.3zM1169.6 822.8h5.3v5.3h-5.3zM1090.1 838.7h5.3v5.3h-5.3zM1106 838.7h5.3v5.3h-5.3zM1185.5 838.7h5.3v5.3h-5.3zM1143.1 849.3h5.3v5.3h-5.3zM1090.1 859.9h5.3v5.3h-5.3zM1206.7 859.9h5.3v5.3h-5.3zM1201.4 875.8h5.3v5.3h-5.3zM867.5 891.7h5.3v5.3h-5.3zM772.1 897h5.3v5.3h-5.3zM867.5 902.3h5.3v5.3h-5.3zM1121.9 902.3h5.3v5.3h-5.3zM1053 912.9h5.3v5.3h-5.3zM1121.9 912.9h5.3v5.3h-5.3zM936.4 918.2h5.3v5.3h-5.3zM989.4 918.2h5.3v5.3h-5.3zM750.9 923.5h5.3v5.3h-5.3zM777.4 923.5h5.3v5.3h-5.3zM973.5 934.1h5.3v5.3h-5.3zM735 950h5.3v5.3h-5.3zM1217.3 950h5.3v5.3h-5.3zM1190.8 1018.9h5.3v5.3h-5.3zM1074.2 1071.9h5.3v5.3h-5.3z"/><path fill="#c5cbf6" d="M1084.8 838.7h5.3v5.3h-5.3z"/><path fill="#48a7e0" d="M883.4 849.3h5.3v5.3h-5.3z"/><path fill="#67dfd0" d="M947 849.3h5.3v5.3h-5.3z"/><path fill="#4fb6dd" d="M952.3 849.3h5.3v5.3h-5.3z"/><path fill="#3787e0" d="M962.9 849.3h5.3v5.3h-5.3z"/><path fill="#337fe0" d="M973.5 849.3h5.3v5.3h-5.3z"/><path fill="#c0c3dc" d="M1074.2 844h5.3v5.3h-5.3z"/><path fill="#3c90e0" d="M899.3 854.6h5.3v5.3h-5.3z"/><path fill="#5ed1d5" d="M904.6 854.6h5.3v5.3h-5.3z"/><path fill="#3c91e0" d="M909.9 854.6h5.3v5.3h-5.3z"/><path fill="#56c5d9" d="M915.2 854.6h5.3v5.3h-5.3z"/><path fill="#56c4d9" d="M925.8 854.6h5.3v5.3h-5.3z"/><path fill="#47a6e0" d="M947 854.6h5.3v5.3h-5.3z"/><path fill="#47a7e0" d="M957.6 854.6h5.3v5.3h-5.3z"/><path fill="#58c8d8" d="M962.9 854.6h5.3v5.3h-5.3z"/><path fill="#3887e0" d="M920.5 859.9h5.3v5.3h-5.3z"/><path fill="#2a6be0" d="M952.3 859.9h5.3v5.3h-5.3z"/><path fill="#1951e0" d="M973.5 859.9h5.3v5.3h-5.3z"/><path fill="#c1c8cd" d="M607.8 398.8h5.3v5.3h-5.3zM570.7 414.7h5.3v5.3h-5.3zM565.4 425.3h5.3v5.3h-5.3zM607.8 430.6h5.3v5.3h-5.3zM517.7 441.2h5.3v5.3h-5.3zM697.9 467.7h5.3v5.3h-5.3zM952.3 467.7h5.3v5.3h-5.3zM576 478.3h5.3v5.3h-5.3zM591.9 478.3h5.3v5.3h-5.3zM772.1 483.6h5.3v5.3h-5.3zM719.1 488.9h5.3v5.3h-5.3zM528.3 494.2h5.3v5.3h-5.3zM745.6 504.8h5.3v5.3h-5.3zM655.5 515.4h5.3v5.3h-5.3zM984.1 526h5.3v5.3h-5.3zM491.2 531.3h5.3v5.3h-5.3zM724.4 531.3h5.3v5.3h-5.3zM554.8 536.6h5.3v5.3h-5.3zM740.3 536.6h5.3v5.3h-5.3zM888.7 536.6h5.3v5.3h-5.3zM1063.6 536.6h5.3v5.3h-5.3zM602.5 547.2h5.3v5.3h-5.3zM671.4 547.2h5.3v5.3h-5.3zM968.2 552.5h5.3v5.3h-5.3zM1159 552.5h5.3v5.3h-5.3zM639.6 568.4h5.3v5.3h-5.3zM1037.1 568.4h5.3v5.3h-5.3zM978.8 573.7h5.3v5.3h-5.3zM1074.2 573.7h5.3v5.3h-5.3zM1169.6 573.7h5.3v5.3h-5.3zM809.2 579h5.3v5.3h-5.3zM485.9 584.3h5.3v5.3h-5.3zM607.8 589.6h5.3v5.3h-5.3zM984.1 589.6h5.3v5.3h-5.3zM1074.2 589.6h5.3v5.3h-5.3zM692.6 594.9h5.3v5.3h-5.3zM1090.1 594.9h5.3v5.3h-5.3zM1206.7 600.2h5.3v5.3h-5.3zM1090.1 605.5h5.3v5.3h-5.3zM581.3 610.8h5.3v5.3h-5.3zM1159 616.1h5.3v5.3h-5.3zM591.9 621.4h5.3v5.3h-5.3zM713.8 621.4h5.3v5.3h-5.3zM644.9 626.7h5.3v5.3h-5.3zM660.8 626.7h5.3v5.3h-5.3zM1106 626.7h5.3v5.3h-5.3zM724.4 632h5.3v5.3h-5.3zM756.2 632h5.3v5.3h-5.3zM1227.9 637.3h5.3v5.3h-5.3zM697.9 642.6h5.3v5.3h-5.3zM618.4 653.2h5.3v5.3h-5.3zM501.8 658.5h5.3v5.3h-5.3zM1148.4 658.5h5.3v5.3h-5.3zM1169.6 658.5h5.3v5.3h-5.3zM634.3 663.8h5.3v5.3h-5.3zM507.1 674.4h5.3v5.3h-5.3zM687.3 674.4h5.3v5.3h-5.3zM719.1 674.4h5.3v5.3h-5.3zM629 679.7h5.3v5.3h-5.3zM1201.4 679.7h5.3v5.3h-5.3zM1153.7 685h5.3v5.3h-5.3zM1233.2 685h5.3v5.3h-5.3zM660.8 706.2h5.3v5.3h-5.3zM1206.7 711.5h5.3v5.3h-5.3zM1121.9 716.8h5.3v5.3h-5.3zM1270.3 716.8h5.3v5.3h-5.3zM697.9 727.4h5.3v5.3h-5.3zM1121.9 732.7h5.3v5.3h-5.3zM671.4 738h5.3v5.3h-5.3zM1206.7 743.3h5.3v5.3h-5.3zM1286.2 764.5h5.3v5.3h-5.3zM682 775.1h10.6v5.3h-10.6zM745.6 775.1h5.3v5.3h-5.3zM1249.1 775.1h5.3v5.3h-5.3zM692.6 785.7h5.3v5.3h-5.3zM1148.4 791h5.3v5.3h-5.3zM1238.5 806.9h5.3v5.3h-5.3zM639.6 812.2h5.3v5.3h-5.3zM1127.2 812.2h5.3v5.3h-5.3zM1222.6 817.5h5.3v5.3h-5.3zM1265 822.8h5.3v5.3h-5.3zM623.7 838.7h5.3v5.3h-5.3zM1127.2 838.7h5.3v5.3h-5.3zM1116.6 844h5.3v5.3h-5.3zM1333.9 844h5.3v5.3h-5.3zM756.2 849.3h5.3v5.3h-5.3zM1100.7 849.3h5.3v5.3h-5.3zM1185.5 854.6h5.3v5.3h-5.3zM597.2 859.9h5.3v5.3h-5.3zM788 870.5h5.3v5.3h-5.3zM703.2 875.8h5.3v5.3h-5.3zM1116.6 875.8h5.3v5.3h-5.3zM1132.5 875.8h5.3v5.3h-5.3zM676.7 881.1h5.3v5.3h-5.3zM618.4 886.4h5.3v5.3h-5.3zM793.3 886.4h5.3v5.3h-5.3zM1180.2 886.4h5.3v5.3h-5.3zM1206.7 897h5.3v5.3h-5.3zM745.6 907.6h5.3v5.3h-5.3zM1227.9 907.6h5.3v5.3h-5.3zM793.3 912.9h5.3v5.3h-5.3zM1031.8 912.9h5.3v5.3h-5.3zM1333.9 923.5h5.3v5.3h-5.3zM825.1 928.8h5.3v5.3h-5.3zM957.6 928.8h5.3v5.3h-5.3zM1323.3 928.8h5.3v5.3h-5.3zM655.5 934.1h5.3v5.3h-5.3zM676.7 934.1h5.3v5.3h-5.3zM936.4 939.4h5.3v5.3h-5.3zM936.4 950h5.3v5.3h-5.3zM973.5 950h5.3v5.3h-5.3zM777.4 955.3h5.3v5.3h-5.3zM1021.2 955.3h5.3v5.3h-5.3zM1148.4 955.3h5.3v5.3h-5.3zM809.2 960.6h5.3v5.3h-5.3zM883.4 960.6h5.3v5.3h-5.3zM1169.6 965.9h5.3v5.3h-5.3zM666.1 971.2h5.3v5.3h-5.3zM1227.9 971.2h5.3v5.3h-5.3zM1254.4 976.5h5.3v5.3h-5.3zM1111.3 981.8h5.3v5.3h-5.3zM1174.9 981.8h5.3v5.3h-5.3zM1121.9 987.1h5.3v5.3h-5.3zM1053 997.7h5.3v5.3h-5.3zM1333.9 997.7h5.3v5.3h-5.3zM1047.7 1003h5.3v5.3h-5.3zM1074.2 1003h5.3v5.3h-5.3zM1169.6 1003h5.3v5.3h-5.3zM1100.7 1013.6h5.3v5.3h-5.3zM1121.9 1018.9h5.3v5.3h-5.3zM1259.7 1018.9h5.3v5.3h-5.3zM1275.6 1018.9h5.3v5.3h-5.3zM1323.3 1018.9h5.3v5.3h-5.3zM1217.3 1029.5h5.3v5.3h-5.3zM1265 1029.5h5.3v5.3h-5.3zM1042.4 1040.1h5.3v5.3h-5.3zM1243.8 1045.4h5.3v5.3h-5.3zM1042.4 1050.7h5.3v5.3h-5.3zM1302.1 1061.3h5.3v5.3h-5.3zM1106 1066.6h5.3v5.3h-5.3zM1243.8 1071.9h5.3v5.3h-5.3zM1217.3 1087.8h5.3v5.3h-5.3z"/><path fill="#dadee1" d="M613.1 404.1h5.3v5.3h-5.3zM576 420h5.3v5.3h-5.3zM570.7 430.6h5.3v5.3h-5.3zM512.4 435.9h5.3v5.3h-5.3zM613.1 435.9h5.3v5.3h-5.3zM692.6 462.4h5.3v5.3h-5.3zM947 462.4h5.3v5.3h-5.3zM570.7 473h5.3v5.3h-5.3zM777.4 478.3h5.3v5.3h-5.3zM597.2 483.6h5.3v5.3h-5.3zM724.4 494.2h5.3v5.3h-5.3zM523 499.5h5.3v5.3h-5.3zM750.9 510.1h5.3v5.3h-5.3zM660.8 520.7h5.3v5.3h-5.3zM883.4 531.3h5.3v5.3h-5.3zM989.4 531.3h5.3v5.3h-5.3zM1068.9 531.3h5.3v5.3h-5.3zM485.9 536.6h5.3v5.3h-5.3zM729.7 536.6h5.3v5.3h-5.3zM549.5 541.9h5.3v5.3h-5.3zM591.9 541.9h5.3v5.3h-5.3zM666.1 541.9h5.3v5.3h-5.3zM745.6 541.9h5.3v5.3h-5.3zM973.5 557.8h5.3v5.3h-5.3zM1153.7 557.8h5.3v5.3h-5.3zM1031.8 563.1h5.3v5.3h-5.3zM1174.9 568.4h5.3v5.3h-5.3zM644.9 573.7h5.3v5.3h-5.3zM803.9 573.7h5.3v5.3h-5.3zM973.5 579h5.3v5.3h-5.3zM1079.5 579h5.3v5.3h-5.3zM613.1 584.3h5.3v5.3h-5.3zM1068.9 584.3h5.3v5.3h-5.3zM491.2 589.6h5.3v5.3h-5.3zM687.3 589.6h5.3v5.3h-5.3zM989.4 594.9h5.3v5.3h-5.3zM1201.4 594.9h5.3v5.3h-5.3zM1084.8 600.2h5.3v5.3h-5.3zM1164.3 610.8h5.3v5.3h-5.3zM586.6 616.1h5.3v5.3h-5.3zM708.5 616.1h5.3v5.3h-5.3zM1100.7 621.4h5.3v5.3h-5.3zM586.6 626.7h5.3v5.3h-5.3zM729.7 626.7h5.3v5.3h-5.3zM761.5 626.7h5.3v5.3h-5.3zM650.2 632h5.3v5.3h-5.3zM666.1 632h5.3v5.3h-5.3zM1222.6 642.6h5.3v5.3h-5.3zM692.6 647.9h5.3v5.3h-5.3zM1143.1 653.2h5.3v5.3h-5.3zM1174.9 653.2h5.3v5.3h-5.3zM613.1 658.5h5.3v5.3h-5.3zM496.5 663.8h5.3v5.3h-5.3zM639.6 669.1h5.3v5.3h-5.3zM692.6 669.1h5.3v5.3h-5.3zM724.4 669.1h5.3v5.3h-5.3zM634.3 674.4h5.3v5.3h-5.3zM1196.1 674.4h5.3v5.3h-5.3zM501.8 679.7h5.3v5.3h-5.3zM1148.4 679.7h5.3v5.3h-5.3zM1227.9 679.7h5.3v5.3h-5.3zM655.5 700.9h5.3v5.3h-5.3zM1116.6 711.5h5.3v5.3h-5.3zM1275.6 711.5h5.3v5.3h-5.3zM1212 716.8h5.3v5.3h-5.3zM1116.6 727.4h5.3v5.3h-5.3zM692.6 732.7h5.3v5.3h-5.3zM1212 738h5.3v5.3h-5.3zM676.7 743.3h5.3v5.3h-5.3zM692.6 769.8h5.3v5.3h-5.3zM1280.9 769.8h5.3v5.3h-5.3zM687.3 780.4h5.3v5.3h-5.3zM750.9 780.4h5.3v5.3h-5.3zM1254.4 780.4h5.3v5.3h-5.3zM687.3 791h5.3v5.3h-5.3zM1302.1 791h5.3v5.3h-5.3zM1153.7 796.3h5.3v5.3h-5.3zM1243.8 812.2h5.3v5.3h-5.3zM644.9 817.5h5.3v5.3h-5.3zM1227.9 822.8h5.3v5.3h-5.3zM1270.3 828.1h5.3v5.3h-5.3zM618.4 844h5.3v5.3h-5.3zM1121.9 844h5.3v5.3h-5.3zM1121.9 849.3h5.3v5.3h-5.3zM1339.2 849.3h5.3v5.3h-5.3zM602.5 854.6h5.3v5.3h-5.3zM750.9 854.6h5.3v5.3h-5.3zM1190.8 859.9h5.3v5.3h-5.3zM1217.3 859.9h5.3v5.3h-5.3zM708.5 870.5h5.3v5.3h-5.3zM1137.8 870.5h5.3v5.3h-5.3zM682 875.8h5.3v5.3h-5.3zM793.3 875.8h5.3v5.3h-5.3zM623.7 881.1h5.3v5.3h-5.3zM798.6 881.1h5.3v5.3h-5.3zM1121.9 881.1h5.3v5.3h-5.3zM1174.9 891.7h5.3v5.3h-5.3zM1201.4 902.3h5.3v5.3h-5.3zM788 907.6h5.3v5.3h-5.3zM1026.5 907.6h5.3v5.3h-5.3zM750.9 912.9h5.3v5.3h-5.3zM1222.6 912.9h5.3v5.3h-5.3zM904.6 918.2h5.3v5.3h-5.3zM1328.6 918.2h5.3v5.3h-5.3zM830.4 923.5h5.3v5.3h-5.3zM952.3 923.5h5.3v5.3h-5.3zM650.2 928.8h5.3v5.3h-5.3zM682 928.8h5.3v5.3h-5.3zM941.7 944.7h5.3v5.3h-5.3zM968.2 944.7h5.3v5.3h-5.3zM941.7 955.3h5.3v5.3h-5.3zM782.7 960.6h5.3v5.3h-5.3zM1026.5 960.6h5.3v5.3h-5.3zM1143.1 960.6h5.3v5.3h-5.3zM1174.9 960.6h5.3v5.3h-5.3zM1196.1 960.6h5.3v5.3h-5.3zM671.4 965.9h5.3v5.3h-5.3zM814.5 965.9h5.3v5.3h-5.3zM878.1 965.9h5.3v5.3h-5.3zM1206.7 965.9h5.3v5.3h-5.3zM1169.6 976.5h5.3v5.3h-5.3zM1233.2 976.5h5.3v5.3h-5.3zM1249.1 981.8h5.3v5.3h-5.3zM1106 987.1h5.3v5.3h-5.3zM1127.2 992.4h5.3v5.3h-5.3zM1339.2 992.4h5.3v5.3h-5.3zM1079.5 997.7h5.3v5.3h-5.3zM1174.9 997.7h5.3v5.3h-5.3zM1058.3 1003h5.3v5.3h-5.3zM1079.5 1008.3h5.3v5.3h-5.3zM1243.8 1008.3h5.3v5.3h-5.3zM1116.6 1013.6h5.3v5.3h-5.3zM1270.3 1013.6h5.3v5.3h-5.3zM1106 1018.9h5.3v5.3h-5.3zM1222.6 1024.2h5.3v5.3h-5.3zM1265 1024.2h5.3v5.3h-5.3zM1328.6 1024.2h5.3v5.3h-5.3zM1270.3 1034.8h5.3v5.3h-5.3zM1037.1 1045.4h5.3v5.3h-5.3zM1249.1 1050.7h5.3v5.3h-5.3zM1307.4 1056h5.3v5.3h-5.3zM1238.5 1066.6h5.3v5.3h-5.3zM1111.3 1071.9h5.3v5.3h-5.3zM1222.6 1082.5h5.3v5.3h-5.3z"/><path fill="#e4e7ea" d="M607.8 404.1h5.3v5.3h-5.3zM570.7 420h5.3v5.3h-5.3zM565.4 430.6h5.3v5.3h-5.3zM517.7 435.9h5.3v5.3h-5.3zM607.8 435.9h5.3v5.3h-5.3zM697.9 462.4h5.3v5.3h-5.3zM952.3 462.4h5.3v5.3h-5.3zM576 473h5.3v5.3h-5.3zM591.9 483.6h5.3v5.3h-5.3zM777.4 483.6h5.3v5.3h-5.3zM724.4 488.9h5.3v5.3h-5.3zM528.3 499.5h5.3v5.3h-5.3zM745.6 510.1h5.3v5.3h-5.3zM660.8 515.4h5.3v5.3h-5.3zM989.4 526h5.3v5.3h-5.3zM485.9 531.3h5.3v5.3h-5.3zM729.7 531.3h5.3v5.3h-5.3zM888.7 531.3h5.3v5.3h-5.3zM1068.9 536.6h5.3v5.3h-5.3zM554.8 541.9h5.3v5.3h-5.3zM597.2 541.9h10.6v5.3h-10.6zM671.4 541.9h5.3v5.3h-5.3zM740.3 541.9h5.3v5.3h-5.3zM1153.7 552.5h5.3v5.3h-5.3zM968.2 557.8h5.3v5.3h-5.3zM644.9 568.4h5.3v5.3h-5.3zM1031.8 568.4h5.3v5.3h-5.3zM1169.6 568.4h5.3v5.3h-5.3zM803.9 579h5.3v5.3h-5.3zM978.8 579h5.3v5.3h-5.3zM1074.2 579h5.3v5.3h-5.3zM491.2 584.3h5.3v5.3h-5.3zM607.8 584.3h5.3v5.3h-5.3zM1074.2 584.3h5.3v5.3h-5.3zM687.3 594.9h5.3v5.3h-5.3zM984.1 594.9h5.3v5.3h-5.3zM1084.8 594.9h5.3v5.3h-5.3zM1206.7 594.9h5.3v5.3h-5.3zM1084.8 605.5h5.3v5.3h-5.3zM1159 610.8h5.3v5.3h-5.3zM581.3 616.1h5.3v5.3h-5.3zM713.8 616.1h5.3v5.3h-5.3zM586.6 621.4h5.3v5.3h-5.3zM1106 621.4h5.3v5.3h-5.3zM644.9 632h5.3v5.3h-5.3zM660.8 632h5.3v5.3h-5.3zM729.7 632h5.3v5.3h-5.3zM761.5 632h5.3v5.3h-5.3zM1227.9 642.6h5.3v5.3h-5.3zM697.9 647.9h5.3v5.3h-5.3zM1148.4 653.2h5.3v5.3h-5.3zM496.5 658.5h5.3v5.3h-5.3zM618.4 658.5h5.3v5.3h-5.3zM1174.9 658.5h5.3v5.3h-5.3zM634.3 669.1h5.3v5.3h-5.3zM687.3 669.1h5.3v5.3h-5.3zM719.1 669.1h5.3v5.3h-5.3zM507.1 679.7h5.3v5.3h-5.3zM634.3 679.7h5.3v5.3h-5.3zM1153.7 679.7h5.3v5.3h-5.3zM1196.1 679.7h5.3v5.3h-5.3zM1233.2 679.7h5.3v5.3h-5.3zM660.8 700.9h5.3v5.3h-5.3zM1121.9 711.5h5.3v5.3h-5.3zM1206.7 716.8h5.3v5.3h-5.3zM1275.6 716.8h5.3v5.3h-5.3zM697.9 732.7h5.3v5.3h-5.3zM1116.6 732.7h5.3v5.3h-5.3zM1206.7 738h5.3v5.3h-5.3zM671.4 743.3h5.3v5.3h-5.3zM687.3 769.8h5.3v5.3h-5.3zM1286.2 769.8h5.3v5.3h-5.3zM750.9 775.1h5.3v5.3h-5.3zM1249.1 780.4h5.3v5.3h-5.3zM687.3 785.7h5.3v5.3h-5.3zM644.9 812.2h5.3v5.3h-5.3zM1238.5 812.2h5.3v5.3h-5.3zM1127.2 817.5h5.3v5.3h-5.3zM1222.6 822.8h5.3v5.3h-5.3zM1270.3 822.8h5.3v5.3h-5.3zM618.4 838.7h5.3v5.3h-5.3zM1127.2 844h5.3v5.3h-5.3zM1339.2 844h5.3v5.3h-5.3zM597.2 854.6h5.3v5.3h-5.3zM756.2 854.6h5.3v5.3h-5.3zM1217.3 854.6h5.3v5.3h-5.3zM676.7 875.8h5.3v5.3h-5.3zM708.5 875.8h5.3v5.3h-5.3zM788 875.8h5.3v5.3h-5.3zM1137.8 875.8h5.3v5.3h-5.3zM1116.6 881.1h5.3v5.3h-5.3zM623.7 886.4h5.3v5.3h-5.3zM798.6 886.4h5.3v5.3h-5.3zM1180.2 891.7h5.3v5.3h-5.3zM1206.7 902.3h5.3v5.3h-5.3zM793.3 907.6h5.3v5.3h-5.3zM1031.8 907.6h5.3v5.3h-5.3zM745.6 912.9h5.3v5.3h-5.3zM1227.9 912.9h5.3v5.3h-5.3zM899.3 918.2h5.3v5.3h-5.3zM1333.9 918.2h5.3v5.3h-5.3zM1323.3 923.5h5.3v5.3h-5.3zM830.4 928.8h5.3v5.3h-5.3zM952.3 928.8h5.3v5.3h-5.3zM650.2 934.1h5.3v5.3h-5.3zM682 934.1h5.3v5.3h-5.3zM936.4 944.7h5.3v5.3h-5.3zM782.7 955.3h5.3v5.3h-5.3zM936.4 955.3h5.3v5.3h-5.3zM1143.1 955.3h5.3v5.3h-5.3zM1021.2 960.6h5.3v5.3h-5.3zM809.2 965.9h5.3v5.3h-5.3zM883.4 965.9h5.3v5.3h-5.3zM1174.9 965.9h5.3v5.3h-5.3zM1196.1 965.9h10.6v5.3h-10.6zM671.4 971.2h5.3v5.3h-5.3zM1233.2 971.2h5.3v5.3h-5.3zM1174.9 976.5h5.3v5.3h-5.3zM1249.1 976.5h5.3v5.3h-5.3zM1111.3 987.1h5.3v5.3h-5.3zM1127.2 987.1h5.3v5.3h-5.3zM1047.7 997.7h5.3v5.3h-5.3zM1058.3 997.7h5.3v5.3h-5.3zM1074.2 997.7h5.3v5.3h-5.3zM1169.6 997.7h5.3v5.3h-5.3zM1339.2 997.7h5.3v5.3h-5.3zM1074.2 1008.3h5.3v5.3h-5.3zM1238.5 1008.3h5.3v5.3h-5.3zM1106 1013.6h5.3v5.3h-5.3zM1121.9 1013.6h5.3v5.3h-5.3zM1275.6 1013.6h5.3v5.3h-5.3zM1217.3 1024.2h5.3v5.3h-5.3zM1259.7 1024.2h5.3v5.3h-5.3zM1323.3 1024.2h5.3v5.3h-5.3zM1270.3 1029.5h5.3v5.3h-5.3zM1037.1 1040.1h5.3v5.3h-5.3zM1037.1 1050.7h5.3v5.3h-5.3zM1243.8 1050.7h5.3v5.3h-5.3zM1302.1 1056h5.3v5.3h-5.3zM1111.3 1066.6h5.3v5.3h-5.3zM1243.8 1066.6h5.3v5.3h-5.3zM1217.3 1082.5h5.3v5.3h-5.3z"/><path fill="#b9b9f0" d="M549.5 451.8h5.3v5.3h-5.3zM512.4 499.5h5.3v5.3h-5.3zM814.5 499.5h5.3v5.3h-5.3zM814.5 510.1h5.3v5.3h-5.3zM639.6 594.9h5.3v5.3h-5.3zM1106 637.3h5.3v5.3h-5.3zM1084.8 647.9h5.3v5.3h-5.3zM676.7 669.1h5.3v5.3h-5.3zM1121.9 674.4h5.3v5.3h-5.3zM676.7 764.5h5.3v5.3h-5.3zM1148.4 780.4h5.3v5.3h-5.3zM1095.4 791h5.3v5.3h-5.3zM1143.1 791h5.3v5.3h-5.3zM703.2 806.9h5.3v5.3h-5.3zM1095.4 812.2h5.3v5.3h-5.3zM1148.4 838.7h5.3v5.3h-5.3zM1227.9 891.7h5.3v5.3h-5.3zM814.5 902.3h5.3v5.3h-5.3zM1143.1 1008.3h5.3v5.3h-5.3z"/><path fill="#c2c2f2" d="M554.8 451.8h5.3v5.3h-5.3zM507.1 499.5h5.3v5.3h-5.3zM819.8 499.5h5.3v5.3h-5.3zM809.2 510.1h5.3v5.3h-5.3zM644.9 594.9h5.3v5.3h-5.3zM1111.3 637.3h5.3v5.3h-5.3zM1079.5 647.9h5.3v5.3h-5.3zM671.4 669.1h5.3v5.3h-5.3zM682 669.1h5.3v5.3h-5.3zM1116.6 674.4h5.3v5.3h-5.3zM682 679.7h5.3v5.3h-5.3zM671.4 764.5h5.3v5.3h-5.3zM1143.1 780.4h5.3v5.3h-5.3zM1090.1 791h5.3v5.3h-5.3zM1137.8 791h5.3v5.3h-5.3zM697.9 806.9h5.3v5.3h-5.3zM1100.7 812.2h5.3v5.3h-5.3zM1143.1 838.7h5.3v5.3h-5.3zM1222.6 891.7h5.3v5.3h-5.3zM819.8 902.3h5.3v5.3h-5.3zM1148.4 1008.3h5.3v5.3h-5.3z"/><path fill="#e1e1f8" d="M549.5 441.2h5.3v5.3h-5.3zM814.5 488.9h5.3v5.3h-5.3zM512.4 510.1h5.3v5.3h-5.3zM639.6 605.5h5.3v5.3h-5.3zM676.7 658.5h5.3v5.3h-5.3zM1084.8 658.5h5.3v5.3h-5.3zM1121.9 663.8h5.3v5.3h-5.3zM676.7 679.7h5.3v5.3h-5.3zM676.7 690.3h5.3v5.3h-5.3zM1148.4 769.8h5.3v5.3h-5.3zM676.7 775.1h5.3v5.3h-5.3zM1095.4 780.4h5.3v5.3h-5.3zM703.2 817.5h5.3v5.3h-5.3zM1148.4 828.1h5.3v5.3h-5.3zM1227.9 881.1h5.3v5.3h-5.3zM814.5 891.7h5.3v5.3h-5.3zM1227.9 902.3h5.3v5.3h-5.3zM1143.1 1024.2h5.3v5.3h-5.3z"/><path fill="#e5e5f9" d="M554.8 441.2h5.3v5.3h-5.3zM819.8 488.9h5.3v5.3h-5.3zM809.2 499.5h5.3v5.3h-5.3zM507.1 510.1h5.3v5.3h-5.3zM644.9 605.5h5.3v5.3h-5.3zM1111.3 626.7h5.3v5.3h-5.3zM682 658.5h5.3v5.3h-5.3zM1079.5 658.5h5.3v5.3h-5.3zM671.4 679.7h5.3v5.3h-5.3zM682 690.3h5.3v5.3h-5.3zM1143.1 769.8h5.3v5.3h-5.3zM671.4 775.1h5.3v5.3h-5.3zM1100.7 791h5.3v5.3h-5.3zM1137.8 801.6h5.3v5.3h-5.3zM697.9 817.5h5.3v5.3h-5.3zM1143.1 828.1h5.3v5.3h-5.3zM1222.6 881.1h5.3v5.3h-5.3zM819.8 891.7h5.3v5.3h-5.3zM1222.6 902.3h5.3v5.3h-5.3zM1148.4 1018.9h5.3v5.3h-5.3zM1148.4 1024.2h5.3v5.3h-5.3z"/><path fill="#c6c6ee" d="M660.8 446.5h5.3v5.3h-5.3zM682 446.5h5.3v5.3h-5.3zM660.8 457.1h5.3v5.3h-5.3zM528.3 478.3h5.3v5.3h-5.3zM846.3 478.3h5.3v5.3h-5.3zM623.7 483.6h5.3v5.3h-5.3zM602.5 499.5h5.3v5.3h-5.3zM666.1 526h5.3v5.3h-5.3zM952.3 526h5.3v5.3h-5.3zM602.5 531.3h5.3v5.3h-5.3zM682 531.3h5.3v5.3h-5.3zM697.9 531.3h5.3v5.3h-5.3zM904.6 547.2h5.3v5.3h-5.3zM925.8 547.2h5.3v5.3h-5.3zM941.7 547.2h5.3v5.3h-5.3zM1143.1 557.8h5.3v5.3h-5.3zM740.3 563.1h5.3v5.3h-5.3zM968.2 563.1h5.3v5.3h-5.3zM936.4 568.4h5.3v5.3h-5.3zM1005.3 573.7h5.3v5.3h-5.3zM724.4 579h5.3v5.3h-5.3zM1190.8 584.3h5.3v5.3h-5.3zM1005.3 589.6h5.3v5.3h-5.3zM1047.7 589.6h5.3v5.3h-5.3zM660.8 600.2h5.3v5.3h-5.3zM1100.7 600.2h5.3v5.3h-5.3zM735 605.5h5.3v5.3h-5.3zM1137.8 626.7h5.3v5.3h-5.3zM682 632h5.3v5.3h-5.3zM1143.1 637.3h5.3v5.3h-5.3zM1169.6 637.3h5.3v5.3h-5.3zM719.1 653.2h5.3v5.3h-5.3zM1111.3 685h5.3v5.3h-5.3zM1143.1 695.6h5.3v5.3h-5.3zM671.4 700.9h5.3v5.3h-5.3zM703.2 700.9h5.3v5.3h-5.3zM1090.1 700.9h5.3v5.3h-5.3zM1100.7 727.4h5.3v5.3h-5.3zM719.1 738h5.3v5.3h-5.3zM1286.2 753.9h5.3v5.3h-5.3zM697.9 764.5h5.3v5.3h-5.3zM1116.6 785.7h5.3v5.3h-5.3zM1302.1 785.7h5.3v5.3h-5.3zM1121.9 796.3h5.3v5.3h-5.3zM1212 796.3h5.3v5.3h-5.3zM618.4 801.6h5.3v5.3h-5.3zM1111.3 817.5h5.3v5.3h-5.3zM740.3 828.1h5.3v5.3h-5.3zM1174.9 828.1h5.3v5.3h-5.3zM671.4 833.4h5.3v5.3h-5.3zM1190.8 849.3h5.3v5.3h-5.3zM687.3 854.6h5.3v5.3h-5.3zM1159 875.8h5.3v5.3h-5.3zM1132.5 891.7h5.3v5.3h-5.3zM1296.8 897h5.3v5.3h-5.3zM671.4 923.5h5.3v5.3h-5.3zM1100.7 923.5h5.3v5.3h-5.3zM1095.4 928.8h5.3v5.3h-5.3zM1159 928.8h5.3v5.3h-5.3zM851.6 934.1h5.3v5.3h-5.3zM835.7 939.4h5.3v5.3h-5.3zM915.2 944.7h5.3v5.3h-5.3zM1137.8 965.9h5.3v5.3h-5.3zM761.5 971.2h5.3v5.3h-5.3zM777.4 981.8h5.3v5.3h-5.3zM766.8 992.4h5.3v5.3h-5.3zM1111.3 1003h5.3v5.3h-5.3zM1201.4 1003h5.3v5.3h-5.3zM1068.9 1061.3h5.3v5.3h-5.3z"/><path fill="#ddddf4" d="M676.7 441.2h5.3v5.3h-5.3zM655.5 451.8h5.3v5.3h-5.3zM666.1 451.8h5.3v5.3h-5.3zM533.6 473h5.3v5.3h-5.3zM851.6 473h5.3v5.3h-5.3zM629 478.3h5.3v5.3h-5.3zM597.2 494.2h5.3v5.3h-5.3zM957.6 520.7h5.3v5.3h-5.3zM660.8 531.3h5.3v5.3h-5.3zM597.2 536.6h5.3v5.3h-5.3zM676.7 536.6h5.3v5.3h-5.3zM692.6 536.6h5.3v5.3h-5.3zM920.5 541.9h5.3v5.3h-5.3zM899.3 552.5h5.3v5.3h-5.3zM947 552.5h5.3v5.3h-5.3zM1137.8 552.5h5.3v5.3h-5.3zM745.6 557.8h5.3v5.3h-5.3zM931.1 563.1h5.3v5.3h-5.3zM962.9 568.4h5.3v5.3h-5.3zM1010.6 568.4h5.3v5.3h-5.3zM729.7 573.7h5.3v5.3h-5.3zM1185.5 579h5.3v5.3h-5.3zM666.1 594.9h5.3v5.3h-5.3zM1053 594.9h5.3v5.3h-5.3zM1106 594.9h5.3v5.3h-5.3zM740.3 610.8h5.3v5.3h-5.3zM1143.1 621.4h5.3v5.3h-5.3zM1148.4 632h5.3v5.3h-5.3zM676.7 637.3h5.3v5.3h-5.3zM1174.9 642.6h5.3v5.3h-5.3zM724.4 658.5h5.3v5.3h-5.3zM1106 690.3h5.3v5.3h-5.3zM1137.8 690.3h5.3v5.3h-5.3zM676.7 695.6h5.3v5.3h-5.3zM724.4 695.6h5.3v5.3h-5.3zM708.5 706.2h5.3v5.3h-5.3zM1095.4 706.2h5.3v5.3h-5.3zM1106 722.1h5.3v5.3h-5.3zM724.4 732.7h5.3v5.3h-5.3zM1095.4 732.7h5.3v5.3h-5.3zM1280.9 748.6h5.3v5.3h-5.3zM703.2 759.2h5.3v5.3h-5.3zM1307.4 780.4h5.3v5.3h-5.3zM1116.6 801.6h5.3v5.3h-5.3zM1217.3 801.6h5.3v5.3h-5.3zM613.1 806.9h5.3v5.3h-5.3zM745.6 822.8h5.3v5.3h-5.3zM1106 822.8h5.3v5.3h-5.3zM1180.2 833.4h5.3v5.3h-5.3zM666.1 838.7h5.3v5.3h-5.3zM682 849.3h5.3v5.3h-5.3zM1196.1 854.6h5.3v5.3h-5.3zM682 859.9h5.3v5.3h-5.3zM1153.7 870.5h5.3v5.3h-5.3zM1127.2 897h5.3v5.3h-5.3zM1302.1 902.3h5.3v5.3h-5.3zM1090.1 923.5h5.3v5.3h-5.3zM666.1 928.8h5.3v5.3h-5.3zM1164.3 934.1h5.3v5.3h-5.3zM920.5 939.4h5.3v5.3h-5.3zM841 944.7h5.3v5.3h-5.3zM1010.6 944.7h5.3v5.3h-5.3zM1143.1 971.2h5.3v5.3h-5.3zM756.2 976.5h5.3v5.3h-5.3zM766.8 981.8h5.3v5.3h-5.3zM772.1 987.1h5.3v5.3h-5.3zM777.4 992.4h5.3v5.3h-5.3zM1106 1008.3h5.3v5.3h-5.3zM1206.7 1008.3h5.3v5.3h-5.3zM1095.4 1013.6h5.3v5.3h-5.3z"/><path fill="#e7e7f8" d="M682 441.2h5.3v5.3h-5.3zM660.8 451.8h5.3v5.3h-5.3zM528.3 473h5.3v5.3h-5.3zM846.3 473h5.3v5.3h-5.3zM629 483.6h5.3v5.3h-5.3zM597.2 499.5h5.3v5.3h-5.3zM952.3 520.7h5.3v5.3h-5.3zM660.8 526h5.3v5.3h-5.3zM597.2 531.3h5.3v5.3h-5.3zM676.7 531.3h5.3v5.3h-5.3zM697.9 536.6h5.3v5.3h-5.3zM925.8 541.9h5.3v5.3h-5.3zM904.6 552.5h5.3v5.3h-5.3zM941.7 552.5h5.3v5.3h-5.3zM1143.1 552.5h5.3v5.3h-5.3zM740.3 557.8h5.3v5.3h-5.3zM968.2 568.4h5.3v5.3h-5.3zM1005.3 568.4h5.3v5.3h-5.3zM729.7 579h5.3v5.3h-5.3zM1190.8 579h5.3v5.3h-5.3zM1005.3 584.3h5.3v5.3h-5.3zM660.8 594.9h5.3v5.3h-5.3zM1047.7 594.9h5.3v5.3h-5.3zM1100.7 594.9h5.3v5.3h-5.3zM740.3 605.5h5.3v5.3h-5.3zM1137.8 621.4h5.3v5.3h-5.3zM1143.1 632h5.3v5.3h-5.3zM682 637.3h5.3v5.3h-5.3zM1169.6 642.6h5.3v5.3h-5.3zM719.1 658.5h5.3v5.3h-5.3zM1111.3 690.3h5.3v5.3h-5.3zM671.4 695.6h5.3v5.3h-5.3zM1137.8 695.6h5.3v5.3h-5.3zM703.2 706.2h5.3v5.3h-5.3zM1090.1 706.2h5.3v5.3h-5.3zM1100.7 722.1h5.3v5.3h-5.3zM719.1 732.7h5.3v5.3h-5.3zM1100.7 732.7h5.3v5.3h-5.3zM1286.2 748.6h5.3v5.3h-5.3zM1111.3 785.7h5.3v5.3h-5.3zM1307.4 785.7h5.3v5.3h-5.3zM1116.6 796.3h5.3v5.3h-5.3zM1217.3 796.3h5.3v5.3h-5.3zM618.4 806.9h5.3v5.3h-5.3zM740.3 822.8h5.3v5.3h-5.3zM1111.3 822.8h5.3v5.3h-5.3zM1174.9 833.4h5.3v5.3h-5.3zM671.4 838.7h5.3v5.3h-5.3zM682 844h5.3v5.3h-5.3zM1196.1 849.3h5.3v5.3h-5.3zM682 854.6h5.3v5.3h-5.3zM1127.2 891.7h5.3v5.3h-5.3zM1296.8 902.3h5.3v5.3h-5.3zM666.1 923.5h5.3v5.3h-5.3zM1090.1 928.8h5.3v5.3h-5.3zM1100.7 928.8h5.3v5.3h-5.3zM1164.3 928.8h5.3v5.3h-5.3zM835.7 944.7h5.3v5.3h-5.3zM920.5 944.7h5.3v5.3h-5.3zM1005.3 944.7h5.3v5.3h-5.3zM756.2 971.2h5.3v5.3h-5.3zM1137.8 971.2h5.3v5.3h-5.3zM761.5 981.8h5.3v5.3h-5.3zM766.8 987.1h5.3v5.3h-5.3zM777.4 987.1h5.3v5.3h-5.3zM1206.7 1003h5.3v5.3h-5.3zM1111.3 1008.3h5.3v5.3h-5.3z"/><path fill="#6974db" d="M941.7 563.1h5.3v5.3h-5.3zM719.1 589.6h5.3v5.3h-5.3zM936.4 594.9h5.3v5.3h-5.3zM1095.4 690.3h5.3v5.3h-5.3zM719.1 817.5h5.3v5.3h-5.3zM1143.1 865.2h5.3v5.3h-5.3zM1143.1 870.5h5.3v5.3h-5.3zM1148.4 881.1h5.3v5.3h-5.3zM867.5 918.2h5.3v5.3h-5.3z"/><path fill="#a5abea" d="M936.4 557.8h5.3v5.3h-5.3zM713.8 584.3h5.3v5.3h-5.3zM931.1 589.6h5.3v5.3h-5.3zM1079.5 685h5.3v5.3h-5.3zM1090.1 695.6h5.3v5.3h-5.3zM1084.8 711.5h5.3v5.3h-5.3zM729.7 806.9h5.3v5.3h-5.3zM724.4 822.8h5.3v5.3h-5.3zM777.4 854.6h5.3v5.3h-5.3zM1148.4 859.9h5.3v5.3h-5.3zM1153.7 875.8h5.3v5.3h-5.3zM862.2 923.5h5.3v5.3h-5.3z"/><path fill="#bec3f0" d="M941.7 557.8h5.3v5.3h-5.3zM713.8 589.6h5.3v5.3h-5.3zM931.1 594.9h5.3v5.3h-5.3zM1095.4 695.6h5.3v5.3h-5.3zM1084.8 706.2h5.3v5.3h-5.3zM729.7 801.6h5.3v5.3h-5.3zM1153.7 812.2h5.3v5.3h-5.3zM719.1 822.8h5.3v5.3h-5.3zM782.7 854.6h5.3v5.3h-5.3zM1143.1 859.9h5.3v5.3h-5.3zM1143.1 875.8h5.3v5.3h-5.3zM1153.7 881.1h5.3v5.3h-5.3zM862.2 918.2h5.3v5.3h-5.3z"/><path fill="#1c2276" d="M920.5 573.7h5.3v5.3h-5.3zM894 579h5.3v5.3h-5.3zM735 584.3h5.3v5.3h-5.3zM1015.9 584.3h5.3v5.3h-5.3zM703.2 685h10.6v5.3h-10.6zM1090.1 685h5.3v5.3h-5.3zM1143.1 764.5h5.3v5.3h-5.3zM1270.3 806.9h5.3v5.3h-5.3zM586.6 833.4h5.3v5.3h-5.3zM1079.5 897h5.3v5.3h-5.3zM883.4 907.6h5.3v5.3h-5.3zM1307.4 1008.3h5.3v5.3h-5.3zM1063.6 1061.3h5.3v5.3h-5.3z"/><path fill="#60649f" d="M899.3 579h5.3v5.3h-5.3zM920.5 579h5.3v5.3h-5.3zM740.3 584.3h5.3v5.3h-5.3zM1015.9 589.6h5.3v5.3h-5.3zM703.2 679.7h5.3v5.3h-5.3zM708.5 690.3h5.3v5.3h-5.3zM1137.8 764.5h5.3v5.3h-5.3zM1265 806.9h5.3v5.3h-5.3zM591.9 833.4h5.3v5.3h-5.3zM1084.8 897h5.3v5.3h-5.3zM888.7 907.6h5.3v5.3h-5.3zM1312.7 1008.3h5.3v5.3h-5.3zM1063.6 1066.6h5.3v5.3h-5.3z"/><path fill="#a0a2c5" d="M915.2 573.7h5.3v5.3h-5.3zM894 584.3h5.3v5.3h-5.3zM1010.6 584.3h5.3v5.3h-5.3zM697.9 685h5.3v5.3h-5.3zM1143.1 759.2h5.3v5.3h-5.3zM1270.3 801.6h5.3v5.3h-5.3zM586.6 838.7h5.3v5.3h-5.3zM1079.5 891.7h5.3v5.3h-5.3zM1307.4 1013.6h5.3v5.3h-5.3zM1058.3 1061.3h5.3v5.3h-5.3z"/><path fill="#bbbdd6" d="M915.2 579h5.3v5.3h-5.3zM899.3 584.3h5.3v5.3h-5.3zM697.9 679.7h5.3v5.3h-5.3zM703.2 690.3h5.3v5.3h-5.3zM1084.8 690.3h5.3v5.3h-5.3zM1137.8 759.2h5.3v5.3h-5.3zM1265 801.6h5.3v5.3h-5.3zM591.9 838.7h5.3v5.3h-5.3zM1084.8 891.7h5.3v5.3h-5.3zM888.7 902.3h5.3v5.3h-5.3zM1312.7 1013.6h5.3v5.3h-5.3zM1058.3 1066.6h5.3v5.3h-5.3z"/><path fill="#aaaee1" d="M1217.3 589.6h5.3v5.3h-5.3zM1116.6 610.8h5.3v5.3h-5.3zM1174.9 616.1h5.3v5.3h-5.3zM629 626.7h5.3v5.3h-5.3zM708.5 658.5h5.3v5.3h-5.3zM1116.6 669.1h5.3v5.3h-5.3zM591.9 700.9h5.3v5.3h-5.3zM703.2 727.4h5.3v5.3h-5.3zM703.2 738h5.3v5.3h-5.3zM544.2 753.9h5.3v5.3h-5.3zM538.9 764.5h5.3v5.3h-5.3zM724.4 769.8h5.3v5.3h-5.3zM1169.6 828.1h5.3v5.3h-5.3zM1106 844h5.3v5.3h-5.3zM1143.1 844h5.3v5.3h-5.3zM1185.5 844h5.3v5.3h-5.3zM671.4 849.3h5.3v5.3h-5.3zM1095.4 859.9h5.3v5.3h-5.3zM1201.4 881.1h5.3v5.3h-5.3zM872.8 891.7h5.3v5.3h-5.3zM766.8 897h5.3v5.3h-5.3zM862.2 902.3h5.3v5.3h-5.3zM1116.6 902.3h5.3v5.3h-5.3zM1127.2 912.9h5.3v5.3h-5.3zM1053 918.2h5.3v5.3h-5.3zM756.2 923.5h5.3v5.3h-5.3zM782.7 923.5h5.3v5.3h-5.3zM989.4 923.5h5.3v5.3h-5.3zM729.7 950h5.3v5.3h-5.3zM1222.6 950h5.3v5.3h-5.3zM1190.8 1024.2h5.3v5.3h-5.3zM1079.5 1071.9h5.3v5.3h-5.3z"/><path fill="#cccfed" d="M1212 594.9h5.3v5.3h-5.3zM1169.6 610.8h5.3v5.3h-5.3zM1121.9 616.1h5.3v5.3h-5.3zM623.7 632h5.3v5.3h-5.3zM703.2 663.8h5.3v5.3h-5.3zM1111.3 663.8h5.3v5.3h-5.3zM708.5 732.7h5.3v5.3h-5.3zM697.9 743.3h5.3v5.3h-5.3zM538.9 748.6h5.3v5.3h-5.3zM544.2 759.2h5.3v5.3h-5.3zM729.7 775.1h5.3v5.3h-5.3zM1164.3 822.8h5.3v5.3h-5.3zM1180.2 838.7h5.3v5.3h-5.3zM676.7 844h5.3v5.3h-5.3zM1148.4 849.3h5.3v5.3h-5.3zM1090.1 854.6h5.3v5.3h-5.3zM1206.7 854.6h5.3v5.3h-5.3zM1206.7 865.2h5.3v5.3h-5.3zM1196.1 875.8h5.3v5.3h-5.3zM867.5 886.4h5.3v5.3h-5.3zM772.1 891.7h5.3v5.3h-5.3zM1121.9 897h5.3v5.3h-5.3zM867.5 907.6h5.3v5.3h-5.3zM1058.3 912.9h5.3v5.3h-5.3zM750.9 918.2h5.3v5.3h-5.3zM777.4 918.2h5.3v5.3h-5.3zM994.7 918.2h5.3v5.3h-5.3zM1121.9 918.2h5.3v5.3h-5.3zM936.4 923.5h5.3v5.3h-5.3zM968.2 934.1h5.3v5.3h-5.3zM735 944.7h5.3v5.3h-5.3zM1217.3 955.3h5.3v5.3h-5.3zM1185.5 1018.9h5.3v5.3h-5.3zM1074.2 1077.2h5.3v5.3h-5.3z"/><path fill="#dbdcf2" d="M1217.3 594.9h5.3v5.3h-5.3zM1174.9 610.8h5.3v5.3h-5.3zM1116.6 616.1h5.3v5.3h-5.3zM623.7 626.7h5.3v5.3h-5.3zM703.2 658.5h5.3v5.3h-5.3zM1111.3 669.1h5.3v5.3h-5.3zM597.2 700.9h5.3v5.3h-5.3zM703.2 732.7h5.3v5.3h-5.3zM703.2 743.3h5.3v5.3h-5.3zM538.9 753.9h5.3v5.3h-5.3zM538.9 759.2h5.3v5.3h-5.3zM729.7 769.8h5.3v5.3h-5.3zM1164.3 828.1h5.3v5.3h-5.3zM671.4 844h5.3v5.3h-5.3zM1095.4 844h10.6v5.3h-10.6zM1148.4 844h5.3v5.3h-5.3zM1180.2 844h5.3v5.3h-5.3zM1095.4 854.6h5.3v5.3h-5.3zM1212 854.6h5.3v5.3h-5.3zM1212 865.2h5.3v5.3h-5.3zM1196.1 881.1h5.3v5.3h-5.3zM872.8 886.4h5.3v5.3h-5.3zM766.8 891.7h5.3v5.3h-5.3zM1116.6 897h5.3v5.3h-5.3zM862.2 907.6h5.3v5.3h-5.3zM756.2 918.2h5.3v5.3h-5.3zM782.7 918.2h5.3v5.3h-5.3zM1058.3 918.2h5.3v5.3h-5.3zM1127.2 918.2h5.3v5.3h-5.3zM931.1 923.5h5.3v5.3h-5.3zM994.7 923.5h5.3v5.3h-5.3zM968.2 939.4h5.3v5.3h-5.3zM729.7 944.7h5.3v5.3h-5.3zM1222.6 955.3h5.3v5.3h-5.3zM1185.5 1024.2h5.3v5.3h-5.3zM1079.5 1077.2h5.3v5.3h-5.3z"/><path fill="#7cc45c" d="M289.8 632h5.3v5.3h-5.3zM316.3 642.6h5.3v5.3h-5.3zM432.9 679.7h5.3v5.3h-5.3zM602.5 743.3h5.3v5.3h-5.3zM618.4 743.3h10.6v5.3h-10.6zM597.2 785.7h5.3v5.3h-5.3zM576 796.3h5.3v5.3h-5.3zM496.5 812.2h5.3v5.3h-5.3zM475.3 828.1h5.3v5.3h-5.3zM401.1 833.4h5.3v5.3h-5.3zM390.5 838.7h5.3v5.3h-5.3zM316.3 865.2h5.3v5.3h-5.3zM894 1008.3h5.3v5.3h-5.3zM968.2 1087.8h5.3v5.3h-5.3zM968.2 1103.7h5.3v5.3h-5.3zM830.4 1109h5.3v5.3h-5.3zM825.1 1124.9h5.3v5.3h-5.3zM803.9 1193.8h5.3v5.3h-5.3zM788 1230.9h5.3v5.3h-5.3zM1031.8 1246.8h5.3v5.3h-5.3z"/><path fill="#80d460" d="M268.6 594.9h10.6v5.3h-10.6zM268.6 605.5h5.3v5.3h-5.3zM374.6 658.5h5.3v5.3h-5.3zM358.7 663.8h10.6v5.3h-10.6zM369.3 669.1h5.3v5.3h-5.3zM390.5 669.1h5.3v5.3h-5.3zM586.6 711.5h5.3v5.3h-5.3zM602.5 748.6h5.3v5.3h-5.3zM613.1 748.6h5.3v5.3h-5.3zM607.8 753.9h5.3v5.3h-5.3zM602.5 759.2h5.3v5.3h-5.3zM538.9 806.9h5.3v5.3h-5.3zM549.5 812.2h5.3v5.3h-5.3zM438.2 828.1h5.3v5.3h-5.3zM406.4 833.4h10.6v5.3h-10.6zM432.9 833.4h5.3v5.3h-5.3zM411.7 838.7h5.3v5.3h-5.3zM422.3 838.7h5.3v5.3h-5.3z"/><path fill="#88dc68" d="M358.7 658.5h15.9v5.3h-15.9zM379.9 658.5h5.3v5.3h-5.3zM390.5 658.5h10.6v5.3h-10.6zM369.3 663.8h15.9v5.3h-15.9zM395.8 663.8h5.3v5.3h-5.3zM353.4 669.1h15.9v5.3h-15.9zM379.9 669.1h5.3v5.3h-5.3zM565.4 711.5h5.3v5.3h-5.3zM576 711.5h10.6v5.3h-10.6zM565.4 716.8h5.3v5.3h-5.3zM581.3 716.8h10.6v5.3h-10.6zM623.7 732.7h5.3v5.3h-5.3zM639.6 732.7h5.3v5.3h-5.3zM629 738h10.6v5.3h-10.6zM607.8 748.6h5.3v5.3h-5.3zM607.8 759.2h5.3v5.3h-5.3zM544.2 806.9h10.6v5.3h-10.6zM533.6 812.2h5.3v5.3h-5.3zM406.4 828.1h5.3v5.3h-5.3zM417 828.1h21.2v5.3h-21.2zM422.3 833.4h5.3v5.3h-5.3zM406.4 838.7h5.3v5.3h-5.3zM432.9 838.7h5.3v5.3h-5.3z"/><path fill="#92e470" d="M268.6 600.2h10.6v5.3h-10.6zM273.9 605.5h5.3v5.3h-5.3zM268.6 610.8h5.3v5.3h-5.3zM353.4 658.5h5.3v5.3h-5.3zM385.2 658.5h5.3v5.3h-5.3zM353.4 663.8h5.3v5.3h-5.3zM385.2 663.8h10.6v5.3h-10.6zM374.6 669.1h5.3v5.3h-5.3zM385.2 669.1h5.3v5.3h-5.3zM570.7 711.5h5.3v5.3h-5.3zM570.7 716.8h10.6v5.3h-10.6zM629 732.7h10.6v5.3h-10.6zM623.7 738h5.3v5.3h-5.3zM602.5 753.9h5.3v5.3h-5.3zM613.1 753.9h5.3v5.3h-5.3zM613.1 759.2h5.3v5.3h-5.3zM533.6 806.9h5.3v5.3h-5.3zM538.9 812.2h10.6v5.3h-10.6zM411.7 828.1h5.3v5.3h-5.3zM417 833.4h5.3v5.3h-5.3zM427.6 833.4h5.3v5.3h-5.3zM438.2 833.4h5.3v5.3h-5.3zM417 838.7h5.3v5.3h-5.3zM427.6 838.7h5.3v5.3h-5.3zM438.2 838.7h5.3v5.3h-5.3z"/><path fill="#6ea854" d="M279.2 605.5h5.3v5.3h-5.3zM279.2 621.4h5.3v5.3h-5.3zM321.6 647.9h5.3v5.3h-5.3zM342.8 658.5h5.3v5.3h-5.3zM448.8 679.7h5.3v5.3h-5.3zM491.2 695.6h5.3v5.3h-5.3zM501.8 695.6h5.3v5.3h-5.3zM512.4 700.9h5.3v5.3h-5.3zM533.6 700.9h10.6v5.3h-10.6zM597.2 716.8h5.3v5.3h-5.3zM629 743.3h5.3v5.3h-5.3zM623.7 764.5h5.3v5.3h-5.3zM607.8 780.4h5.3v5.3h-5.3zM591.9 785.7h5.3v5.3h-5.3zM602.5 785.7h5.3v5.3h-5.3zM464.7 828.1h5.3v5.3h-5.3zM358.7 838.7h5.3v5.3h-5.3zM379.9 838.7h5.3v5.3h-5.3zM358.7 844h5.3v5.3h-5.3zM326.9 859.9h5.3v5.3h-5.3zM279.2 891.7h5.3v5.3h-5.3zM268.6 902.3h5.3v5.3h-5.3zM888.7 1013.6h5.3v5.3h-5.3zM888.7 1018.9h5.3v5.3h-5.3zM851.6 1071.9h5.3v5.3h-5.3zM846.3 1077.2h5.3v5.3h-5.3zM835.7 1082.5h5.3v5.3h-5.3zM830.4 1098.4h5.3v5.3h-5.3zM978.8 1119.6h5.3v5.3h-5.3zM819.8 1135.5h5.3v5.3h-5.3zM989.4 1146.1h5.3v5.3h-5.3zM1000 1188.5h5.3v5.3h-5.3zM1000 1193.8h5.3v5.3h-5.3zM793.3 1220.3h5.3v5.3h-5.3zM777.4 1252.1h5.3v5.3h-5.3zM1031.8 1252.1h5.3v5.3h-5.3z"/><path fill="#74b058" d="M332.2 658.5h5.3v5.3h-5.3zM438.2 679.7h5.3v5.3h-5.3zM475.3 695.6h5.3v5.3h-5.3zM517.7 700.9h5.3v5.3h-5.3zM591.9 716.8h5.3v5.3h-5.3zM623.7 775.1h5.3v5.3h-5.3zM581.3 796.3h5.3v5.3h-5.3zM501.8 812.2h5.3v5.3h-5.3zM512.4 812.2h5.3v5.3h-5.3zM491.2 817.5h5.3v5.3h-5.3zM443.5 828.1h10.6v5.3h-10.6zM459.4 828.1h5.3v5.3h-5.3zM395.8 833.4h5.3v5.3h-5.3zM374.6 838.7h5.3v5.3h-5.3zM353.4 849.3h5.3v5.3h-5.3zM332.2 854.6h5.3v5.3h-5.3zM899.3 1008.3h5.3v5.3h-5.3zM915.2 1013.6h5.3v5.3h-5.3zM872.8 1024.2h5.3v5.3h-5.3zM957.6 1061.3h5.3v5.3h-5.3zM835.7 1087.8h5.3v5.3h-5.3zM968.2 1098.4h5.3v5.3h-5.3zM830.4 1103.7h5.3v5.3h-5.3zM973.5 1109h5.3v5.3h-5.3zM825.1 1119.6h5.3v5.3h-5.3zM809.2 1162h5.3v5.3h-5.3zM803.9 1183.2h5.3v5.3h-5.3zM1005.3 1199.1h5.3v5.3h-5.3zM1005.3 1204.4h5.3v5.3h-5.3zM788 1225.6h5.3v5.3h-5.3zM1026.5 1236.2h5.3v5.3h-5.3zM1042.4 1262.7h5.3v5.3h-5.3z"/><path fill="#5a8c46" d="M305.7 637.3h5.3v5.3h-5.3zM454.1 679.7h5.3v5.3h-5.3zM485.9 695.6h5.3v5.3h-5.3zM501.8 700.9h10.6v5.3h-10.6zM602.5 716.8h10.6v5.3h-10.6zM607.8 743.3h5.3v5.3h-5.3zM523 812.2h5.3v5.3h-5.3zM337.5 854.6h5.3v5.3h-5.3zM321.6 859.9h5.3v5.3h-5.3zM305.7 870.5h5.3v5.3h-5.3zM883.4 1018.9h5.3v5.3h-5.3zM915.2 1024.2h5.3v5.3h-5.3zM936.4 1034.8h5.3v5.3h-5.3zM872.8 1040.1h5.3v5.3h-5.3zM936.4 1040.1h5.3v5.3h-5.3zM947 1045.4h5.3v5.3h-5.3zM856.9 1061.3h10.6v5.3h-10.6zM962.9 1066.6h5.3v5.3h-5.3zM994.7 1177.9h5.3v5.3h-5.3zM994.7 1183.2h5.3v5.3h-5.3zM803.9 1199.1h5.3v5.3h-5.3zM1015.9 1225.6h5.3v5.3h-5.3zM756.2 1268h5.3v5.3h-5.3zM1058.3 1273.3h5.3v5.3h-5.3z"/><path fill="#7abe60" d="M311 637.3h5.3v5.3h-5.3zM326.9 658.5h5.3v5.3h-5.3zM337.5 658.5h5.3v5.3h-5.3zM348.1 658.5h5.3v5.3h-5.3zM464.7 685h5.3v5.3h-5.3zM618.4 759.2h5.3v5.3h-5.3zM560.1 801.6h5.3v5.3h-5.3zM480.6 822.8h5.3v5.3h-5.3zM369.3 838.7h5.3v5.3h-5.3zM385.2 838.7h5.3v5.3h-5.3zM348.1 849.3h5.3v5.3h-5.3zM342.8 854.6h5.3v5.3h-5.3zM289.8 881.1h5.3v5.3h-5.3zM878.1 1018.9h5.3v5.3h-5.3zM872.8 1029.5h5.3v5.3h-5.3zM925.8 1029.5h5.3v5.3h-5.3zM872.8 1034.8h5.3v5.3h-5.3zM867.5 1056h5.3v5.3h-5.3zM957.6 1056h5.3v5.3h-5.3zM835.7 1093.1h5.3v5.3h-5.3zM968.2 1093.1h5.3v5.3h-5.3zM825.1 1114.3h5.3v5.3h-5.3zM989.4 1140.8h5.3v5.3h-5.3zM814.5 1146.1h5.3v5.3h-5.3zM994.7 1162h5.3v5.3h-5.3zM1005.3 1209.7h5.3v5.3h-5.3zM793.3 1215h5.3v5.3h-5.3zM1010.6 1220.3h5.3v5.3h-5.3zM782.7 1236.2h5.3v5.3h-5.3zM761.5 1262.7h5.3v5.3h-5.3zM1047.7 1262.7h5.3v5.3h-5.3z"/><path fill="#609648" d="M326.9 653.2h5.3v5.3h-5.3zM459.4 679.7h5.3v5.3h-5.3zM470 690.3h5.3v5.3h-5.3zM523 700.9h5.3v5.3h-5.3zM597.2 759.2h5.3v5.3h-5.3zM623.7 769.8h5.3v5.3h-5.3zM570.7 801.6h5.3v5.3h-5.3zM517.7 812.2h5.3v5.3h-5.3zM528.3 812.2h5.3v5.3h-5.3zM485.9 822.8h5.3v5.3h-5.3zM454.1 828.1h5.3v5.3h-5.3zM470 828.1h5.3v5.3h-5.3zM311 870.5h5.3v5.3h-5.3zM295.1 875.8h5.3v5.3h-5.3zM909.9 1008.3h5.3v5.3h-5.3zM872.8 1045.4h5.3v5.3h-5.3zM952.3 1050.7h5.3v5.3h-5.3zM856.9 1066.6h5.3v5.3h-5.3zM962.9 1071.9h5.3v5.3h-5.3zM968.2 1082.5h5.3v5.3h-5.3zM819.8 1130.2h5.3v5.3h-5.3zM984.1 1130.2h5.3v5.3h-5.3zM984.1 1135.5h5.3v5.3h-5.3zM819.8 1140.8h5.3v5.3h-5.3zM814.5 1151.4h5.3v5.3h-5.3zM814.5 1156.7h5.3v5.3h-5.3zM994.7 1156.7h5.3v5.3h-5.3zM809.2 1167.3h5.3v5.3h-5.3zM798.6 1204.4h5.3v5.3h-5.3zM1026.5 1241.5h5.3v5.3h-5.3zM772.1 1257.4h5.3v5.3h-5.3zM1037.1 1257.4h5.3v5.3h-5.3z"/><path fill="#3c6a18" d="M639.6 738h5.3v5.3h-5.3z"/><path fill="#84d064" d="M268.6 589.6h5.3v5.3h-5.3zM279.2 616.1h5.3v5.3h-5.3zM284.5 626.7h5.3v5.3h-5.3zM496.5 695.6h5.3v5.3h-5.3zM528.3 700.9h5.3v5.3h-5.3zM549.5 706.2h10.6v5.3h-10.6zM613.1 722.1h5.3v5.3h-5.3zM618.4 727.4h5.3v5.3h-5.3zM613.1 780.4h5.3v5.3h-5.3zM586.6 791h5.3v5.3h-5.3zM554.8 806.9h5.3v5.3h-5.3zM300.4 875.8h5.3v5.3h-5.3zM284.5 886.4h5.3v5.3h-5.3zM273.9 897h5.3v5.3h-5.3zM904.6 1008.3h5.3v5.3h-5.3zM915.2 1008.3h5.3v5.3h-5.3zM915.2 1018.9h5.3v5.3h-5.3zM915.2 1029.5h5.3v5.3h-5.3zM941.7 1045.4h5.3v5.3h-5.3zM973.5 1114.3h5.3v5.3h-5.3zM978.8 1124.9h5.3v5.3h-5.3zM989.4 1151.4h5.3v5.3h-5.3zM809.2 1172.6h5.3v5.3h-5.3zM994.7 1172.6h5.3v5.3h-5.3zM803.9 1188.5h5.3v5.3h-5.3zM1010.6 1215h5.3v5.3h-5.3zM1021.2 1230.9h5.3v5.3h-5.3zM782.7 1241.5h5.3v5.3h-5.3z"/><path fill="#689e54" d="M295.1 632h5.3v5.3h-5.3zM300.4 637.3h5.3v5.3h-5.3zM321.6 642.6h5.3v5.3h-5.3zM443.5 679.7h5.3v5.3h-5.3zM470 685h5.3v5.3h-5.3zM470 695.6h5.3v5.3h-5.3zM480.6 695.6h5.3v5.3h-5.3zM544.2 700.9h5.3v5.3h-5.3zM560.1 711.5h5.3v5.3h-5.3zM623.7 727.4h5.3v5.3h-5.3zM613.1 743.3h5.3v5.3h-5.3zM618.4 780.4h5.3v5.3h-5.3zM565.4 801.6h5.3v5.3h-5.3zM507.1 812.2h5.3v5.3h-5.3zM364 838.7h5.3v5.3h-5.3zM867.5 1050.7h5.3v5.3h-5.3zM841 1077.2h5.3v5.3h-5.3zM968.2 1077.2h5.3v5.3h-5.3zM994.7 1167.3h5.3v5.3h-5.3zM809.2 1177.9h5.3v5.3h-5.3zM798.6 1209.7h5.3v5.3h-5.3zM777.4 1246.8h5.3v5.3h-5.3zM766.8 1257.4h5.3v5.3h-5.3zM1053 1268h5.3v5.3h-5.3zM750.9 1273.3h5.3v5.3h-5.3z"/><path fill="#5a8a3c" d="M395.8 669.1h5.3v5.3h-5.3zM406.4 669.1h5.3v5.3h-5.3zM417 669.1h5.3v5.3h-5.3z"/><path fill="#1c3008" d="M644.9 738h5.3v5.3h-5.3zM629 764.5h5.3v5.3h-5.3z"/><path fill="#54843a" d="M401.1 663.8h10.6v5.3h-10.6zM427.6 663.8h5.3v5.3h-5.3zM401.1 669.1h5.3v5.3h-5.3zM411.7 669.1h5.3v5.3h-5.3zM422.3 669.1h10.6v5.3h-10.6zM411.7 674.4h15.9v5.3h-15.9z"/><path fill="#3a6a14" d="M597.2 753.9h5.3v5.3h-5.3z"/><path fill="#4a7a2c" d="M279.2 600.2h5.3v5.3h-5.3z"/><path fill="#3a6a1c" d="M273.9 610.8h5.3v5.3h-5.3z"/><path fill="#5a8c3c" d="M411.7 663.8h10.6v5.3h-10.6zM406.4 674.4h5.3v5.3h-5.3zM427.6 674.4h5.3v5.3h-5.3z"/><path fill="#2a5210" d="M851.6 1077.2h5.3v5.3h-5.3z"/><path fill="#3a6a34" d="M931.1 1029.5h5.3v5.3h-5.3zM920.5 1034.8h5.3v5.3h-5.3z"/><path fill="#e2f8d6" d="M284.5 605.5h5.3v5.3h-5.3zM284.5 610.8h5.3v5.3h-5.3zM273.9 621.4h5.3v5.3h-5.3zM273.9 626.7h5.3v5.3h-5.3zM295.1 626.7h5.3v5.3h-5.3zM311 632h5.3v5.3h-5.3zM284.5 637.3h5.3v5.3h-5.3zM326.9 637.3h5.3v5.3h-5.3zM321.6 658.5h5.3v5.3h-5.3zM321.6 663.8h10.6v5.3h-10.6zM443.5 674.4h5.3v5.3h-5.3zM464.7 679.7h5.3v5.3h-5.3zM443.5 685h5.3v5.3h-5.3zM454.1 685h5.3v5.3h-5.3zM475.3 685h5.3v5.3h-5.3zM459.4 690.3h5.3v5.3h-5.3zM485.9 690.3h5.3v5.3h-5.3zM496.5 706.2h5.3v5.3h-5.3zM554.8 711.5h5.3v5.3h-5.3zM613.1 711.5h5.3v5.3h-5.3zM613.1 716.8h10.6v5.3h-10.6zM581.3 722.1h5.3v5.3h-5.3zM597.2 722.1h10.6v5.3h-10.6zM634.3 727.4h5.3v5.3h-5.3zM613.1 738h5.3v5.3h-5.3zM623.7 748.6h5.3v5.3h-5.3zM629 759.2h10.6v5.3h-10.6zM602.5 764.5h10.6v5.3h-10.6zM618.4 764.5h5.3v5.3h-5.3zM591.9 780.4h5.3v5.3h-5.3zM602.5 780.4h5.3v5.3h-5.3zM629 780.4h5.3v5.3h-5.3zM570.7 791h10.6v5.3h-10.6zM602.5 791h5.3v5.3h-5.3zM565.4 796.3h5.3v5.3h-5.3zM538.9 801.6h5.3v5.3h-5.3zM549.5 801.6h5.3v5.3h-5.3zM581.3 801.6h5.3v5.3h-5.3zM501.8 806.9h5.3v5.3h-5.3zM517.7 806.9h5.3v5.3h-5.3zM570.7 806.9h5.3v5.3h-5.3zM491.2 812.2h5.3v5.3h-5.3zM560.1 812.2h5.3v5.3h-5.3zM480.6 817.5h5.3v5.3h-5.3zM496.5 817.5h10.6v5.3h-10.6zM422.3 822.8h5.3v5.3h-5.3zM364 833.4h5.3v5.3h-5.3zM448.8 833.4h5.3v5.3h-5.3zM459.4 833.4h5.3v5.3h-5.3zM379.9 844h5.3v5.3h-5.3zM395.8 844h5.3v5.3h-5.3zM332.2 849.3h15.9v5.3h-15.9zM358.7 849.3h10.6v5.3h-10.6zM358.7 854.6h5.3v5.3h-5.3zM311 859.9h5.3v5.3h-5.3zM337.5 859.9h5.3v5.3h-5.3zM300.4 870.5h5.3v5.3h-5.3zM316.3 870.5h5.3v5.3h-5.3zM289.8 875.8h5.3v5.3h-5.3zM311 875.8h5.3v5.3h-5.3zM279.2 897h10.6v5.3h-10.6zM920.5 1003h5.3v5.3h-5.3zM894 1013.6h5.3v5.3h-5.3zM872.8 1018.9h5.3v5.3h-5.3zM909.9 1018.9h5.3v5.3h-5.3zM888.7 1024.2h5.3v5.3h-5.3zM909.9 1024.2h5.3v5.3h-5.3zM925.8 1024.2h5.3v5.3h-5.3zM936.4 1024.2h5.3v5.3h-5.3zM862.2 1045.4h5.3v5.3h-5.3zM878.1 1045.4h5.3v5.3h-5.3zM957.6 1045.4h5.3v5.3h-5.3zM936.4 1050.7h5.3v5.3h-5.3zM851.6 1056h5.3v5.3h-5.3zM872.8 1061.3h5.3v5.3h-5.3zM968.2 1061.3h5.3v5.3h-5.3zM851.6 1066.6h5.3v5.3h-5.3zM968.2 1066.6h5.3v5.3h-5.3zM841 1071.9h5.3v5.3h-5.3zM841 1082.5h10.6v5.3h-10.6zM962.9 1087.8h5.3v5.3h-5.3zM830.4 1093.1h5.3v5.3h-5.3zM962.9 1093.1h5.3v5.3h-5.3zM825.1 1109h5.3v5.3h-5.3zM819.8 1151.4h5.3v5.3h-5.3zM994.7 1151.4h5.3v5.3h-5.3zM1000 1162h5.3v5.3h-5.3zM989.4 1167.3h5.3v5.3h-5.3zM809.2 1183.2h5.3v5.3h-5.3zM1005.3 1183.2h5.3v5.3h-5.3zM1005.3 1188.5h5.3v5.3h-5.3zM788 1209.7h5.3v5.3h-5.3zM1000 1209.7h5.3v5.3h-5.3zM1010.6 1209.7h5.3v5.3h-5.3zM1005.3 1215h5.3v5.3h-5.3zM1015.9 1215h5.3v5.3h-5.3zM1015.9 1220.3h10.6v5.3h-10.6zM782.7 1225.6h5.3v5.3h-5.3zM798.6 1225.6h5.3v5.3h-5.3zM1026.5 1225.6h5.3v5.3h-5.3zM1010.6 1230.9h5.3v5.3h-5.3zM1021.2 1236.2h5.3v5.3h-5.3zM788 1241.5h5.3v5.3h-5.3zM777.4 1257.4h5.3v5.3h-5.3zM750.9 1262.7h5.3v5.3h-5.3zM1031.8 1262.7h5.3v5.3h-5.3z"/><path fill="#c8f0b6" d="M273.9 589.6h5.3v5.3h-5.3zM300.4 632h10.6v5.3h-10.6zM300.4 642.6h5.3v5.3h-5.3zM311 642.6h5.3v5.3h-5.3zM326.9 642.6h5.3v5.3h-5.3zM337.5 653.2h5.3v5.3h-5.3zM353.4 653.2h5.3v5.3h-5.3zM448.8 674.4h5.3v5.3h-5.3zM470 679.7h5.3v5.3h-5.3zM432.9 685h5.3v5.3h-5.3zM448.8 685h5.3v5.3h-5.3zM464.7 690.3h5.3v5.3h-5.3zM496.5 690.3h5.3v5.3h-5.3zM523 695.6h5.3v5.3h-5.3zM464.7 700.9h5.3v5.3h-5.3zM549.5 700.9h10.6v5.3h-10.6zM512.4 706.2h5.3v5.3h-5.3zM581.3 706.2h5.3v5.3h-5.3zM544.2 711.5h5.3v5.3h-5.3zM560.1 716.8h5.3v5.3h-5.3zM613.1 727.4h5.3v5.3h-5.3zM597.2 738h10.6v5.3h-10.6zM618.4 738h5.3v5.3h-5.3zM639.6 743.3h5.3v5.3h-5.3zM597.2 748.6h5.3v5.3h-5.3zM618.4 748.6h5.3v5.3h-5.3zM597.2 764.5h5.3v5.3h-5.3zM613.1 775.1h5.3v5.3h-5.3zM623.7 780.4h5.3v5.3h-5.3zM581.3 785.7h5.3v5.3h-5.3zM613.1 785.7h5.3v5.3h-5.3zM576 801.6h5.3v5.3h-5.3zM560.1 806.9h5.3v5.3h-5.3zM475.3 817.5h5.3v5.3h-5.3zM507.1 817.5h5.3v5.3h-5.3zM528.3 817.5h5.3v5.3h-5.3zM427.6 822.8h5.3v5.3h-5.3zM470 822.8h5.3v5.3h-5.3zM491.2 822.8h5.3v5.3h-5.3zM480.6 828.1h5.3v5.3h-5.3zM374.6 833.4h5.3v5.3h-5.3zM454.1 833.4h5.3v5.3h-5.3zM342.8 844h10.6v5.3h-10.6zM364 844h5.3v5.3h-5.3zM321.6 854.6h5.3v5.3h-5.3zM332.2 859.9h5.3v5.3h-5.3zM305.7 865.2h5.3v5.3h-5.3zM289.8 870.5h10.6v5.3h-10.6zM305.7 875.8h5.3v5.3h-5.3zM284.5 881.1h5.3v5.3h-5.3zM300.4 881.1h5.3v5.3h-5.3zM284.5 891.7h5.3v5.3h-5.3zM279.2 902.3h5.3v5.3h-5.3zM899.3 1003h5.3v5.3h-5.3zM872.8 1013.6h5.3v5.3h-5.3zM883.4 1024.2h5.3v5.3h-5.3zM936.4 1029.5h5.3v5.3h-5.3zM878.1 1034.8h5.3v5.3h-5.3zM909.9 1034.8h5.3v5.3h-5.3zM920.5 1040.1h5.3v5.3h-5.3zM830.4 1077.2h5.3v5.3h-5.3zM957.6 1077.2h5.3v5.3h-5.3zM830.4 1087.8h5.3v5.3h-5.3zM973.5 1087.8h5.3v5.3h-5.3zM841 1098.4h5.3v5.3h-5.3zM835.7 1109h5.3v5.3h-5.3zM978.8 1109h5.3v5.3h-5.3zM819.8 1114.3h5.3v5.3h-5.3zM830.4 1114.3h10.6v5.3h-10.6zM984.1 1114.3h5.3v5.3h-5.3zM973.5 1119.6h5.3v5.3h-5.3zM973.5 1124.9h5.3v5.3h-5.3zM814.5 1130.2h5.3v5.3h-5.3zM825.1 1130.2h5.3v5.3h-5.3zM978.8 1135.5h5.3v5.3h-5.3zM978.8 1140.8h5.3v5.3h-5.3zM814.5 1162h10.6v5.3h-10.6zM803.9 1177.9h5.3v5.3h-5.3zM1000 1177.9h5.3v5.3h-5.3zM798.6 1193.8h5.3v5.3h-5.3zM994.7 1193.8h5.3v5.3h-5.3zM1005.3 1193.8h10.6v5.3h-10.6zM793.3 1199.1h5.3v5.3h-5.3zM809.2 1199.1h5.3v5.3h-5.3zM777.4 1230.9h5.3v5.3h-5.3zM1015.9 1230.9h5.3v5.3h-5.3zM1021.2 1241.5h5.3v5.3h-5.3zM1031.8 1241.5h5.3v5.3h-5.3zM1037.1 1246.8h5.3v5.3h-5.3zM782.7 1257.4h5.3v5.3h-5.3zM1026.5 1257.4h10.6v5.3h-10.6zM761.5 1268h5.3v5.3h-5.3zM1042.4 1268h5.3v5.3h-5.3zM1047.7 1273.3h10.6v5.3h-10.6zM1063.6 1273.3h5.3v5.3h-5.3z"/><path fill="#baeca4" d="M284.5 594.9h5.3v5.3h-5.3zM284.5 616.1h5.3v5.3h-5.3zM279.2 626.7h5.3v5.3h-5.3zM300.4 626.7h5.3v5.3h-5.3zM284.5 632h5.3v5.3h-5.3zM332.2 653.2h5.3v5.3h-5.3zM358.7 653.2h5.3v5.3h-5.3zM332.2 663.8h5.3v5.3h-5.3zM342.8 663.8h5.3v5.3h-5.3zM379.9 674.4h10.6v5.3h-10.6zM395.8 674.4h5.3v5.3h-5.3zM459.4 674.4h5.3v5.3h-5.3zM422.3 679.7h5.3v5.3h-5.3zM475.3 690.3h5.3v5.3h-5.3zM491.2 690.3h5.3v5.3h-5.3zM507.1 690.3h5.3v5.3h-5.3zM517.7 695.6h5.3v5.3h-5.3zM528.3 695.6h5.3v5.3h-5.3zM480.6 700.9h5.3v5.3h-5.3zM491.2 700.9h5.3v5.3h-5.3zM507.1 706.2h5.3v5.3h-5.3zM523 706.2h5.3v5.3h-5.3zM591.9 711.5h5.3v5.3h-5.3zM602.5 711.5h10.6v5.3h-10.6zM576 722.1h5.3v5.3h-5.3zM618.4 722.1h10.6v5.3h-10.6zM607.8 727.4h5.3v5.3h-5.3zM629 727.4h5.3v5.3h-5.3zM639.6 727.4h5.3v5.3h-5.3zM618.4 732.7h5.3v5.3h-5.3zM597.2 743.3h5.3v5.3h-5.3zM650.2 743.3h5.3v5.3h-5.3zM618.4 769.8h5.3v5.3h-5.3zM618.4 785.7h5.3v5.3h-5.3zM597.2 791h5.3v5.3h-5.3zM554.8 796.3h5.3v5.3h-5.3zM586.6 801.6h5.3v5.3h-5.3zM523 817.5h5.3v5.3h-5.3zM379.9 833.4h5.3v5.3h-5.3zM390.5 833.4h5.3v5.3h-5.3zM443.5 833.4h5.3v5.3h-5.3zM464.7 833.4h5.3v5.3h-5.3zM475.3 833.4h5.3v5.3h-5.3zM401.1 838.7h5.3v5.3h-5.3zM390.5 844h5.3v5.3h-5.3zM348.1 854.6h10.6v5.3h-10.6zM321.6 865.2h5.3v5.3h-5.3zM332.2 865.2h5.3v5.3h-5.3zM284.5 875.8h5.3v5.3h-5.3zM316.3 875.8h5.3v5.3h-5.3zM915.2 1003h5.3v5.3h-5.3zM878.1 1013.6h5.3v5.3h-5.3zM920.5 1018.9h5.3v5.3h-5.3zM941.7 1029.5h5.3v5.3h-5.3zM931.1 1034.8h5.3v5.3h-5.3zM931.1 1040.1h5.3v5.3h-5.3zM952.3 1045.4h5.3v5.3h-5.3zM872.8 1050.7h5.3v5.3h-5.3zM872.8 1056h5.3v5.3h-5.3zM962.9 1056h5.3v5.3h-5.3zM846.3 1071.9h5.3v5.3h-5.3zM856.9 1071.9h5.3v5.3h-5.3zM957.6 1071.9h5.3v5.3h-5.3zM968.2 1071.9h5.3v5.3h-5.3zM856.9 1082.5h5.3v5.3h-5.3zM841 1087.8h5.3v5.3h-5.3zM973.5 1093.1h5.3v5.3h-5.3zM825.1 1098.4h5.3v5.3h-5.3zM973.5 1098.4h5.3v5.3h-5.3zM825.1 1103.7h5.3v5.3h-5.3zM962.9 1109h10.6v5.3h-10.6zM968.2 1114.3h5.3v5.3h-5.3zM819.8 1124.9h5.3v5.3h-5.3zM814.5 1135.5h5.3v5.3h-5.3zM994.7 1135.5h5.3v5.3h-5.3zM984.1 1140.8h5.3v5.3h-5.3zM994.7 1140.8h5.3v5.3h-5.3zM819.8 1146.1h5.3v5.3h-5.3zM809.2 1156.7h5.3v5.3h-5.3zM803.9 1162h5.3v5.3h-5.3zM803.9 1172.6h5.3v5.3h-5.3zM814.5 1172.6h5.3v5.3h-5.3zM1000 1172.6h5.3v5.3h-5.3zM798.6 1177.9h5.3v5.3h-5.3zM814.5 1177.9h5.3v5.3h-5.3zM989.4 1177.9h5.3v5.3h-5.3zM989.4 1188.5h10.6v5.3h-10.6zM809.2 1193.8h5.3v5.3h-5.3zM1000 1199.1h5.3v5.3h-5.3zM1000 1204.4h5.3v5.3h-5.3zM1010.6 1204.4h5.3v5.3h-5.3zM803.9 1209.7h5.3v5.3h-5.3zM1000 1215h5.3v5.3h-5.3zM1005.3 1220.3h5.3v5.3h-5.3zM772.1 1241.5h10.6v5.3h-10.6zM761.5 1252.1h15.9v5.3h-15.9zM1026.5 1252.1h5.3v5.3h-5.3zM761.5 1257.4h5.3v5.3h-5.3zM1042.4 1257.4h10.6v5.3h-10.6zM766.8 1262.7h5.3v5.3h-5.3zM1058.3 1262.7h5.3v5.3h-5.3zM745.6 1273.3h5.3v5.3h-5.3zM756.2 1273.3h10.6v5.3h-10.6z"/><path fill="#ecfae2" d="M279.2 589.6h5.3v5.3h-5.3zM279.2 594.9h5.3v5.3h-5.3zM284.5 600.2h5.3v5.3h-5.3zM268.6 616.1h5.3v5.3h-5.3zM289.8 626.7h5.3v5.3h-5.3zM316.3 637.3h5.3v5.3h-5.3zM305.7 642.6h5.3v5.3h-5.3zM316.3 647.9h5.3v5.3h-5.3zM321.6 653.2h5.3v5.3h-5.3zM337.5 663.8h5.3v5.3h-5.3zM432.9 669.1h5.3v5.3h-5.3zM432.9 674.4h5.3v5.3h-5.3zM454.1 674.4h5.3v5.3h-5.3zM427.6 679.7h5.3v5.3h-5.3zM475.3 679.7h5.3v5.3h-5.3zM459.4 685h5.3v5.3h-5.3zM549.5 695.6h5.3v5.3h-5.3zM485.9 700.9h5.3v5.3h-5.3zM496.5 700.9h5.3v5.3h-5.3zM528.3 706.2h5.3v5.3h-5.3zM544.2 706.2h5.3v5.3h-5.3zM629 722.1h5.3v5.3h-5.3zM607.8 738h5.3v5.3h-5.3zM650.2 738h5.3v5.3h-5.3zM634.3 743.3h5.3v5.3h-5.3zM644.9 743.3h5.3v5.3h-5.3zM591.9 748.6h5.3v5.3h-5.3zM591.9 753.9h5.3v5.3h-5.3zM618.4 753.9h5.3v5.3h-5.3zM591.9 759.2h5.3v5.3h-5.3zM634.3 764.5h5.3v5.3h-5.3zM602.5 775.1h5.3v5.3h-5.3zM597.2 780.4h5.3v5.3h-5.3zM586.6 785.7h5.3v5.3h-5.3zM591.9 791h5.3v5.3h-5.3zM607.8 791h5.3v5.3h-5.3zM560.1 796.3h5.3v5.3h-5.3zM586.6 796.3h10.6v5.3h-10.6zM554.8 801.6h5.3v5.3h-5.3zM496.5 806.9h5.3v5.3h-5.3zM512.4 806.9h5.3v5.3h-5.3zM528.3 806.9h5.3v5.3h-5.3zM485.9 812.2h5.3v5.3h-5.3zM512.4 817.5h5.3v5.3h-5.3zM533.6 817.5h10.6v5.3h-10.6zM432.9 822.8h5.3v5.3h-5.3zM459.4 822.8h5.3v5.3h-5.3zM496.5 822.8h5.3v5.3h-5.3zM401.1 828.1h5.3v5.3h-5.3zM369.3 833.4h5.3v5.3h-5.3zM385.2 833.4h5.3v5.3h-5.3zM395.8 838.7h5.3v5.3h-5.3zM369.3 844h10.6v5.3h-10.6zM385.2 844h5.3v5.3h-5.3zM326.9 849.3h5.3v5.3h-5.3zM326.9 854.6h5.3v5.3h-5.3zM321.6 870.5h5.3v5.3h-5.3zM273.9 886.4h5.3v5.3h-5.3zM268.6 891.7h5.3v5.3h-5.3zM268.6 897h5.3v5.3h-5.3zM273.9 902.3h5.3v5.3h-5.3zM268.6 907.6h5.3v5.3h-5.3zM888.7 1003h10.6v5.3h-10.6zM909.9 1003h5.3v5.3h-5.3zM883.4 1013.6h5.3v5.3h-5.3zM894 1018.9h5.3v5.3h-5.3zM894 1024.2h5.3v5.3h-5.3zM931.1 1024.2h5.3v5.3h-5.3zM909.9 1029.5h5.3v5.3h-5.3zM920.5 1029.5h5.3v5.3h-5.3zM925.8 1034.8h5.3v5.3h-5.3zM878.1 1040.1h5.3v5.3h-5.3zM925.8 1040.1h5.3v5.3h-5.3zM867.5 1045.4h5.3v5.3h-5.3zM936.4 1045.4h5.3v5.3h-5.3zM878.1 1050.7h5.3v5.3h-5.3zM862.2 1056h5.3v5.3h-5.3zM952.3 1061.3h5.3v5.3h-5.3zM962.9 1061.3h5.3v5.3h-5.3zM973.5 1071.9h5.3v5.3h-5.3zM962.9 1077.2h5.3v5.3h-5.3zM851.6 1082.5h5.3v5.3h-5.3zM962.9 1082.5h5.3v5.3h-5.3zM825.1 1093.1h5.3v5.3h-5.3zM841 1093.1h5.3v5.3h-5.3zM819.8 1119.6h5.3v5.3h-5.3zM830.4 1119.6h5.3v5.3h-5.3zM830.4 1124.9h5.3v5.3h-5.3zM989.4 1124.9h5.3v5.3h-5.3zM978.8 1130.2h5.3v5.3h-5.3zM989.4 1135.5h5.3v5.3h-5.3zM814.5 1140.8h5.3v5.3h-5.3zM825.1 1140.8h5.3v5.3h-5.3zM809.2 1146.1h5.3v5.3h-5.3zM984.1 1146.1h5.3v5.3h-5.3zM989.4 1162h5.3v5.3h-5.3zM814.5 1167.3h5.3v5.3h-5.3zM1010.6 1199.1h5.3v5.3h-5.3zM793.3 1204.4h5.3v5.3h-5.3zM803.9 1204.4h5.3v5.3h-5.3zM788 1215h5.3v5.3h-5.3zM798.6 1215h5.3v5.3h-5.3zM782.7 1220.3h5.3v5.3h-5.3zM798.6 1220.3h5.3v5.3h-5.3zM1005.3 1225.6h5.3v5.3h-5.3zM793.3 1230.9h5.3v5.3h-5.3zM1031.8 1230.9h5.3v5.3h-5.3zM777.4 1236.2h5.3v5.3h-5.3zM793.3 1236.2h5.3v5.3h-5.3zM772.1 1246.8h5.3v5.3h-5.3zM1037.1 1252.1h5.3v5.3h-5.3zM1053 1257.4h5.3v5.3h-5.3zM772.1 1262.7h10.6v5.3h-10.6zM1053 1262.7h5.3v5.3h-5.3zM745.6 1268h5.3v5.3h-5.3zM766.8 1268h5.3v5.3h-5.3zM1037.1 1268h5.3v5.3h-5.3zM1063.6 1268h5.3v5.3h-5.3z"/><path fill="#aae692" d="M268.6 584.3h5.3v5.3h-5.3zM284.5 621.4h5.3v5.3h-5.3zM279.2 632h5.3v5.3h-5.3zM289.8 637.3h5.3v5.3h-5.3zM295.1 642.6h5.3v5.3h-5.3zM311 647.9h5.3v5.3h-5.3zM332.2 647.9h5.3v5.3h-5.3zM316.3 653.2h5.3v5.3h-5.3zM342.8 653.2h5.3v5.3h-5.3zM364 653.2h5.3v5.3h-5.3zM390.5 674.4h5.3v5.3h-5.3zM438.2 674.4h5.3v5.3h-5.3zM464.7 674.4h5.3v5.3h-5.3zM501.8 690.3h5.3v5.3h-5.3zM464.7 695.6h5.3v5.3h-5.3zM538.9 695.6h5.3v5.3h-5.3zM475.3 700.9h5.3v5.3h-5.3zM501.8 706.2h5.3v5.3h-5.3zM517.7 706.2h5.3v5.3h-5.3zM538.9 706.2h5.3v5.3h-5.3zM607.8 722.1h5.3v5.3h-5.3zM650.2 732.7h5.3v5.3h-5.3zM613.1 764.5h5.3v5.3h-5.3zM634.3 769.8h5.3v5.3h-5.3zM618.4 775.1h5.3v5.3h-5.3zM607.8 785.7h5.3v5.3h-5.3zM623.7 785.7h5.3v5.3h-5.3zM581.3 791h5.3v5.3h-5.3zM570.7 796.3h5.3v5.3h-5.3zM565.4 806.9h5.3v5.3h-5.3zM485.9 817.5h5.3v5.3h-5.3zM464.7 822.8h5.3v5.3h-5.3zM390.5 828.1h10.6v5.3h-10.6zM485.9 828.1h5.3v5.3h-5.3zM353.4 833.4h10.6v5.3h-10.6zM353.4 844h5.3v5.3h-5.3zM316.3 854.6h5.3v5.3h-5.3zM316.3 859.9h5.3v5.3h-5.3zM348.1 859.9h5.3v5.3h-5.3zM300.4 865.2h5.3v5.3h-5.3zM326.9 865.2h5.3v5.3h-5.3zM295.1 886.4h5.3v5.3h-5.3zM273.9 891.7h5.3v5.3h-5.3zM289.8 891.7h5.3v5.3h-5.3zM883.4 1008.3h10.6v5.3h-10.6zM920.5 1008.3h5.3v5.3h-5.3zM899.3 1013.6h5.3v5.3h-5.3zM909.9 1013.6h5.3v5.3h-5.3zM920.5 1013.6h5.3v5.3h-5.3zM867.5 1024.2h5.3v5.3h-5.3zM867.5 1034.8h5.3v5.3h-5.3zM867.5 1040.1h5.3v5.3h-5.3zM947 1050.7h5.3v5.3h-5.3zM957.6 1050.7h10.6v5.3h-10.6zM947 1056h10.6v5.3h-10.6zM867.5 1066.6h5.3v5.3h-5.3zM952.3 1066.6h5.3v5.3h-5.3zM835.7 1077.2h5.3v5.3h-5.3zM962.9 1098.4h5.3v5.3h-5.3zM835.7 1103.7h5.3v5.3h-5.3zM973.5 1103.7h10.6v5.3h-10.6zM819.8 1109h5.3v5.3h-5.3zM968.2 1119.6h5.3v5.3h-5.3zM984.1 1119.6h5.3v5.3h-5.3zM814.5 1124.9h5.3v5.3h-5.3zM984.1 1124.9h5.3v5.3h-5.3zM830.4 1130.2h5.3v5.3h-5.3zM973.5 1130.2h5.3v5.3h-5.3zM825.1 1135.5h5.3v5.3h-5.3zM984.1 1151.4h5.3v5.3h-5.3zM803.9 1156.7h5.3v5.3h-5.3zM819.8 1156.7h5.3v5.3h-5.3zM989.4 1156.7h5.3v5.3h-5.3zM1000 1156.7h5.3v5.3h-5.3zM1000 1167.3h5.3v5.3h-5.3zM989.4 1172.6h5.3v5.3h-5.3zM798.6 1183.2h5.3v5.3h-5.3zM814.5 1183.2h5.3v5.3h-5.3zM1000 1183.2h5.3v5.3h-5.3zM798.6 1188.5h5.3v5.3h-5.3zM809.2 1188.5h5.3v5.3h-5.3zM798.6 1199.1h5.3v5.3h-5.3zM793.3 1209.7h5.3v5.3h-5.3zM793.3 1225.6h5.3v5.3h-5.3zM782.7 1230.9h5.3v5.3h-5.3zM1026.5 1230.9h5.3v5.3h-5.3zM788 1236.2h5.3v5.3h-5.3zM1015.9 1236.2h5.3v5.3h-5.3zM788 1246.8h5.3v5.3h-5.3zM1026.5 1246.8h5.3v5.3h-5.3zM782.7 1252.1h5.3v5.3h-5.3zM1058.3 1268h5.3v5.3h-5.3z"/><path fill="#d6f6c6" d="M273.9 584.3h5.3v5.3h-5.3zM279.2 610.8h5.3v5.3h-5.3zM273.9 616.1h5.3v5.3h-5.3zM289.8 621.4h5.3v5.3h-5.3zM316.3 632h5.3v5.3h-5.3zM295.1 637.3h5.3v5.3h-5.3zM321.6 637.3h5.3v5.3h-5.3zM326.9 647.9h5.3v5.3h-5.3zM348.1 653.2h5.3v5.3h-5.3zM348.1 663.8h5.3v5.3h-5.3zM432.9 663.8h5.3v5.3h-5.3zM427.6 685h5.3v5.3h-5.3zM438.2 685h5.3v5.3h-5.3zM480.6 690.3h5.3v5.3h-5.3zM507.1 695.6h10.6v5.3h-10.6zM533.6 695.6h5.3v5.3h-5.3zM544.2 695.6h5.3v5.3h-5.3zM470 700.9h5.3v5.3h-5.3zM560.1 700.9h5.3v5.3h-5.3zM533.6 706.2h5.3v5.3h-5.3zM560.1 706.2h21.2v5.3h-21.2zM549.5 711.5h5.3v5.3h-5.3zM597.2 711.5h5.3v5.3h-5.3zM554.8 716.8h5.3v5.3h-5.3zM586.6 722.1h10.6v5.3h-10.6zM613.1 732.7h5.3v5.3h-5.3zM644.9 732.7h5.3v5.3h-5.3zM629 748.6h10.6v5.3h-10.6zM623.7 753.9h5.3v5.3h-5.3zM623.7 759.2h5.3v5.3h-5.3zM591.9 764.5h5.3v5.3h-5.3zM629 769.8h5.3v5.3h-5.3zM607.8 775.1h5.3v5.3h-5.3zM629 775.1h5.3v5.3h-5.3zM586.6 780.4h5.3v5.3h-5.3zM533.6 801.6h5.3v5.3h-5.3zM544.2 801.6h5.3v5.3h-5.3zM491.2 806.9h5.3v5.3h-5.3zM507.1 806.9h5.3v5.3h-5.3zM523 806.9h5.3v5.3h-5.3zM576 806.9h5.3v5.3h-5.3zM554.8 812.2h5.3v5.3h-5.3zM517.7 817.5h5.3v5.3h-5.3zM438.2 822.8h21.2v5.3h-21.2zM475.3 822.8h5.3v5.3h-5.3zM491.2 828.1h5.3v5.3h-5.3zM470 833.4h5.3v5.3h-5.3zM480.6 833.4h5.3v5.3h-5.3zM353.4 838.7h5.3v5.3h-5.3zM342.8 859.9h5.3v5.3h-5.3zM311 865.2h5.3v5.3h-5.3zM279.2 881.1h5.3v5.3h-5.3zM295.1 881.1h5.3v5.3h-5.3zM305.7 881.1h5.3v5.3h-5.3zM279.2 886.4h5.3v5.3h-5.3zM289.8 886.4h5.3v5.3h-5.3zM273.9 907.6h5.3v5.3h-5.3zM904.6 1003h5.3v5.3h-5.3zM904.6 1013.6h5.3v5.3h-5.3zM867.5 1018.9h5.3v5.3h-5.3zM878.1 1024.2h5.3v5.3h-5.3zM920.5 1024.2h5.3v5.3h-5.3zM867.5 1029.5h5.3v5.3h-5.3zM878.1 1029.5h5.3v5.3h-5.3zM915.2 1034.8h5.3v5.3h-5.3zM941.7 1034.8h5.3v5.3h-5.3zM915.2 1040.1h5.3v5.3h-5.3zM941.7 1040.1h15.9v5.3h-15.9zM931.1 1045.4h5.3v5.3h-5.3zM862.2 1050.7h5.3v5.3h-5.3zM941.7 1050.7h5.3v5.3h-5.3zM856.9 1056h5.3v5.3h-5.3zM851.6 1061.3h5.3v5.3h-5.3zM867.5 1061.3h5.3v5.3h-5.3zM846.3 1066.6h5.3v5.3h-5.3zM862.2 1066.6h5.3v5.3h-5.3zM957.6 1066.6h5.3v5.3h-5.3zM835.7 1071.9h5.3v5.3h-5.3zM862.2 1071.9h5.3v5.3h-5.3zM856.9 1077.2h5.3v5.3h-5.3zM973.5 1077.2h5.3v5.3h-5.3zM830.4 1082.5h5.3v5.3h-5.3zM973.5 1082.5h5.3v5.3h-5.3zM835.7 1098.4h5.3v5.3h-5.3zM962.9 1103.7h5.3v5.3h-5.3zM978.8 1114.3h5.3v5.3h-5.3zM989.4 1130.2h5.3v5.3h-5.3zM809.2 1140.8h5.3v5.3h-5.3zM825.1 1146.1h5.3v5.3h-5.3zM994.7 1146.1h5.3v5.3h-5.3zM809.2 1151.4h5.3v5.3h-5.3zM1000 1151.4h5.3v5.3h-5.3zM984.1 1156.7h5.3v5.3h-5.3zM803.9 1167.3h5.3v5.3h-5.3zM989.4 1183.2h5.3v5.3h-5.3zM994.7 1199.1h5.3v5.3h-5.3zM809.2 1204.4h5.3v5.3h-5.3zM1015.9 1209.7h5.3v5.3h-5.3zM803.9 1215h5.3v5.3h-5.3zM788 1220.3h5.3v5.3h-5.3zM1010.6 1225.6h5.3v5.3h-5.3zM1021.2 1225.6h5.3v5.3h-5.3zM1031.8 1236.2h5.3v5.3h-5.3zM1037.1 1241.5h5.3v5.3h-5.3zM782.7 1246.8h5.3v5.3h-5.3zM1021.2 1246.8h5.3v5.3h-5.3zM1042.4 1252.1h5.3v5.3h-5.3zM756.2 1257.4h5.3v5.3h-5.3zM756.2 1262.7h5.3v5.3h-5.3zM1037.1 1262.7h5.3v5.3h-5.3zM750.9 1268h5.3v5.3h-5.3zM1047.7 1268h5.3v5.3h-5.3z"/><path fill="#629642" d="M422.3 663.8h5.3v5.3h-5.3zM401.1 674.4h5.3v5.3h-5.3z"/></g>
<rect x="267.1" y="1279" width="262.9" height="6" fill="#b9d6b2"/>
<rect x="530" y="1278" width="176" height="7" fill="#93d873"/>
<rect x="706" y="1273.5" width="50" height="11.5" fill="#62c432"/>
<rect x="1057" y="1274" width="177" height="11" fill="#8fd56c"/>
<rect x="1234" y="1279" width="325.9" height="6" fill="#b9d6b2"/>
<rect x="267.1" y="1273.5" width="488.9" height="5.5" fill="#e4f6da" opacity="0.6"/>
<rect x="1057" y="1273.5" width="502.9" height="5.5" fill="#e4f6da" opacity="0.6"/>
<rect x="575" y="1273" width="5.5" height="5.5" fill="#5f9a3e"/>
<rect x="586" y="1278" width="5.5" height="5.5" fill="#4f8a34"/>
<rect x="602" y="1273" width="5.5" height="5.5" fill="#5f9a3e"/>
<rect x="648" y="1273" width="5.5" height="5.5" fill="#5f9a3e"/>
<rect x="670" y="1278" width="5.5" height="5.5" fill="#4f8a34"/>
<rect x="685" y="1273" width="5.5" height="5.5" fill="#5f9a3e"/>
<rect x="708" y="1273" width="5.5" height="5.5" fill="#3f8a14"/>
<rect x="1062" y="1273" width="5.5" height="5.5" fill="#4f8a34"/>
<rect x="1085" y="1273" width="5.5" height="5.5" fill="#3f7a24"/>
<rect x="1092" y="1268" width="5.5" height="5.5" fill="#9aa89a"/>
<rect x="1138" y="1273" width="5.5" height="5.5" fill="#4f8a34"/>
<rect x="1140" y="1268" width="5.5" height="5.5" fill="#9aa89a"/>
<rect x="1192" y="1279" width="5.5" height="5.5" fill="#2f6a14"/>
<rect x="1202" y="1273" width="5.5" height="5.5" fill="#4f8a34"/>
<rect x="264.4" y="221.8" width="1298.1" height="1065.8" fill="none" stroke="#0a0a0a" stroke-width="5.3"/>
<rect x="261.8" y="1289.1" width="1303.4" height="1.4" fill="#0a0a0a"/>
<rect x="1565.2" y="220.2" width="4.8" height="1069.5" fill="#3b3f4c"/>
<rect x="287.7" y="1272" width="4.4" height="13" fill="#0a0a0a"/><rect x="495.5" y="1272" width="4.4" height="13" fill="#0a0a0a"/><rect x="703.2" y="1272" width="4.4" height="13" fill="#0a0a0a"/><rect x="911" y="1272" width="4.4" height="13" fill="#0a0a0a"/><rect x="1118.8" y="1272" width="4.4" height="13" fill="#0a0a0a"/><rect x="1326.5" y="1272" width="4.4" height="13" fill="#0a0a0a"/><rect x="1534.3" y="1272" width="4.4" height="13" fill="#0a0a0a"/><rect x="266.6" y="397.6" width="14.2" height="5" fill="#0a0a0a"/><rect x="266.6" y="754.4" width="14.2" height="5" fill="#0a0a0a"/><rect x="266.6" y="1111" width="14.2" height="5" fill="#0a0a0a"/>
<defs><linearGradient id="cb" x1="0" y1="0" x2="0" y2="1"><stop offset="-0.0006" stop-color="#701028"/><stop offset="0.0102" stop-color="#800000"/><stop offset="0.0230" stop-color="#980000"/><stop offset="0.0398" stop-color="#c00800"/><stop offset="0.0536" stop-color="#e81008"/><stop offset="0.0693" stop-color="#ff2010"/><stop offset="0.1077" stop-color="#ff3018"/><stop offset="0.1363" stop-color="#fc4020"/><stop offset="0.1609" stop-color="#fa5820"/><stop offset="0.1855" stop-color="#f87020"/><stop offset="0.2072" stop-color="#f88820"/><stop offset="0.2298" stop-color="#f0a020"/><stop offset="0.2495" stop-color="#e8b820"/><stop offset="0.2653" stop-color="#e8c820"/><stop offset="0.2692" stop-color="#e0f030"/><stop offset="0.3027" stop-color="#e8f830"/><stop offset="0.3145" stop-color="#d8f430"/><stop offset="0.3510" stop-color="#c0f030"/><stop offset="0.3884" stop-color="#a8ec30"/><stop offset="0.4248" stop-color="#98ec40"/><stop offset="0.4603" stop-color="#90ec50"/><stop offset="0.5046" stop-color="#88ec60"/><stop offset="0.5332" stop-color="#80ec70"/><stop offset="0.5578" stop-color="#80ec88"/><stop offset="0.5824" stop-color="#78eca0"/><stop offset="0.6070" stop-color="#78ecb0"/><stop offset="0.6336" stop-color="#78ecb8"/><stop offset="0.6612" stop-color="#70e8c8"/><stop offset="0.6888" stop-color="#68e0d0"/><stop offset="0.7045" stop-color="#58c8d8"/><stop offset="0.7203" stop-color="#48a8e0"/><stop offset="0.7419" stop-color="#3888e0"/><stop offset="0.7636" stop-color="#2868e0"/><stop offset="0.7853" stop-color="#1850e0"/><stop offset="0.8069" stop-color="#1040d8"/><stop offset="0.8503" stop-color="#0c38d0"/><stop offset="0.8916" stop-color="#0830c8"/><stop offset="0.9182" stop-color="#0828c0"/><stop offset="0.9369" stop-color="#1030d0"/><stop offset="0.9478" stop-color="#2848e0"/><stop offset="0.9586" stop-color="#6878e8"/><stop offset="0.9694" stop-color="#a0a8f0"/><stop offset="0.9803" stop-color="#d0d0f8"/><stop offset="0.9881" stop-color="#eeeeff"/><stop offset="0.9950" stop-color="#ffffff"/></linearGradient></defs>
<rect x="1575.0" y="219.5" width="49.0" height="5.3" fill="#f8b8dc"/>
<rect x="1575.0" y="224.6" width="43.0" height="1065.4" fill="url(#cb)"/>
<rect x="1618.0" y="224.6" width="5.6" height="1065.4" fill="url(#cb)" opacity="0.42"/>
<rect x="1623.6" y="224.6" width="5.4" height="1065.4" fill="url(#cb)" opacity="0.12"/>
<rect x="1575.0" y="224.6" width="5.2" height="1065.4" fill="#fff" opacity="0.30"/>
<rect x="1580.2" y="224.6" width="5.2" height="1030.4" fill="#000" opacity="0.05"/>
<rect x="1612.0" y="224.6" width="6" height="1030.4" fill="#000" opacity="0.05"/>
<rect x="1618.0" y="230.3" width="38" height="10.4" fill="#7c8790"/>
<rect x="1618.0" y="230.3" width="11" height="10.4" fill="#6e3a55"/>
<rect x="1618.0" y="759.8" width="38" height="10.4" fill="#7c8790"/>
<rect x="1618.0" y="759.8" width="11" height="10.4" fill="#6a8f78"/>
<rect x="1618.0" y="1279.5" width="38" height="10.4" fill="#7c8790"/>
<rect x="1618.0" y="1279.5" width="11" height="10.4" fill="#8f9ab5"/>
<rect x="1618.0" y="338.1" width="22" height="5.6" fill="#2a2c36"/>
<rect x="1634.5" y="338.1" width="5.5" height="5.6" fill="#8a9a96"/>
<rect x="1618.0" y="343.7" width="22" height="4" fill="#c8d0c8" opacity="0.5"/>
<rect x="1618.0" y="444.5" width="22" height="5.6" fill="#2a2c36"/>
<rect x="1634.5" y="444.5" width="5.5" height="5.6" fill="#8a9a96"/>
<rect x="1618.0" y="450.1" width="22" height="4" fill="#c8d0c8" opacity="0.5"/>
<rect x="1618.0" y="546.1" width="22" height="5.6" fill="#2a2c36"/>
<rect x="1634.5" y="546.1" width="5.5" height="5.6" fill="#8a9a96"/>
<rect x="1618.0" y="551.7" width="22" height="4" fill="#c8d0c8" opacity="0.5"/>
<rect x="1618.0" y="651.1" width="22" height="5.6" fill="#2a2c36"/>
<rect x="1634.5" y="651.1" width="5.5" height="5.6" fill="#8a9a96"/>
<rect x="1618.0" y="656.7" width="22" height="4" fill="#c8d0c8" opacity="0.5"/>
<rect x="1618.0" y="863.5" width="22" height="5.6" fill="#2a2c36"/>
<rect x="1634.5" y="863.5" width="5.5" height="5.6" fill="#8a9a96"/>
<rect x="1618.0" y="869.1" width="22" height="4" fill="#c8d0c8" opacity="0.5"/>
<rect x="1618.0" y="970.4" width="22" height="5.6" fill="#2a2c36"/>
<rect x="1634.5" y="970.4" width="5.5" height="5.6" fill="#8a9a96"/>
<rect x="1618.0" y="976" width="22" height="4" fill="#c8d0c8" opacity="0.5"/>
<rect x="1618.0" y="1075.2" width="22" height="5.6" fill="#2a2c36"/>
<rect x="1634.5" y="1075.2" width="5.5" height="5.6" fill="#8a9a96"/>
<rect x="1618.0" y="1080.8" width="22" height="4" fill="#c8d0c8" opacity="0.5"/>
<rect x="1618.0" y="1175.7" width="22" height="5.6" fill="#2a2c36"/>
<rect x="1634.5" y="1175.7" width="5.5" height="5.6" fill="#8a9a96"/>
<rect x="1618.0" y="1181.3" width="22" height="4" fill="#c8d0c8" opacity="0.5"/>
<text x="417.3" y="55" font-size="69" textLength="993.7" lengthAdjust="spacingAndGlyphs" xml:space="preserve" style="white-space:pre">Ele #537 [113.49 m]  NGOOD:1 000</text>
<text x="682.5" y="166.8" font-size="68" textLength="466.5" lengthAdjust="spacingAndGlyphs">X(mm)-X′(mrad)</text>
<text x="289.1" y="1367.3" font-size="69" text-anchor="middle">−6</text>
<text x="496.1" y="1367.3" font-size="69" text-anchor="middle">−4</text>
<text x="705" y="1367.3" font-size="69" text-anchor="middle">−2</text>
<text x="912.7" y="1367.3" font-size="69" text-anchor="middle">0</text>
<text x="1121.5" y="1367.3" font-size="69" text-anchor="middle">2</text>
<text x="1328.5" y="1367.3" font-size="69" text-anchor="middle">4</text>
<text x="1536" y="1367.3" font-size="69" text-anchor="middle">6</text>
<text x="240.8" y="416.3" font-size="69" text-anchor="end">10</text>
<text x="240.8" y="773.1" font-size="69" text-anchor="end">0</text>
<text x="240.8" y="1131.7" font-size="69" text-anchor="end">−10</text>
<text x="1671.5" y="256.8" font-size="69" textLength="82.1" lengthAdjust="spacing">1.0</text>
<text x="1669" y="782.7" font-size="69" textLength="83.4" lengthAdjust="spacing">0.5</text>
<text x="1669" y="1307.5" font-size="69">0</text>
</svg></body></html>
